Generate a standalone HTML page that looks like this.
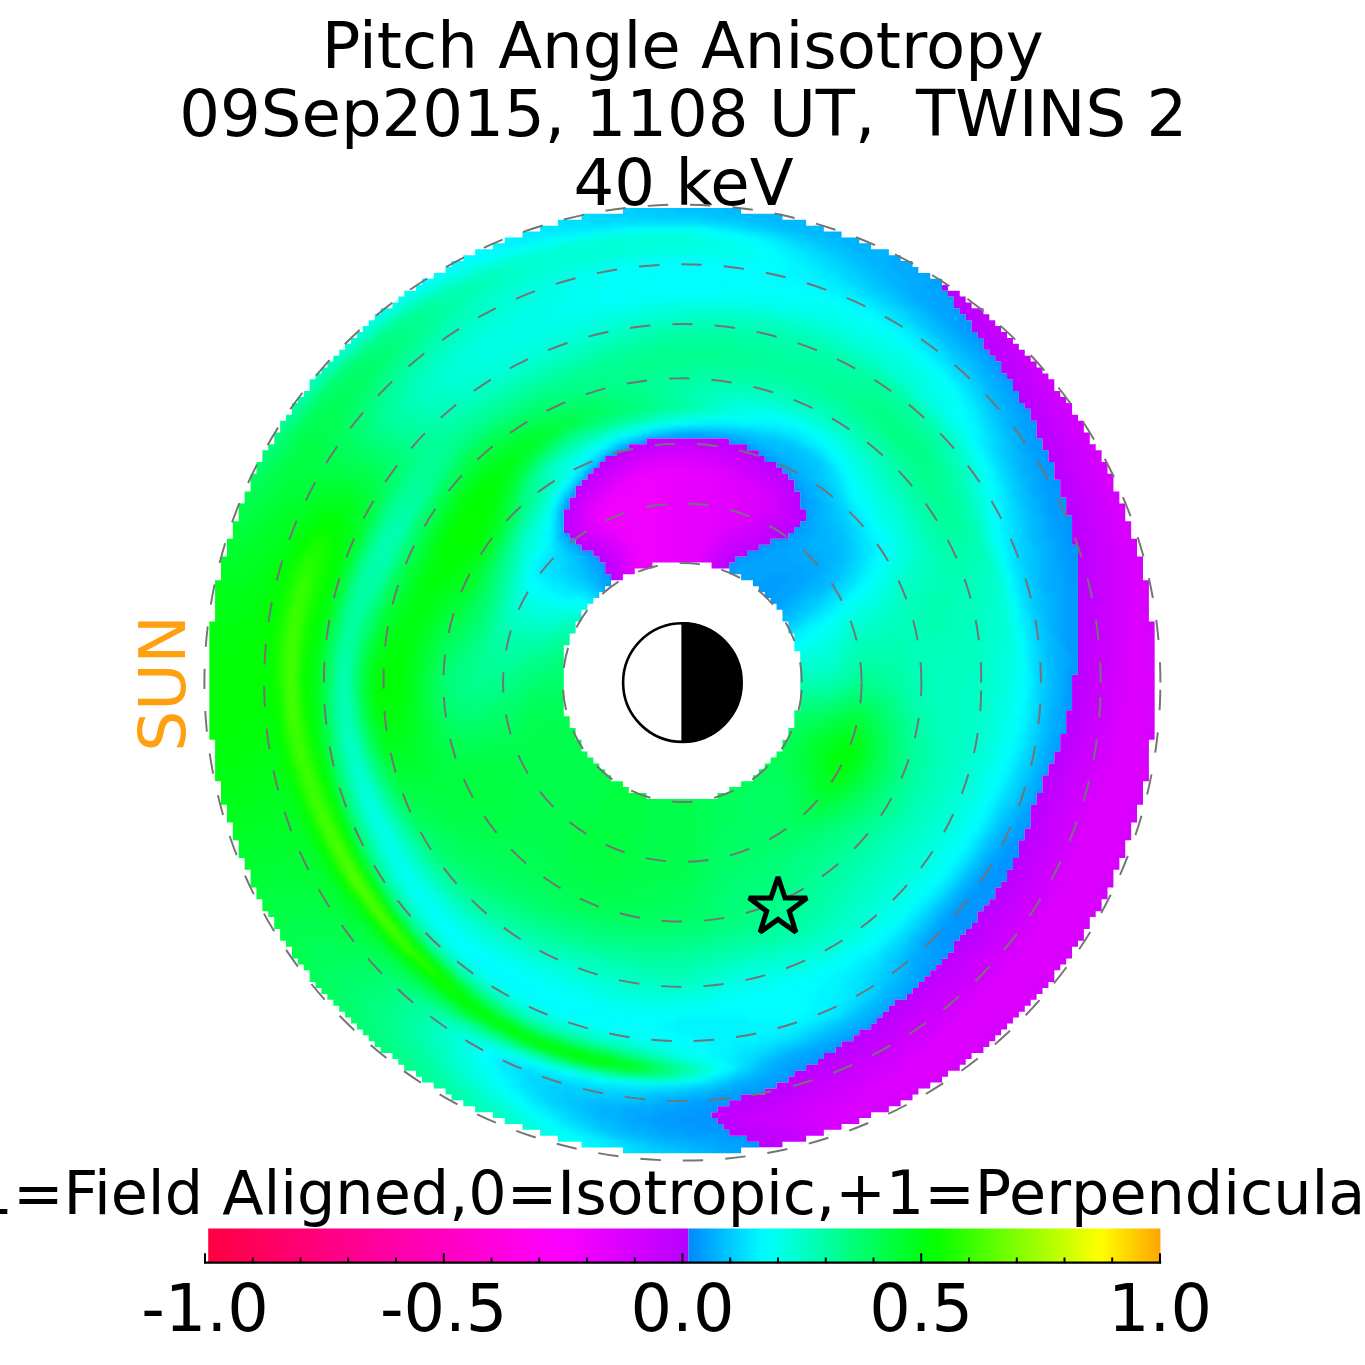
<!DOCTYPE html>
<html><head><meta charset="utf-8"><title>Pitch Angle Anisotropy</title>
<style>
html,body{margin:0;padding:0;background:#fff;}
body{width:1365px;height:1365px;overflow:hidden;}
svg{display:block;}
text{font-family:"DejaVu Sans","Liberation Sans",sans-serif;fill:#000;}
</style></head><body>
<svg width="1365" height="1365" viewBox="0 0 1365 1365">
<rect width="1365" height="1365" fill="#fff"/>
<g font-size="64.1" text-anchor="middle">
<text x="682.8" y="68.3">Pitch Angle Anisotropy</text>
<text x="683.3" y="136.3" xml:space="preserve" style="white-space:pre">09Sep2015, 1108 UT,  TWINS 2</text>
<text x="683.6" y="205">40 keV</text>
</g>
<g transform="translate(209.2 207.9) scale(5.91)">
<defs><clipPath id="cpos"><path shape-rendering="crispEdges" d="M70 0h20v1h-20zM63 1h34v1h-34zM59 2h42v1h-42zM56 3h48v1h-48zM53 4h54v1h-54zM50 5h60v1h-60zM48 6h64v1h-64zM45 7h70v1h-70zM43 8h74v1h-74zM41 9h78v1h-78zM40 10h80v1h-80zM38 11h84v1h-84zM36 12h88v1h-88zM35 13h89v1h-89zM33 14h92v1h-92zM32 15h94v1h-94zM31 16h95v1h-95zM29 17h98v1h-98zM28 18h100v1h-100zM27 19h102v1h-102zM26 20h103v1h-103zM25 21h105v1h-105zM24 22h107v1h-107zM23 23h108v1h-108zM22 24h110v1h-110zM21 25h112v1h-112zM20 26h114v1h-114zM19 27h115v1h-115zM18 28h117v1h-117zM17 29h119v1h-119zM17 30h119v1h-119zM16 31h121v1h-121zM15 32h122v1h-122zM14 33h124v1h-124zM14 34h125v1h-125zM13 35h126v1h-126zM12 36h128v1h-128zM12 37h128v1h-128zM11 38h129v1h-129zM11 39h63v1h-63zM88 39h53v1h-53zM10 40h61v1h-61zM91 40h50v1h-50zM9 41h60v1h-60zM93 41h49v1h-49zM9 42h58v1h-58zM94 42h48v1h-48zM8 43h58v1h-58zM96 43h47v1h-47zM8 44h57v1h-57zM97 44h46v1h-46zM7 45h57v1h-57zM98 45h45v1h-45zM7 46h56v1h-56zM99 46h45v1h-45zM7 47h55v1h-55zM99 47h45v1h-45zM6 48h56v1h-56zM100 48h44v1h-44zM6 49h55v1h-55zM100 49h45v1h-45zM5 50h56v1h-56zM100 50h45v1h-45zM5 51h55v1h-55zM101 51h44v1h-44zM5 52h55v1h-55zM101 52h45v1h-45zM4 53h56v1h-56zM100 53h46v1h-46zM4 54h56v1h-56zM99 54h47v1h-47zM4 55h57v1h-57zM98 55h48v1h-48zM3 56h59v1h-59zM95 56h51v1h-51zM3 57h60v1h-60zM93 57h54v1h-54zM3 58h62v1h-62zM91 58h56v1h-56zM2 59h64v1h-64zM89 59h58v1h-58zM2 60h65v1h-65zM88 60h59v1h-59zM2 61h65v1h-65zM88 61h59v1h-59zM2 62h66v1h-66zM90 62h57v1h-57zM1 63h67v1h-67zM92 63h55v1h-55zM1 64h66v1h-66zM93 64h54v1h-54zM1 65h65v1h-65zM94 65h53v1h-53zM1 66h64v1h-64zM95 66h52v1h-52zM1 67h63v1h-63zM96 67h51v1h-51zM1 68h62v1h-62zM97 68h50v1h-50zM1 69h62v1h-62zM97 69h50v1h-50zM0 70h62v1h-62zM98 70h49v1h-49zM0 71h62v1h-62zM98 71h49v1h-49zM0 72h61v1h-61zM99 72h48v1h-48zM0 73h61v1h-61zM99 73h48v1h-48zM0 74h60v1h-60zM99 74h48v1h-48zM0 75h60v1h-60zM100 75h47v1h-47zM0 76h60v1h-60zM100 76h47v1h-47zM0 77h60v1h-60zM100 77h47v1h-47zM0 78h60v1h-60zM100 78h47v1h-47zM0 79h60v1h-60zM100 79h46v1h-46zM0 80h60v1h-60zM100 80h46v1h-46zM0 81h60v1h-60zM100 81h46v1h-46zM0 82h60v1h-60zM100 82h46v1h-46zM0 83h60v1h-60zM100 83h46v1h-46zM0 84h60v1h-60zM100 84h46v1h-46zM0 85h60v1h-60zM99 85h46v1h-46zM0 86h61v1h-61zM99 86h46v1h-46zM0 87h61v1h-61zM99 87h46v1h-46zM0 88h62v1h-62zM98 88h47v1h-47zM0 89h62v1h-62zM98 89h46v1h-46zM1 90h62v1h-62zM97 90h47v1h-47zM1 91h62v1h-62zM97 91h47v1h-47zM1 92h63v1h-63zM96 92h47v1h-47zM1 93h64v1h-64zM95 93h48v1h-48zM1 94h65v1h-65zM94 94h48v1h-48zM1 95h66v1h-66zM93 95h49v1h-49zM1 96h67v1h-67zM92 96h49v1h-49zM2 97h68v1h-68zM90 97h51v1h-51zM2 98h69v1h-69zM88 98h53v1h-53zM2 99h72v1h-72zM86 99h54v1h-54zM2 100h138v1h-138zM3 101h136v1h-136zM3 102h136v1h-136zM3 103h136v1h-136zM4 104h135v1h-135zM4 105h134v1h-134zM4 106h134v1h-134zM5 107h132v1h-132zM5 108h132v1h-132zM5 109h132v1h-132zM6 110h130v1h-130zM6 111h130v1h-130zM7 112h128v1h-128zM7 113h128v1h-128zM7 114h127v1h-127zM8 115h125v1h-125zM8 116h125v1h-125zM9 117h123v1h-123zM9 118h122v1h-122zM10 119h120v1h-120zM11 120h119v1h-119zM11 121h118v1h-118zM12 122h116v1h-116zM12 123h115v1h-115zM13 124h113v1h-113zM14 125h112v1h-112zM14 126h111v1h-111zM15 127h109v1h-109zM16 128h107v1h-107zM17 129h105v1h-105zM17 130h104v1h-104zM18 131h102v1h-102zM19 132h100v1h-100zM20 133h98v1h-98zM21 134h95v1h-95zM22 135h93v1h-93zM23 136h91v1h-91zM24 137h89v1h-89zM25 138h87v1h-87zM26 139h84v1h-84zM27 140h82v1h-82zM28 141h79v1h-79zM29 142h77v1h-77zM31 143h73v1h-73zM32 144h71v1h-71zM33 145h68v1h-68zM35 146h64v1h-64zM36 147h62v1h-62zM38 148h58v1h-58zM40 149h54v1h-54zM41 150h49v1h-49zM43 151h45v1h-45zM45 152h41v1h-41zM48 153h37v1h-37zM50 154h36v1h-36zM53 155h34v1h-34zM56 156h32v1h-32zM59 157h32v1h-32zM63 158h30v1h-30zM70 159h20v1h-20z"/></clipPath><clipPath id="cneg"><path shape-rendering="crispEdges" d="M124 13h1v1h-1zM125 14h2v1h-2zM126 15h2v1h-2zM126 16h3v1h-3zM127 17h4v1h-4zM128 18h4v1h-4zM129 19h4v1h-4zM129 20h5v1h-5zM130 21h5v1h-5zM131 22h5v1h-5zM131 23h6v1h-6zM132 24h6v1h-6zM133 25h6v1h-6zM134 26h6v1h-6zM134 27h7v1h-7zM135 28h7v1h-7zM136 29h7v1h-7zM136 30h7v1h-7zM137 31h7v1h-7zM137 32h8v1h-8zM138 33h8v1h-8zM139 34h7v1h-7zM139 35h8v1h-8zM140 36h8v1h-8zM140 37h8v1h-8zM140 38h9v1h-9zM74 39h14v1h-14zM141 39h8v1h-8zM71 40h20v1h-20zM141 40h9v1h-9zM69 41h24v1h-24zM142 41h9v1h-9zM67 42h27v1h-27zM142 42h9v1h-9zM66 43h30v1h-30zM143 43h9v1h-9zM65 44h32v1h-32zM143 44h9v1h-9zM64 45h34v1h-34zM143 45h10v1h-10zM63 46h36v1h-36zM144 46h9v1h-9zM62 47h37v1h-37zM144 47h9v1h-9zM62 48h38v1h-38zM144 48h10v1h-10zM61 49h39v1h-39zM145 49h9v1h-9zM61 50h39v1h-39zM145 50h10v1h-10zM60 51h41v1h-41zM145 51h10v1h-10zM60 52h41v1h-41zM146 52h9v1h-9zM60 53h40v1h-40zM146 53h10v1h-10zM60 54h39v1h-39zM146 54h10v1h-10zM61 55h37v1h-37zM146 55h10v1h-10zM62 56h33v1h-33zM146 56h11v1h-11zM63 57h30v1h-30zM147 57h10v1h-10zM65 58h26v1h-26zM147 58h10v1h-10zM66 59h23v1h-23zM147 59h11v1h-11zM67 60h8v1h-8zM85 60h3v1h-3zM147 60h11v1h-11zM67 61h5v1h-5zM147 61h11v1h-11zM68 62h2v1h-2zM147 62h11v1h-11zM147 63h12v1h-12zM147 64h12v1h-12zM147 65h12v1h-12zM147 66h12v1h-12zM147 67h12v1h-12zM147 68h12v1h-12zM147 69h12v1h-12zM147 70h13v1h-13zM147 71h13v1h-13zM147 72h13v1h-13zM147 73h13v1h-13zM147 74h13v1h-13zM147 75h13v1h-13zM147 76h13v1h-13zM147 77h13v1h-13zM147 78h13v1h-13zM146 79h14v1h-14zM146 80h14v1h-14zM146 81h14v1h-14zM146 82h14v1h-14zM146 83h14v1h-14zM146 84h14v1h-14zM145 85h15v1h-15zM145 86h15v1h-15zM145 87h15v1h-15zM145 88h15v1h-15zM144 89h16v1h-16zM144 90h15v1h-15zM144 91h15v1h-15zM143 92h16v1h-16zM143 93h16v1h-16zM142 94h17v1h-17zM142 95h17v1h-17zM141 96h18v1h-18zM141 97h17v1h-17zM141 98h17v1h-17zM140 99h18v1h-18zM140 100h18v1h-18zM139 101h18v1h-18zM139 102h18v1h-18zM139 103h18v1h-18zM139 104h17v1h-17zM138 105h18v1h-18zM138 106h18v1h-18zM137 107h18v1h-18zM137 108h18v1h-18zM137 109h18v1h-18zM136 110h18v1h-18zM136 111h18v1h-18zM135 112h18v1h-18zM135 113h18v1h-18zM134 114h19v1h-19zM133 115h19v1h-19zM133 116h19v1h-19zM132 117h19v1h-19zM131 118h20v1h-20zM130 119h20v1h-20zM130 120h19v1h-19zM129 121h20v1h-20zM128 122h20v1h-20zM127 123h21v1h-21zM126 124h21v1h-21zM126 125h20v1h-20zM125 126h21v1h-21zM124 127h21v1h-21zM123 128h21v1h-21zM122 129h21v1h-21zM121 130h22v1h-22zM120 131h22v1h-22zM119 132h22v1h-22zM118 133h22v1h-22zM116 134h23v1h-23zM115 135h23v1h-23zM114 136h23v1h-23zM113 137h23v1h-23zM112 138h23v1h-23zM110 139h24v1h-24zM109 140h24v1h-24zM107 141h25v1h-25zM106 142h25v1h-25zM104 143h25v1h-25zM103 144h25v1h-25zM101 145h26v1h-26zM99 146h26v1h-26zM98 147h26v1h-26zM96 148h26v1h-26zM94 149h26v1h-26zM90 150h29v1h-29zM88 151h29v1h-29zM86 152h29v1h-29zM85 153h27v1h-27zM86 154h24v1h-24zM87 155h20v1h-20zM88 156h16v1h-16zM91 157h10v1h-10zM93 158h4v1h-4z"/></clipPath><filter id="bl" x="-5%" y="-5%" width="110%" height="110%" color-interpolation-filters="sRGB"><feGaussianBlur stdDeviation="0.45"/></filter></defs>
<g clip-path="url(#cpos)"><g filter="url(#bl)" shape-rendering="crispEdges"><path fill="#0095ff" d="M122 9h2v1h-2zM122 10h3v1h-3zM123 11h4v1h-4zM124 12h4v1h-4zM124 13h5v1h-5zM125 14h6v1h-6zM126 15h6v1h-6zM126 16h7v1h-7zM127 17h7v1h-7zM128 18h7v1h-7zM129 19h7v1h-7zM129 20h8v1h-8zM130 21h8v1h-8zM131 22h8v1h-8zM131 23h9v1h-9zM132 24h9v1h-9zM133 25h9v1h-9zM134 26h9v1h-9zM134 27h10v1h-10zM135 28h10v1h-10zM136 29h10v1h-10zM136 30h10v1h-10zM137 31h10v1h-10zM137 32h11v1h-11zM138 33h11v1h-11zM139 34h10v1h-10zM139 35h11v1h-11zM140 36h11v1h-11zM140 37h11v1h-11zM140 38h12v1h-12zM74 39h14v1h-14zM141 39h11v1h-11zM71 40h20v1h-20zM141 40h12v1h-12zM69 41h24v1h-24zM141 41h13v1h-13zM67 42h27v1h-27zM142 42h12v1h-12zM66 43h30v1h-30zM142 43h13v1h-13zM65 44h32v1h-32zM143 44h12v1h-12zM64 45h34v1h-34zM143 45h13v1h-13zM63 46h36v1h-36zM143 46h13v1h-13zM62 47h37v1h-37zM144 47h12v1h-12zM62 48h38v1h-38zM144 48h13v1h-13zM61 49h39v1h-39zM144 49h13v1h-13zM61 50h39v1h-39zM145 50h13v1h-13zM60 51h41v1h-41zM145 51h13v1h-13zM60 52h41v1h-41zM145 52h13v1h-13zM60 53h40v1h-40zM145 53h14v1h-14zM60 54h39v1h-39zM145 54h14v1h-14zM61 55h37v1h-37zM145 55h14v1h-14zM62 56h33v1h-33zM145 56h15v1h-15zM63 57h30v1h-30zM146 57h14v1h-14zM65 58h26v1h-26zM146 58h14v1h-14zM66 59h23v1h-23zM146 59h15v1h-15zM67 60h21v1h-21zM146 60h15v1h-15zM67 61h21v1h-21zM146 61h15v1h-15zM68 62h20v1h-20zM146 62h15v1h-15zM68 63h7v1h-7zM85 63h2v1h-2zM147 63h15v1h-15zM69 64h3v1h-3zM147 64h15v1h-15zM147 65h15v1h-15zM147 66h15v1h-15zM147 67h15v1h-15zM147 68h15v1h-15zM147 69h15v1h-15zM147 70h16v1h-16zM147 71h16v1h-16zM147 72h16v1h-16zM147 73h16v1h-16zM147 74h16v1h-16zM147 75h16v1h-16zM147 76h16v1h-16zM147 77h16v1h-16zM147 78h16v1h-16zM146 79h17v1h-17zM146 80h17v1h-17zM146 81h17v1h-17zM146 82h17v1h-17zM146 83h17v1h-17zM146 84h17v1h-17zM145 85h18v1h-18zM145 86h18v1h-18zM145 87h18v1h-18zM145 88h18v1h-18zM144 89h19v1h-19zM144 90h18v1h-18zM144 91h18v1h-18zM143 92h19v1h-19zM143 93h19v1h-19zM142 94h20v1h-20zM142 95h20v1h-20zM141 96h21v1h-21zM141 97h20v1h-20zM141 98h20v1h-20zM140 99h21v1h-21zM140 100h21v1h-21zM139 101h21v1h-21zM139 102h21v1h-21zM139 103h21v1h-21zM139 104h20v1h-20zM138 105h21v1h-21zM137 106h22v1h-22zM136 107h22v1h-22zM135 108h23v1h-23zM135 109h23v1h-23zM134 110h23v1h-23zM133 111h24v1h-24zM132 112h24v1h-24zM131 113h25v1h-25zM130 114h26v1h-26zM130 115h25v1h-25zM129 116h26v1h-26zM128 117h26v1h-26zM127 118h27v1h-27zM126 119h27v1h-27zM126 120h26v1h-26zM125 121h27v1h-27zM124 122h27v1h-27zM124 123h27v1h-27zM124 124h26v1h-26zM124 125h25v1h-25zM125 126h24v1h-24zM124 127h24v1h-24zM123 128h24v1h-24zM122 129h24v1h-24zM121 130h25v1h-25zM120 131h25v1h-25zM119 132h25v1h-25zM118 133h25v1h-25zM116 134h26v1h-26zM115 135h26v1h-26zM114 136h26v1h-26zM113 137h26v1h-26zM112 138h26v1h-26zM110 139h27v1h-27zM109 140h27v1h-27zM107 141h28v1h-28zM106 142h28v1h-28zM104 143h29v1h-29zM103 144h29v1h-29zM101 145h30v1h-30zM99 146h30v1h-30zM98 147h30v1h-30zM96 148h31v1h-31zM94 149h31v1h-31zM90 150h34v1h-34zM87 151h35v1h-35zM84 152h36v1h-36zM82 153h37v1h-37zM80 154h37v1h-37zM83 155h32v1h-32zM88 156h24v1h-24zM91 157h19v1h-19zM93 158h14v1h-14zM93 159h11v1h-11zM94 160h7v1h-7zM94 161h3v1h-3z"/><path fill="#009cff" d="M126 17h1v1h-1zM127 18h1v1h-1zM127 19h2v1h-2zM127 20h2v1h-2zM128 21h2v1h-2zM129 22h2v1h-2zM130 23h1v1h-1zM131 24h1v1h-1zM132 25h1v1h-1zM133 26h1v1h-1zM133 27h1v1h-1zM134 28h1v1h-1zM135 29h1v1h-1zM136 31h1v1h-1zM137 33h1v1h-1zM138 34h1v1h-1zM138 35h1v1h-1zM138 36h2v1h-2zM138 37h2v1h-2zM139 38h1v1h-1zM88 39h1v1h-1zM139 39h2v1h-2zM91 40h1v1h-1zM139 40h2v1h-2zM140 41h1v1h-1zM94 42h1v1h-1zM140 42h2v1h-2zM140 43h2v1h-2zM97 44h1v1h-1zM141 44h2v1h-2zM98 45h1v1h-1zM141 45h2v1h-2zM99 46h1v1h-1zM141 46h2v1h-2zM99 47h1v1h-1zM141 47h3v1h-3zM61 48h1v1h-1zM100 48h1v1h-1zM142 48h2v1h-2zM100 49h1v1h-1zM142 49h2v1h-2zM60 50h1v1h-1zM100 50h1v1h-1zM142 50h3v1h-3zM142 51h3v1h-3zM143 52h2v1h-2zM100 53h1v1h-1zM143 53h2v1h-2zM99 54h1v1h-1zM143 54h2v1h-2zM60 55h1v1h-1zM98 55h1v1h-1zM144 55h1v1h-1zM61 56h1v1h-1zM95 56h3v1h-3zM144 56h1v1h-1zM93 57h3v1h-3zM144 57h2v1h-2zM64 58h1v1h-1zM91 58h3v1h-3zM144 58h2v1h-2zM89 59h3v1h-3zM144 59h2v1h-2zM66 60h1v1h-1zM88 60h2v1h-2zM145 60h1v1h-1zM88 61h1v1h-1zM145 61h1v1h-1zM67 62h1v1h-1zM88 62h1v1h-1zM94 62h5v1h-5zM145 62h1v1h-1zM67 63h1v1h-1zM87 63h1v1h-1zM92 63h6v1h-6zM145 63h2v1h-2zM68 64h1v1h-1zM92 64h5v1h-5zM145 64h2v1h-2zM69 65h1v1h-1zM92 65h4v1h-4zM145 65h2v1h-2zM92 66h4v1h-4zM145 66h2v1h-2zM93 67h1v1h-1zM145 67h2v1h-2zM145 68h2v1h-2zM145 69h2v1h-2zM145 70h2v1h-2zM145 71h2v1h-2zM145 72h2v1h-2zM145 73h2v1h-2zM145 74h2v1h-2zM146 75h1v1h-1zM146 76h1v1h-1zM146 77h1v1h-1zM145 78h2v1h-2zM145 79h1v1h-1zM145 80h1v1h-1zM145 81h1v1h-1zM145 82h1v1h-1zM145 83h1v1h-1zM145 84h1v1h-1zM138 102h1v1h-1zM138 103h1v1h-1zM137 104h2v1h-2zM137 105h1v1h-1zM136 106h1v1h-1zM135 107h1v1h-1zM134 108h1v1h-1zM134 109h1v1h-1zM133 110h1v1h-1zM132 111h1v1h-1zM131 112h1v1h-1zM130 113h1v1h-1zM129 115h1v1h-1zM128 116h1v1h-1zM127 117h1v1h-1zM126 118h1v1h-1zM125 119h1v1h-1zM125 120h1v1h-1zM124 121h1v1h-1zM123 122h1v1h-1zM123 123h1v1h-1zM122 124h2v1h-2zM122 125h2v1h-2zM122 126h3v1h-3zM122 127h2v1h-2zM121 128h2v1h-2zM121 129h1v1h-1zM108 140h1v1h-1zM106 141h1v1h-1zM104 142h2v1h-2zM102 143h2v1h-2zM100 144h3v1h-3zM98 145h3v1h-3zM97 146h2v1h-2zM95 147h3v1h-3zM93 148h3v1h-3zM90 149h4v1h-4zM86 150h4v1h-4zM82 151h5v1h-5zM79 152h5v1h-5zM76 153h6v1h-6zM75 154h5v1h-5zM77 155h6v1h-6zM80 156h8v1h-8zM86 157h5v1h-5zM90 158h3v1h-3zM90 159h3v1h-3zM90 160h4v1h-4zM91 161h3v1h-3z"/><path fill="#00a4ff" d="M121 11h2v1h-2zM121 12h3v1h-3zM121 13h3v1h-3zM122 14h3v1h-3zM122 15h4v1h-4zM122 16h4v1h-4zM123 17h3v1h-3zM124 18h3v1h-3zM125 19h2v1h-2zM126 20h1v1h-1zM127 21h1v1h-1zM128 22h1v1h-1zM129 23h1v1h-1zM130 24h1v1h-1zM131 25h1v1h-1zM131 26h2v1h-2zM132 27h1v1h-1zM133 28h1v1h-1zM134 29h1v1h-1zM134 30h2v1h-2zM135 31h1v1h-1zM135 32h2v1h-2zM136 33h1v1h-1zM136 34h2v1h-2zM137 35h1v1h-1zM137 36h1v1h-1zM137 37h1v1h-1zM79 38h5v1h-5zM138 38h1v1h-1zM73 39h1v1h-1zM89 39h1v1h-1zM138 39h1v1h-1zM70 40h1v1h-1zM138 40h1v1h-1zM68 41h1v1h-1zM93 41h1v1h-1zM138 41h2v1h-2zM95 42h1v1h-1zM139 42h1v1h-1zM96 43h1v1h-1zM139 43h1v1h-1zM98 44h1v1h-1zM139 44h2v1h-2zM140 45h1v1h-1zM140 46h1v1h-1zM100 47h1v1h-1zM140 47h1v1h-1zM140 48h2v1h-2zM101 49h1v1h-1zM141 49h1v1h-1zM101 50h1v1h-1zM141 50h1v1h-1zM101 51h1v1h-1zM141 51h1v1h-1zM101 52h1v1h-1zM142 52h1v1h-1zM101 53h1v1h-1zM142 53h1v1h-1zM100 54h2v1h-2zM142 54h1v1h-1zM99 55h2v1h-2zM142 55h2v1h-2zM98 56h2v1h-2zM143 56h1v1h-1zM62 57h1v1h-1zM96 57h3v1h-3zM143 57h1v1h-1zM94 58h4v1h-4zM143 58h1v1h-1zM65 59h1v1h-1zM92 59h7v1h-7zM143 59h1v1h-1zM65 60h1v1h-1zM90 60h11v1h-11zM143 60h2v1h-2zM66 61h1v1h-1zM89 61h13v1h-13zM143 61h2v1h-2zM66 62h1v1h-1zM89 62h5v1h-5zM99 62h2v1h-2zM144 62h1v1h-1zM88 63h4v1h-4zM98 63h3v1h-3zM144 63h1v1h-1zM67 64h1v1h-1zM88 64h4v1h-4zM97 64h3v1h-3zM144 64h1v1h-1zM68 65h1v1h-1zM90 65h2v1h-2zM96 65h3v1h-3zM144 65h1v1h-1zM96 66h2v1h-2zM144 66h1v1h-1zM94 67h3v1h-3zM144 67h1v1h-1zM94 68h1v1h-1zM144 68h1v1h-1zM144 69h1v1h-1zM144 70h1v1h-1zM144 71h1v1h-1zM144 72h1v1h-1zM144 73h1v1h-1zM145 75h1v1h-1zM145 76h1v1h-1zM145 77h1v1h-1zM144 82h1v1h-1zM144 83h1v1h-1zM144 84h1v1h-1zM144 85h1v1h-1zM144 86h1v1h-1zM144 87h1v1h-1zM144 88h1v1h-1zM143 89h1v1h-1zM143 90h1v1h-1zM143 91h1v1h-1zM142 92h1v1h-1zM142 93h1v1h-1zM141 95h1v1h-1zM140 97h1v1h-1zM140 98h1v1h-1zM139 99h1v1h-1zM139 100h1v1h-1zM138 101h1v1h-1zM137 103h1v1h-1zM136 104h1v1h-1zM136 105h1v1h-1zM135 106h1v1h-1zM134 107h1v1h-1zM133 109h1v1h-1zM132 110h1v1h-1zM131 111h1v1h-1zM130 112h1v1h-1zM129 114h1v1h-1zM128 115h1v1h-1zM127 116h1v1h-1zM126 117h1v1h-1zM124 120h1v1h-1zM123 121h1v1h-1zM122 122h1v1h-1zM122 123h1v1h-1zM121 124h1v1h-1zM121 125h1v1h-1zM120 126h2v1h-2zM120 127h2v1h-2zM120 128h1v1h-1zM119 129h2v1h-2zM119 130h2v1h-2zM118 131h2v1h-2zM118 132h1v1h-1zM117 133h1v1h-1zM112 137h1v1h-1zM111 138h1v1h-1zM109 139h1v1h-1zM107 140h1v1h-1zM105 141h1v1h-1zM102 142h2v1h-2zM100 143h2v1h-2zM98 144h2v1h-2zM97 145h1v1h-1zM95 146h2v1h-2zM93 147h2v1h-2zM91 148h2v1h-2zM88 149h2v1h-2zM84 150h2v1h-2zM79 151h3v1h-3zM75 152h4v1h-4zM72 153h4v1h-4zM72 154h3v1h-3zM74 155h3v1h-3zM76 156h4v1h-4zM81 157h5v1h-5zM86 158h4v1h-4zM88 159h2v1h-2zM88 160h2v1h-2zM88 161h3v1h-3zM88 162h2v1h-2z"/><path fill="#00abff" d="M116 5h1v1h-1zM116 6h3v1h-3zM115 7h5v1h-5zM115 8h7v1h-7zM115 9h7v1h-7zM116 10h6v1h-6zM117 11h4v1h-4zM118 12h3v1h-3zM118 13h3v1h-3zM119 14h3v1h-3zM119 15h3v1h-3zM121 16h1v1h-1zM122 17h1v1h-1zM123 18h1v1h-1zM124 19h1v1h-1zM125 20h1v1h-1zM126 21h1v1h-1zM127 22h1v1h-1zM128 23h1v1h-1zM129 24h1v1h-1zM130 25h1v1h-1zM131 27h1v1h-1zM132 28h1v1h-1zM133 29h1v1h-1zM133 30h1v1h-1zM134 31h1v1h-1zM134 32h1v1h-1zM135 33h1v1h-1zM135 34h1v1h-1zM136 35h1v1h-1zM136 36h1v1h-1zM136 37h1v1h-1zM78 38h1v1h-1zM84 38h3v1h-3zM137 38h1v1h-1zM90 39h1v1h-1zM137 39h1v1h-1zM92 40h1v1h-1zM137 40h1v1h-1zM94 41h1v1h-1zM137 41h1v1h-1zM96 42h1v1h-1zM138 42h1v1h-1zM97 43h1v1h-1zM138 43h1v1h-1zM64 44h1v1h-1zM138 44h1v1h-1zM99 45h1v1h-1zM139 45h1v1h-1zM100 46h1v1h-1zM139 46h1v1h-1zM101 47h1v1h-1zM139 47h1v1h-1zM101 48h1v1h-1zM139 48h1v1h-1zM60 49h1v1h-1zM102 49h1v1h-1zM140 49h1v1h-1zM102 50h1v1h-1zM140 50h1v1h-1zM102 51h1v1h-1zM140 51h1v1h-1zM102 52h1v1h-1zM141 52h1v1h-1zM102 53h1v1h-1zM141 53h1v1h-1zM102 54h1v1h-1zM141 54h1v1h-1zM101 55h2v1h-2zM141 55h1v1h-1zM100 56h2v1h-2zM142 56h1v1h-1zM99 57h3v1h-3zM142 57h1v1h-1zM63 58h1v1h-1zM98 58h6v1h-6zM142 58h1v1h-1zM64 59h1v1h-1zM99 59h5v1h-5zM142 59h1v1h-1zM64 60h1v1h-1zM101 60h3v1h-3zM142 60h1v1h-1zM65 61h1v1h-1zM102 61h2v1h-2zM142 61h1v1h-1zM101 62h2v1h-2zM142 62h2v1h-2zM66 63h1v1h-1zM101 63h1v1h-1zM142 63h2v1h-2zM100 64h1v1h-1zM142 64h2v1h-2zM99 65h1v1h-1zM143 65h1v1h-1zM98 66h1v1h-1zM143 66h1v1h-1zM97 67h1v1h-1zM143 67h1v1h-1zM95 68h2v1h-2zM143 68h1v1h-1zM94 69h2v1h-2zM143 69h1v1h-1zM143 70h1v1h-1zM143 71h1v1h-1zM143 72h1v1h-1zM144 74h1v1h-1zM144 75h1v1h-1zM144 76h1v1h-1zM144 77h1v1h-1zM144 78h1v1h-1zM144 79h1v1h-1zM144 80h1v1h-1zM144 81h1v1h-1zM143 84h1v1h-1zM143 85h1v1h-1zM143 86h1v1h-1zM143 87h1v1h-1zM143 88h1v1h-1zM142 89h1v1h-1zM142 90h1v1h-1zM142 91h1v1h-1zM141 92h1v1h-1zM141 93h1v1h-1zM141 94h1v1h-1zM140 95h1v1h-1zM140 96h1v1h-1zM139 98h1v1h-1zM138 100h1v1h-1zM137 102h1v1h-1zM136 103h1v1h-1zM135 105h1v1h-1zM134 106h1v1h-1zM133 108h1v1h-1zM132 109h1v1h-1zM131 110h1v1h-1zM129 113h1v1h-1zM128 114h1v1h-1zM127 115h1v1h-1zM125 118h1v1h-1zM124 119h1v1h-1zM123 120h1v1h-1zM121 123h1v1h-1zM120 124h1v1h-1zM120 125h1v1h-1zM119 126h1v1h-1zM119 127h1v1h-1zM119 128h1v1h-1zM118 129h1v1h-1zM118 130h1v1h-1zM117 131h1v1h-1zM116 132h2v1h-2zM115 133h2v1h-2zM114 134h2v1h-2zM113 135h2v1h-2zM112 136h2v1h-2zM111 137h1v1h-1zM109 138h2v1h-2zM108 139h1v1h-1zM106 140h1v1h-1zM103 141h2v1h-2zM100 142h2v1h-2zM98 143h2v1h-2zM96 144h2v1h-2zM95 145h2v1h-2zM94 146h1v1h-1zM92 147h1v1h-1zM89 148h2v1h-2zM86 149h2v1h-2zM81 150h3v1h-3zM76 151h3v1h-3zM70 152h5v1h-5zM69 153h3v1h-3zM70 154h2v1h-2zM71 155h3v1h-3zM74 156h2v1h-2zM77 157h4v1h-4zM82 158h4v1h-4zM85 159h3v1h-3zM86 160h2v1h-2zM86 161h2v1h-2zM86 162h2v1h-2z"/><path fill="#00b3ff" d="M104 1h3v1h-3zM104 2h6v1h-6zM104 3h8v1h-8zM105 4h10v1h-10zM107 5h9v1h-9zM108 6h8v1h-8zM110 7h5v1h-5zM111 8h4v1h-4zM112 9h3v1h-3zM114 10h2v1h-2zM114 11h3v1h-3zM115 12h3v1h-3zM116 13h2v1h-2zM117 14h2v1h-2zM118 15h1v1h-1zM119 16h2v1h-2zM121 17h1v1h-1zM122 18h1v1h-1zM123 19h1v1h-1zM124 20h1v1h-1zM125 21h1v1h-1zM126 22h1v1h-1zM127 23h1v1h-1zM128 24h1v1h-1zM129 25h1v1h-1zM130 26h1v1h-1zM130 27h1v1h-1zM131 28h1v1h-1zM132 29h1v1h-1zM132 30h1v1h-1zM133 31h1v1h-1zM133 32h1v1h-1zM134 33h1v1h-1zM134 34h1v1h-1zM135 35h1v1h-1zM135 36h1v1h-1zM135 37h1v1h-1zM77 38h1v1h-1zM87 38h1v1h-1zM136 38h1v1h-1zM91 39h1v1h-1zM136 39h1v1h-1zM93 40h1v1h-1zM136 40h1v1h-1zM95 41h1v1h-1zM97 42h1v1h-1zM137 42h1v1h-1zM65 43h1v1h-1zM98 43h1v1h-1zM137 43h1v1h-1zM99 44h1v1h-1zM137 44h1v1h-1zM63 45h1v1h-1zM100 45h1v1h-1zM138 45h1v1h-1zM62 46h1v1h-1zM101 46h1v1h-1zM138 46h1v1h-1zM102 47h1v1h-1zM138 47h1v1h-1zM102 48h1v1h-1zM103 49h1v1h-1zM139 49h1v1h-1zM103 50h1v1h-1zM139 50h1v1h-1zM103 51h1v1h-1zM139 51h1v1h-1zM103 52h1v1h-1zM140 52h1v1h-1zM103 53h1v1h-1zM140 53h1v1h-1zM103 54h2v1h-2zM140 54h1v1h-1zM103 55h2v1h-2zM140 55h1v1h-1zM60 56h1v1h-1zM102 56h3v1h-3zM140 56h2v1h-2zM61 57h1v1h-1zM102 57h4v1h-4zM141 57h1v1h-1zM62 58h1v1h-1zM104 58h2v1h-2zM141 58h1v1h-1zM63 59h1v1h-1zM104 59h2v1h-2zM141 59h1v1h-1zM104 60h1v1h-1zM141 60h1v1h-1zM64 61h1v1h-1zM104 61h1v1h-1zM141 61h1v1h-1zM65 62h1v1h-1zM103 62h1v1h-1zM141 62h1v1h-1zM102 63h2v1h-2zM141 63h1v1h-1zM66 64h1v1h-1zM101 64h2v1h-2zM141 64h1v1h-1zM67 65h1v1h-1zM100 65h1v1h-1zM141 65h2v1h-2zM99 66h1v1h-1zM142 66h1v1h-1zM98 67h1v1h-1zM142 67h1v1h-1zM97 68h1v1h-1zM142 68h1v1h-1zM96 69h1v1h-1zM142 69h1v1h-1zM142 70h1v1h-1zM142 71h1v1h-1zM143 73h1v1h-1zM143 74h1v1h-1zM143 75h1v1h-1zM143 76h1v1h-1zM143 77h1v1h-1zM143 78h1v1h-1zM143 79h1v1h-1zM143 80h1v1h-1zM143 81h1v1h-1zM143 82h1v1h-1zM143 83h1v1h-1zM142 85h1v1h-1zM142 86h1v1h-1zM142 87h1v1h-1zM142 88h1v1h-1zM141 90h1v1h-1zM141 91h1v1h-1zM140 93h1v1h-1zM140 94h1v1h-1zM139 96h1v1h-1zM139 97h1v1h-1zM138 98h1v1h-1zM138 99h1v1h-1zM137 100h1v1h-1zM137 101h1v1h-1zM136 102h1v1h-1zM135 104h1v1h-1zM134 105h1v1h-1zM133 107h1v1h-1zM132 108h1v1h-1zM131 109h1v1h-1zM130 111h1v1h-1zM129 112h1v1h-1zM128 113h1v1h-1zM126 116h1v1h-1zM125 117h1v1h-1zM124 118h1v1h-1zM122 121h1v1h-1zM121 122h1v1h-1zM120 123h1v1h-1zM119 125h1v1h-1zM118 126h1v1h-1zM118 127h1v1h-1zM118 128h1v1h-1zM117 129h1v1h-1zM117 130h1v1h-1zM116 131h1v1h-1zM115 132h1v1h-1zM114 133h1v1h-1zM113 134h1v1h-1zM112 135h1v1h-1zM111 136h1v1h-1zM110 137h1v1h-1zM108 138h1v1h-1zM106 139h2v1h-2zM104 140h2v1h-2zM102 141h1v1h-1zM99 142h1v1h-1zM97 143h1v1h-1zM95 144h1v1h-1zM94 145h1v1h-1zM92 146h2v1h-2zM90 147h2v1h-2zM88 148h1v1h-1zM85 149h1v1h-1zM79 150h2v1h-2zM73 151h3v1h-3zM66 152h4v1h-4zM66 153h3v1h-3zM68 154h2v1h-2zM69 155h2v1h-2zM71 156h3v1h-3zM75 157h2v1h-2zM79 158h3v1h-3zM83 159h2v1h-2zM83 160h3v1h-3zM83 161h3v1h-3zM83 162h3v1h-3z"/><path fill="#00baff" d="M84 -3h6v1h-6zM84 -2h13v1h-13zM84 -1h17v1h-17zM87 0h17v1h-17zM91 1h13v1h-13zM95 2h9v1h-9zM98 3h6v1h-6zM101 4h4v1h-4zM104 5h3v1h-3zM106 6h2v1h-2zM108 7h2v1h-2zM109 8h2v1h-2zM111 9h1v1h-1zM112 10h2v1h-2zM113 11h1v1h-1zM114 12h1v1h-1zM115 13h1v1h-1zM116 14h1v1h-1zM117 15h1v1h-1zM118 16h1v1h-1zM120 17h1v1h-1zM121 18h1v1h-1zM122 19h1v1h-1zM123 20h1v1h-1zM124 21h1v1h-1zM125 22h1v1h-1zM126 23h1v1h-1zM127 24h1v1h-1zM128 25h1v1h-1zM129 26h1v1h-1zM129 27h1v1h-1zM130 28h1v1h-1zM131 29h1v1h-1zM131 30h1v1h-1zM132 31h1v1h-1zM132 32h1v1h-1zM133 33h1v1h-1zM133 34h1v1h-1zM134 35h1v1h-1zM134 36h1v1h-1zM76 38h1v1h-1zM88 38h2v1h-2zM135 38h1v1h-1zM72 39h1v1h-1zM92 39h1v1h-1zM135 39h1v1h-1zM69 40h1v1h-1zM94 40h2v1h-2zM96 41h3v1h-3zM136 41h1v1h-1zM66 42h1v1h-1zM98 42h2v1h-2zM136 42h1v1h-1zM99 43h2v1h-2zM136 43h1v1h-1zM100 44h2v1h-2zM101 45h1v1h-1zM137 45h1v1h-1zM102 46h1v1h-1zM137 46h1v1h-1zM103 47h1v1h-1zM103 48h1v1h-1zM138 48h1v1h-1zM138 49h1v1h-1zM104 50h1v1h-1zM138 50h1v1h-1zM59 51h1v1h-1zM104 51h1v1h-1zM59 52h1v1h-1zM104 52h1v1h-1zM139 52h1v1h-1zM59 53h1v1h-1zM104 53h2v1h-2zM139 53h1v1h-1zM59 54h1v1h-1zM105 54h1v1h-1zM139 54h1v1h-1zM59 55h1v1h-1zM105 55h2v1h-2zM139 55h1v1h-1zM105 56h2v1h-2zM139 56h1v1h-1zM106 57h1v1h-1zM140 57h1v1h-1zM106 58h1v1h-1zM140 58h1v1h-1zM62 59h1v1h-1zM106 59h1v1h-1zM140 59h1v1h-1zM63 60h1v1h-1zM105 60h2v1h-2zM140 60h1v1h-1zM63 61h1v1h-1zM105 61h1v1h-1zM140 61h1v1h-1zM64 62h1v1h-1zM104 62h2v1h-2zM140 62h1v1h-1zM65 63h1v1h-1zM104 63h1v1h-1zM140 63h1v1h-1zM103 64h1v1h-1zM140 64h1v1h-1zM66 65h1v1h-1zM101 65h2v1h-2zM67 66h1v1h-1zM100 66h1v1h-1zM141 66h1v1h-1zM99 67h1v1h-1zM141 67h1v1h-1zM98 68h1v1h-1zM141 68h1v1h-1zM97 69h1v1h-1zM141 69h1v1h-1zM95 70h1v1h-1zM141 70h1v1h-1zM142 72h1v1h-1zM142 73h1v1h-1zM142 74h1v1h-1zM142 75h1v1h-1zM142 76h1v1h-1zM142 77h1v1h-1zM142 78h1v1h-1zM142 79h1v1h-1zM142 80h1v1h-1zM142 81h1v1h-1zM142 82h1v1h-1zM142 83h1v1h-1zM142 84h1v1h-1zM141 87h1v1h-1zM141 88h1v1h-1zM141 89h1v1h-1zM140 91h1v1h-1zM140 92h1v1h-1zM139 94h1v1h-1zM139 95h1v1h-1zM138 97h1v1h-1zM137 99h1v1h-1zM136 101h1v1h-1zM135 103h1v1h-1zM134 104h1v1h-1zM133 106h1v1h-1zM132 107h1v1h-1zM130 110h1v1h-1zM129 111h1v1h-1zM127 114h1v1h-1zM126 115h1v1h-1zM123 119h1v1h-1zM122 120h1v1h-1zM121 121h1v1h-1zM119 124h1v1h-1zM118 125h1v1h-1zM117 127h1v1h-1zM117 128h1v1h-1zM116 129h1v1h-1zM116 130h1v1h-1zM115 131h1v1h-1zM114 132h1v1h-1zM113 133h1v1h-1zM112 134h1v1h-1zM111 135h1v1h-1zM110 136h1v1h-1zM109 137h1v1h-1zM107 138h1v1h-1zM105 139h1v1h-1zM103 140h1v1h-1zM101 141h1v1h-1zM98 142h1v1h-1zM96 143h1v1h-1zM94 144h1v1h-1zM93 145h1v1h-1zM89 147h1v1h-1zM87 148h1v1h-1zM83 149h2v1h-2zM76 150h3v1h-3zM64 151h9v1h-9zM64 152h2v1h-2zM65 153h1v1h-1zM66 154h2v1h-2zM68 155h1v1h-1zM70 156h1v1h-1zM73 157h2v1h-2zM77 158h2v1h-2zM81 159h2v1h-2zM81 160h2v1h-2zM81 161h2v1h-2zM81 162h2v1h-2z"/><path fill="#00c1ff" d="M77 -3h7v1h-7zM77 -2h7v1h-7zM77 -1h7v1h-7zM79 0h8v1h-8zM84 1h7v1h-7zM91 2h4v1h-4zM96 3h2v1h-2zM99 4h2v1h-2zM102 5h2v1h-2zM104 6h2v1h-2zM106 7h2v1h-2zM108 8h1v1h-1zM109 9h2v1h-2zM110 10h2v1h-2zM111 11h2v1h-2zM112 12h2v1h-2zM113 13h2v1h-2zM115 14h1v1h-1zM116 15h1v1h-1zM117 16h1v1h-1zM119 17h1v1h-1zM120 18h1v1h-1zM121 19h1v1h-1zM122 20h1v1h-1zM123 21h1v1h-1zM124 22h1v1h-1zM125 23h1v1h-1zM126 24h1v1h-1zM127 25h1v1h-1zM128 26h1v1h-1zM129 28h1v1h-1zM130 29h1v1h-1zM131 31h1v1h-1zM132 33h1v1h-1zM133 35h1v1h-1zM134 37h1v1h-1zM75 38h1v1h-1zM90 38h2v1h-2zM134 38h1v1h-1zM93 39h3v1h-3zM96 40h3v1h-3zM135 40h1v1h-1zM67 41h1v1h-1zM99 41h2v1h-2zM135 41h1v1h-1zM100 42h2v1h-2zM135 42h1v1h-1zM101 43h2v1h-2zM102 44h1v1h-1zM136 44h1v1h-1zM102 45h1v1h-1zM136 45h1v1h-1zM103 46h1v1h-1zM61 47h1v1h-1zM137 47h1v1h-1zM104 48h1v1h-1zM137 48h1v1h-1zM104 49h1v1h-1zM137 49h1v1h-1zM105 50h1v1h-1zM105 51h1v1h-1zM138 51h1v1h-1zM105 52h1v1h-1zM138 52h1v1h-1zM106 53h1v1h-1zM138 53h1v1h-1zM106 54h1v1h-1zM138 54h1v1h-1zM107 55h1v1h-1zM138 55h1v1h-1zM107 56h1v1h-1zM60 57h1v1h-1zM107 57h1v1h-1zM139 57h1v1h-1zM61 58h1v1h-1zM107 58h1v1h-1zM139 58h1v1h-1zM107 59h1v1h-1zM139 59h1v1h-1zM62 60h1v1h-1zM139 60h1v1h-1zM62 61h1v1h-1zM106 61h1v1h-1zM139 61h1v1h-1zM63 62h1v1h-1zM106 62h1v1h-1zM139 62h1v1h-1zM64 63h1v1h-1zM105 63h1v1h-1zM139 63h1v1h-1zM65 64h1v1h-1zM104 64h1v1h-1zM103 65h1v1h-1zM140 65h1v1h-1zM101 66h1v1h-1zM140 66h1v1h-1zM100 67h1v1h-1zM140 67h1v1h-1zM99 68h1v1h-1zM140 68h1v1h-1zM98 69h1v1h-1zM96 70h1v1h-1zM95 71h1v1h-1zM141 71h1v1h-1zM141 72h1v1h-1zM141 73h1v1h-1zM141 74h1v1h-1zM141 75h1v1h-1zM141 76h1v1h-1zM141 83h1v1h-1zM141 84h1v1h-1zM141 85h1v1h-1zM141 86h1v1h-1zM140 89h1v1h-1zM140 90h1v1h-1zM139 93h1v1h-1zM138 96h1v1h-1zM137 98h1v1h-1zM136 100h1v1h-1zM135 102h1v1h-1zM134 103h1v1h-1zM133 105h1v1h-1zM132 106h1v1h-1zM131 108h1v1h-1zM130 109h1v1h-1zM128 112h1v1h-1zM127 113h1v1h-1zM125 116h1v1h-1zM124 117h1v1h-1zM123 118h1v1h-1zM122 119h1v1h-1zM120 122h1v1h-1zM119 123h1v1h-1zM118 124h1v1h-1zM117 125h1v1h-1zM117 126h1v1h-1zM116 127h1v1h-1zM116 128h1v1h-1zM115 129h1v1h-1zM115 130h1v1h-1zM114 131h1v1h-1zM110 135h1v1h-1zM109 136h1v1h-1zM108 137h1v1h-1zM106 138h1v1h-1zM104 139h1v1h-1zM102 140h1v1h-1zM100 141h1v1h-1zM97 142h1v1h-1zM95 143h1v1h-1zM93 144h1v1h-1zM92 145h1v1h-1zM91 146h1v1h-1zM88 147h1v1h-1zM86 148h1v1h-1zM81 149h2v1h-2zM73 150h3v1h-3zM61 151h3v1h-3zM62 152h2v1h-2zM63 153h2v1h-2zM65 154h1v1h-1zM66 155h2v1h-2zM68 156h2v1h-2zM71 157h2v1h-2zM75 158h2v1h-2zM79 159h2v1h-2zM79 160h2v1h-2zM79 161h2v1h-2zM79 162h2v1h-2z"/><path fill="#00c9ff" d="M72 -3h5v1h-5zM72 -2h5v1h-5zM72 -1h5v1h-5zM72 0h7v1h-7zM76 1h8v1h-8zM89 2h2v1h-2zM94 3h2v1h-2zM97 4h2v1h-2zM100 5h2v1h-2zM103 6h1v1h-1zM105 7h1v1h-1zM106 8h2v1h-2zM108 9h1v1h-1zM109 10h1v1h-1zM110 11h1v1h-1zM111 12h1v1h-1zM112 13h1v1h-1zM114 14h1v1h-1zM115 15h1v1h-1zM116 16h1v1h-1zM118 17h1v1h-1zM119 18h1v1h-1zM120 19h1v1h-1zM121 20h1v1h-1zM122 21h1v1h-1zM123 22h1v1h-1zM124 23h1v1h-1zM125 24h1v1h-1zM126 25h1v1h-1zM127 26h1v1h-1zM128 27h1v1h-1zM129 29h1v1h-1zM130 30h1v1h-1zM131 32h1v1h-1zM132 34h1v1h-1zM133 36h1v1h-1zM81 37h5v1h-5zM133 37h1v1h-1zM92 38h1v1h-1zM71 39h1v1h-1zM96 39h2v1h-2zM134 39h1v1h-1zM99 40h1v1h-1zM134 40h1v1h-1zM101 41h1v1h-1zM134 41h1v1h-1zM102 42h1v1h-1zM103 43h1v1h-1zM135 43h1v1h-1zM103 44h1v1h-1zM135 44h1v1h-1zM103 45h1v1h-1zM104 46h1v1h-1zM136 46h1v1h-1zM104 47h1v1h-1zM136 47h1v1h-1zM60 48h1v1h-1zM105 48h1v1h-1zM136 48h1v1h-1zM105 49h1v1h-1zM59 50h1v1h-1zM137 50h1v1h-1zM106 51h1v1h-1zM137 51h1v1h-1zM106 52h1v1h-1zM137 52h1v1h-1zM107 53h1v1h-1zM107 54h1v1h-1zM59 56h1v1h-1zM108 56h1v1h-1zM138 56h1v1h-1zM108 57h1v1h-1zM138 57h1v1h-1zM60 58h1v1h-1zM108 58h1v1h-1zM138 58h1v1h-1zM61 59h1v1h-1zM108 59h1v1h-1zM138 59h1v1h-1zM61 60h1v1h-1zM107 60h1v1h-1zM138 60h1v1h-1zM61 61h1v1h-1zM107 61h1v1h-1zM138 61h1v1h-1zM62 62h1v1h-1zM106 63h1v1h-1zM105 64h1v1h-1zM139 64h1v1h-1zM139 65h1v1h-1zM66 66h1v1h-1zM102 66h1v1h-1zM139 66h1v1h-1zM101 67h1v1h-1zM139 67h1v1h-1zM100 68h1v1h-1zM99 69h1v1h-1zM140 69h1v1h-1zM97 70h1v1h-1zM140 70h1v1h-1zM140 71h1v1h-1zM140 72h1v1h-1zM141 77h1v1h-1zM141 78h1v1h-1zM141 79h1v1h-1zM141 80h1v1h-1zM141 81h1v1h-1zM141 82h1v1h-1zM140 86h1v1h-1zM140 87h1v1h-1zM140 88h1v1h-1zM139 91h1v1h-1zM139 92h1v1h-1zM138 94h1v1h-1zM138 95h1v1h-1zM137 97h1v1h-1zM136 99h1v1h-1zM135 101h1v1h-1zM134 102h1v1h-1zM133 104h1v1h-1zM131 107h1v1h-1zM129 110h1v1h-1zM128 111h1v1h-1zM126 114h1v1h-1zM125 115h1v1h-1zM121 120h1v1h-1zM120 121h1v1h-1zM119 122h1v1h-1zM118 123h1v1h-1zM116 126h1v1h-1zM115 127h1v1h-1zM115 128h1v1h-1zM114 129h1v1h-1zM114 130h1v1h-1zM113 131h1v1h-1zM113 132h1v1h-1zM112 133h1v1h-1zM111 134h1v1h-1zM108 136h1v1h-1zM107 137h1v1h-1zM105 138h1v1h-1zM103 139h1v1h-1zM101 140h1v1h-1zM99 141h1v1h-1zM96 142h1v1h-1zM94 143h1v1h-1zM90 146h1v1h-1zM85 148h1v1h-1zM60 149h2v1h-2zM79 149h2v1h-2zM59 150h14v1h-14zM60 151h1v1h-1zM61 152h1v1h-1zM62 153h1v1h-1zM63 154h2v1h-2zM65 155h1v1h-1zM67 156h1v1h-1zM70 157h1v1h-1zM74 158h1v1h-1zM76 159h3v1h-3zM77 160h2v1h-2zM77 161h2v1h-2zM77 162h2v1h-2z"/><path fill="#00d0ff" d="M70 -3h2v1h-2zM68 -2h4v1h-4zM68 -1h4v1h-4zM68 0h4v1h-4zM68 1h8v1h-8zM86 2h3v1h-3zM92 3h2v1h-2zM96 4h1v1h-1zM99 5h1v1h-1zM102 6h1v1h-1zM103 7h2v1h-2zM105 8h1v1h-1zM106 9h2v1h-2zM107 10h2v1h-2zM108 11h2v1h-2zM110 12h1v1h-1zM111 13h1v1h-1zM112 14h2v1h-2zM114 15h1v1h-1zM115 16h1v1h-1zM117 17h1v1h-1zM118 18h1v1h-1zM119 19h1v1h-1zM120 20h1v1h-1zM125 25h1v1h-1zM126 26h1v1h-1zM127 27h1v1h-1zM128 28h1v1h-1zM129 30h1v1h-1zM130 31h1v1h-1zM130 32h1v1h-1zM131 33h1v1h-1zM131 34h1v1h-1zM132 35h1v1h-1zM132 36h1v1h-1zM79 37h2v1h-2zM86 37h3v1h-3zM74 38h1v1h-1zM93 38h3v1h-3zM133 38h1v1h-1zM98 39h1v1h-1zM133 39h1v1h-1zM68 40h1v1h-1zM100 40h1v1h-1zM133 40h1v1h-1zM134 42h1v1h-1zM64 43h1v1h-1zM134 43h1v1h-1zM63 44h1v1h-1zM104 44h1v1h-1zM104 45h1v1h-1zM135 45h1v1h-1zM135 46h1v1h-1zM105 47h1v1h-1zM106 49h1v1h-1zM136 49h1v1h-1zM106 50h1v1h-1zM136 50h1v1h-1zM107 51h1v1h-1zM107 52h1v1h-1zM137 53h1v1h-1zM108 54h1v1h-1zM137 54h1v1h-1zM108 55h1v1h-1zM137 55h1v1h-1zM137 56h1v1h-1zM59 57h1v1h-1zM109 57h1v1h-1zM137 57h1v1h-1zM109 58h1v1h-1zM137 58h1v1h-1zM60 59h1v1h-1zM137 59h1v1h-1zM60 60h1v1h-1zM108 60h1v1h-1zM60 61h1v1h-1zM108 61h1v1h-1zM61 62h1v1h-1zM107 62h1v1h-1zM138 62h1v1h-1zM62 63h2v1h-2zM138 63h1v1h-1zM64 64h1v1h-1zM138 64h1v1h-1zM65 65h1v1h-1zM104 65h1v1h-1zM103 66h1v1h-1zM102 67h1v1h-1zM101 68h1v1h-1zM139 68h1v1h-1zM139 69h1v1h-1zM98 70h1v1h-1zM139 70h1v1h-1zM96 71h1v1h-1zM140 73h1v1h-1zM140 74h1v1h-1zM140 75h1v1h-1zM140 76h1v1h-1zM140 77h1v1h-1zM140 78h1v1h-1zM140 79h1v1h-1zM140 80h1v1h-1zM140 81h1v1h-1zM140 82h1v1h-1zM140 83h1v1h-1zM140 84h1v1h-1zM140 85h1v1h-1zM139 89h1v1h-1zM139 90h1v1h-1zM138 92h1v1h-1zM138 93h1v1h-1zM137 95h1v1h-1zM137 96h1v1h-1zM136 98h1v1h-1zM135 100h1v1h-1zM134 101h1v1h-1zM133 103h1v1h-1zM132 105h1v1h-1zM131 106h1v1h-1zM130 108h1v1h-1zM129 109h1v1h-1zM127 112h1v1h-1zM126 113h1v1h-1zM124 116h1v1h-1zM123 117h1v1h-1zM122 118h1v1h-1zM121 119h1v1h-1zM120 120h1v1h-1zM117 124h1v1h-1zM116 125h1v1h-1zM115 126h1v1h-1zM114 127h1v1h-1zM114 128h1v1h-1zM113 129h1v1h-1zM113 130h1v1h-1zM112 131h1v1h-1zM112 132h1v1h-1zM111 133h1v1h-1zM110 134h1v1h-1zM109 135h1v1h-1zM106 137h1v1h-1zM104 138h1v1h-1zM102 139h1v1h-1zM100 140h1v1h-1zM98 141h1v1h-1zM95 142h1v1h-1zM93 143h1v1h-1zM92 144h1v1h-1zM91 145h1v1h-1zM89 146h1v1h-1zM87 147h1v1h-1zM57 148h4v1h-4zM83 148h2v1h-2zM57 149h3v1h-3zM62 149h5v1h-5zM75 149h4v1h-4zM57 150h2v1h-2zM58 151h2v1h-2zM60 152h1v1h-1zM61 153h1v1h-1zM62 154h1v1h-1zM64 155h1v1h-1zM66 156h1v1h-1zM69 157h1v1h-1zM72 158h2v1h-2zM74 159h2v1h-2zM74 160h3v1h-3zM74 161h3v1h-3zM74 162h3v1h-3z"/><path fill="#00d8ff" d="M64 -2h4v1h-4zM64 -1h4v1h-4zM64 0h4v1h-4zM64 1h4v1h-4zM65 2h3v1h-3zM83 2h3v1h-3zM91 3h1v1h-1zM95 4h1v1h-1zM98 5h1v1h-1zM100 6h2v1h-2zM102 7h1v1h-1zM104 8h1v1h-1zM105 9h1v1h-1zM106 10h1v1h-1zM107 11h1v1h-1zM108 12h2v1h-2zM110 13h1v1h-1zM111 14h1v1h-1zM113 15h1v1h-1zM114 16h1v1h-1zM116 17h1v1h-1zM117 18h1v1h-1zM118 19h1v1h-1zM121 21h1v1h-1zM122 22h1v1h-1zM123 23h1v1h-1zM124 24h1v1h-1zM126 27h1v1h-1zM127 28h1v1h-1zM128 29h1v1h-1zM129 31h1v1h-1zM130 33h1v1h-1zM131 35h1v1h-1zM78 37h1v1h-1zM89 37h3v1h-3zM132 37h1v1h-1zM73 38h1v1h-1zM96 38h1v1h-1zM132 38h1v1h-1zM70 39h1v1h-1zM99 39h1v1h-1zM102 41h1v1h-1zM133 41h1v1h-1zM65 42h1v1h-1zM103 42h1v1h-1zM133 42h1v1h-1zM104 43h1v1h-1zM134 44h1v1h-1zM62 45h1v1h-1zM105 45h1v1h-1zM134 45h1v1h-1zM105 46h1v1h-1zM135 47h1v1h-1zM106 48h1v1h-1zM135 48h1v1h-1zM107 50h1v1h-1zM136 51h1v1h-1zM108 52h1v1h-1zM136 52h1v1h-1zM108 53h1v1h-1zM136 53h1v1h-1zM109 54h1v1h-1zM136 54h1v1h-1zM109 55h1v1h-1zM136 55h1v1h-1zM109 56h1v1h-1zM136 56h1v1h-1zM136 57h1v1h-1zM59 58h1v1h-1zM59 59h1v1h-1zM109 59h1v1h-1zM59 60h1v1h-1zM109 60h1v1h-1zM137 60h1v1h-1zM59 61h1v1h-1zM137 61h1v1h-1zM60 62h1v1h-1zM108 62h1v1h-1zM137 62h1v1h-1zM61 63h1v1h-1zM107 63h1v1h-1zM63 64h1v1h-1zM106 64h1v1h-1zM105 65h1v1h-1zM138 65h1v1h-1zM104 66h1v1h-1zM138 66h1v1h-1zM103 67h1v1h-1zM138 67h1v1h-1zM100 69h1v1h-1zM99 70h1v1h-1zM97 71h1v1h-1zM139 71h1v1h-1zM139 72h1v1h-1zM139 73h1v1h-1zM139 86h1v1h-1zM139 87h1v1h-1zM139 88h1v1h-1zM138 91h1v1h-1zM137 94h1v1h-1zM136 96h1v1h-1zM136 97h1v1h-1zM135 98h1v1h-1zM135 99h1v1h-1zM134 100h1v1h-1zM133 102h1v1h-1zM132 104h1v1h-1zM130 107h1v1h-1zM128 110h1v1h-1zM125 114h1v1h-1zM124 115h1v1h-1zM119 121h1v1h-1zM118 122h1v1h-1zM117 123h1v1h-1zM116 124h1v1h-1zM115 125h1v1h-1zM114 126h1v1h-1zM113 128h1v1h-1zM112 129h1v1h-1zM112 130h1v1h-1zM111 131h1v1h-1zM111 132h1v1h-1zM110 133h1v1h-1zM109 134h1v1h-1zM108 135h1v1h-1zM107 136h1v1h-1zM105 137h1v1h-1zM103 138h1v1h-1zM101 139h1v1h-1zM99 140h1v1h-1zM96 141h2v1h-2zM94 142h1v1h-1zM92 143h1v1h-1zM91 144h1v1h-1zM90 145h1v1h-1zM54 146h1v1h-1zM54 147h5v1h-5zM86 147h1v1h-1zM55 148h2v1h-2zM61 148h3v1h-3zM82 148h1v1h-1zM55 149h2v1h-2zM67 149h8v1h-8zM56 150h1v1h-1zM57 151h1v1h-1zM58 152h2v1h-2zM60 153h1v1h-1zM61 154h1v1h-1zM63 155h1v1h-1zM65 156h1v1h-1zM68 157h1v1h-1zM71 158h1v1h-1zM72 159h2v1h-2zM72 160h2v1h-2zM72 161h2v1h-2zM72 162h2v1h-2z"/><path fill="#00dfff" d="M63 -2h1v1h-1zM60 -1h4v1h-4zM60 0h4v1h-4zM60 1h4v1h-4zM60 2h5v1h-5zM68 2h15v1h-15zM89 3h2v1h-2zM94 4h1v1h-1zM97 5h1v1h-1zM99 6h1v1h-1zM101 7h1v1h-1zM102 8h2v1h-2zM103 9h2v1h-2zM104 10h2v1h-2zM106 11h1v1h-1zM107 12h1v1h-1zM109 13h1v1h-1zM110 14h1v1h-1zM112 15h1v1h-1zM113 16h1v1h-1zM115 17h1v1h-1zM116 18h1v1h-1zM117 19h1v1h-1zM119 20h1v1h-1zM120 21h1v1h-1zM121 22h1v1h-1zM122 23h1v1h-1zM123 24h1v1h-1zM124 25h1v1h-1zM125 26h1v1h-1zM126 28h1v1h-1zM127 29h1v1h-1zM128 30h1v1h-1zM129 32h1v1h-1zM130 34h1v1h-1zM131 36h1v1h-1zM77 37h1v1h-1zM92 37h2v1h-2zM131 37h1v1h-1zM97 38h1v1h-1zM132 39h1v1h-1zM101 40h1v1h-1zM132 40h1v1h-1zM66 41h1v1h-1zM132 41h1v1h-1zM133 43h1v1h-1zM105 44h1v1h-1zM61 46h1v1h-1zM106 46h1v1h-1zM134 46h1v1h-1zM106 47h1v1h-1zM59 49h1v1h-1zM107 49h1v1h-1zM135 49h1v1h-1zM135 50h1v1h-1zM108 51h1v1h-1zM135 51h1v1h-1zM135 52h1v1h-1zM58 53h1v1h-1zM109 53h1v1h-1zM58 54h1v1h-1zM58 55h1v1h-1zM110 55h1v1h-1zM58 56h1v1h-1zM110 56h1v1h-1zM58 57h1v1h-1zM110 57h1v1h-1zM58 58h1v1h-1zM110 58h1v1h-1zM136 58h1v1h-1zM58 59h1v1h-1zM110 59h1v1h-1zM136 59h1v1h-1zM57 60h2v1h-2zM110 60h1v1h-1zM136 60h1v1h-1zM58 61h1v1h-1zM109 61h1v1h-1zM58 62h2v1h-2zM109 62h1v1h-1zM60 63h1v1h-1zM108 63h1v1h-1zM137 63h1v1h-1zM61 64h2v1h-2zM107 64h1v1h-1zM137 64h1v1h-1zM64 65h1v1h-1zM106 65h1v1h-1zM137 65h1v1h-1zM65 66h1v1h-1zM105 66h1v1h-1zM66 67h1v1h-1zM102 68h1v1h-1zM138 68h1v1h-1zM101 69h1v1h-1zM138 69h1v1h-1zM100 70h1v1h-1zM98 71h1v1h-1zM96 72h1v1h-1zM139 74h1v1h-1zM139 75h1v1h-1zM139 76h1v1h-1zM139 77h1v1h-1zM139 78h1v1h-1zM139 81h1v1h-1zM139 82h1v1h-1zM139 83h1v1h-1zM139 84h1v1h-1zM139 85h1v1h-1zM138 89h1v1h-1zM138 90h1v1h-1zM137 92h1v1h-1zM137 93h1v1h-1zM136 95h1v1h-1zM135 97h1v1h-1zM134 99h1v1h-1zM133 101h1v1h-1zM132 103h1v1h-1zM131 105h1v1h-1zM129 108h1v1h-1zM127 111h1v1h-1zM126 112h1v1h-1zM123 116h1v1h-1zM122 117h1v1h-1zM121 118h1v1h-1zM120 119h1v1h-1zM119 120h1v1h-1zM118 121h1v1h-1zM117 122h1v1h-1zM116 123h1v1h-1zM115 124h1v1h-1zM114 125h1v1h-1zM113 126h1v1h-1zM113 127h1v1h-1zM112 128h1v1h-1zM111 129h1v1h-1zM110 130h2v1h-2zM110 131h1v1h-1zM109 132h2v1h-2zM109 133h1v1h-1zM108 134h1v1h-1zM107 135h1v1h-1zM106 136h1v1h-1zM104 137h1v1h-1zM102 138h1v1h-1zM100 139h1v1h-1zM98 140h1v1h-1zM95 141h1v1h-1zM92 142h2v1h-2zM90 143h2v1h-2zM90 144h1v1h-1zM52 145h1v1h-1zM52 146h2v1h-2zM55 146h2v1h-2zM88 146h1v1h-1zM53 147h1v1h-1zM59 147h2v1h-2zM85 147h1v1h-1zM53 148h2v1h-2zM64 148h2v1h-2zM81 148h1v1h-1zM54 149h1v1h-1zM55 150h1v1h-1zM56 151h1v1h-1zM59 153h1v1h-1zM60 154h1v1h-1zM62 155h1v1h-1zM64 156h1v1h-1zM67 157h1v1h-1zM69 158h2v1h-2zM70 159h2v1h-2zM70 160h2v1h-2zM70 161h2v1h-2zM70 162h2v1h-2z"/><path fill="#00e7ff" d="M59 -1h1v1h-1zM56 0h4v1h-4zM56 1h4v1h-4zM56 2h4v1h-4zM56 3h9v1h-9zM88 3h1v1h-1zM93 4h1v1h-1zM96 5h1v1h-1zM98 6h1v1h-1zM99 7h2v1h-2zM101 8h1v1h-1zM102 9h1v1h-1zM103 10h1v1h-1zM104 11h2v1h-2zM106 12h1v1h-1zM107 13h2v1h-2zM109 14h1v1h-1zM111 15h1v1h-1zM112 16h1v1h-1zM114 17h1v1h-1zM115 18h1v1h-1zM116 19h1v1h-1zM118 20h1v1h-1zM119 21h1v1h-1zM120 22h1v1h-1zM121 23h1v1h-1zM122 24h1v1h-1zM123 25h1v1h-1zM124 26h1v1h-1zM125 27h1v1h-1zM127 30h1v1h-1zM128 31h1v1h-1zM129 33h1v1h-1zM130 35h1v1h-1zM130 36h1v1h-1zM76 37h1v1h-1zM94 37h2v1h-2zM72 38h1v1h-1zM98 38h2v1h-2zM131 38h1v1h-1zM69 39h1v1h-1zM100 39h1v1h-1zM131 39h1v1h-1zM102 40h1v1h-1zM131 40h1v1h-1zM103 41h1v1h-1zM104 42h1v1h-1zM132 42h1v1h-1zM105 43h1v1h-1zM133 44h1v1h-1zM106 45h1v1h-1zM133 45h1v1h-1zM60 47h1v1h-1zM134 47h1v1h-1zM107 48h1v1h-1zM134 48h1v1h-1zM134 49h1v1h-1zM108 50h1v1h-1zM58 51h1v1h-1zM58 52h1v1h-1zM109 52h1v1h-1zM110 53h1v1h-1zM135 53h1v1h-1zM110 54h1v1h-1zM135 54h1v1h-1zM135 55h1v1h-1zM111 56h1v1h-1zM135 56h1v1h-1zM111 57h1v1h-1zM135 57h1v1h-1zM111 58h1v1h-1zM57 59h1v1h-1zM111 59h1v1h-1zM56 60h1v1h-1zM56 61h2v1h-2zM110 61h1v1h-1zM136 61h1v1h-1zM57 62h1v1h-1zM136 62h1v1h-1zM58 63h2v1h-2zM109 63h1v1h-1zM60 64h1v1h-1zM108 64h1v1h-1zM63 65h1v1h-1zM107 65h1v1h-1zM137 66h1v1h-1zM104 67h1v1h-1zM137 67h1v1h-1zM103 68h1v1h-1zM102 69h1v1h-1zM138 70h1v1h-1zM99 71h1v1h-1zM138 71h1v1h-1zM97 72h1v1h-1zM138 72h1v1h-1zM139 79h1v1h-1zM139 80h1v1h-1zM138 87h1v1h-1zM138 88h1v1h-1zM137 91h1v1h-1zM136 94h1v1h-1zM135 96h1v1h-1zM134 98h1v1h-1zM133 100h1v1h-1zM132 102h1v1h-1zM131 104h1v1h-1zM130 106h1v1h-1zM129 107h1v1h-1zM128 109h1v1h-1zM127 110h1v1h-1zM125 113h1v1h-1zM124 114h1v1h-1zM123 115h1v1h-1zM111 127h2v1h-2zM111 128h1v1h-1zM110 129h1v1h-1zM109 130h1v1h-1zM108 131h2v1h-2zM108 132h1v1h-1zM108 133h1v1h-1zM107 134h1v1h-1zM106 135h1v1h-1zM105 136h1v1h-1zM103 137h1v1h-1zM101 138h1v1h-1zM99 139h1v1h-1zM96 140h2v1h-2zM93 141h2v1h-2zM90 142h2v1h-2zM89 143h1v1h-1zM89 144h1v1h-1zM51 145h1v1h-1zM53 145h2v1h-2zM89 145h1v1h-1zM51 146h1v1h-1zM57 146h1v1h-1zM52 147h1v1h-1zM61 147h1v1h-1zM52 148h1v1h-1zM66 148h3v1h-3zM79 148h2v1h-2zM53 149h1v1h-1zM54 150h1v1h-1zM55 151h1v1h-1zM57 152h1v1h-1zM58 153h1v1h-1zM59 154h1v1h-1zM61 155h1v1h-1zM63 156h1v1h-1zM66 157h1v1h-1zM67 158h2v1h-2zM68 159h2v1h-2zM68 160h2v1h-2zM68 161h2v1h-2z"/><path fill="#00eeff" d="M53 1h3v1h-3zM51 2h5v1h-5zM51 3h5v1h-5zM65 3h3v1h-3zM86 3h2v1h-2zM52 4h8v1h-8zM91 4h2v1h-2zM51 5h3v1h-3zM94 5h2v1h-2zM96 6h2v1h-2zM98 7h1v1h-1zM99 8h2v1h-2zM100 9h2v1h-2zM101 10h2v1h-2zM102 11h2v1h-2zM104 12h2v1h-2zM105 13h2v1h-2zM107 14h2v1h-2zM109 15h2v1h-2zM111 16h1v1h-1zM112 17h2v1h-2zM114 18h1v1h-1zM115 19h1v1h-1zM117 20h1v1h-1zM118 21h1v1h-1zM119 22h1v1h-1zM120 23h1v1h-1zM121 24h1v1h-1zM122 25h1v1h-1zM123 26h1v1h-1zM124 27h1v1h-1zM125 28h1v1h-1zM126 29h1v1h-1zM127 31h1v1h-1zM128 32h1v1h-1zM128 33h1v1h-1zM129 34h1v1h-1zM129 35h1v1h-1zM83 36h7v1h-7zM75 37h1v1h-1zM96 37h3v1h-3zM130 37h1v1h-1zM100 38h1v1h-1zM130 38h1v1h-1zM101 39h1v1h-1zM130 39h1v1h-1zM67 40h1v1h-1zM103 40h1v1h-1zM104 41h1v1h-1zM131 41h1v1h-1zM64 42h1v1h-1zM63 43h1v1h-1zM132 43h1v1h-1zM62 44h1v1h-1zM106 44h1v1h-1zM107 46h1v1h-1zM133 46h1v1h-1zM107 47h1v1h-1zM59 48h1v1h-1zM108 49h1v1h-1zM134 50h1v1h-1zM109 51h1v1h-1zM134 51h1v1h-1zM110 52h1v1h-1zM134 52h1v1h-1zM134 53h1v1h-1zM111 54h1v1h-1zM134 54h1v1h-1zM111 55h1v1h-1zM112 57h1v1h-1zM57 58h1v1h-1zM112 58h1v1h-1zM135 58h1v1h-1zM56 59h1v1h-1zM135 59h1v1h-1zM111 60h1v1h-1zM135 60h1v1h-1zM55 61h1v1h-1zM111 61h1v1h-1zM56 62h1v1h-1zM110 62h1v1h-1zM57 63h1v1h-1zM136 63h1v1h-1zM58 64h2v1h-2zM136 64h1v1h-1zM60 65h3v1h-3zM64 66h1v1h-1zM106 66h1v1h-1zM65 67h1v1h-1zM105 67h1v1h-1zM104 68h1v1h-1zM137 68h1v1h-1zM103 69h1v1h-1zM137 69h1v1h-1zM101 70h1v1h-1zM100 71h1v1h-1zM98 72h1v1h-1zM96 73h1v1h-1zM138 73h1v1h-1zM138 74h1v1h-1zM138 75h1v1h-1zM138 76h1v1h-1zM138 83h1v1h-1zM138 84h1v1h-1zM138 85h1v1h-1zM138 86h1v1h-1zM137 89h1v1h-1zM137 90h1v1h-1zM136 92h1v1h-1zM136 93h1v1h-1zM135 95h1v1h-1zM134 97h1v1h-1zM133 99h1v1h-1zM132 101h1v1h-1zM131 103h1v1h-1zM130 105h1v1h-1zM129 106h1v1h-1zM128 108h1v1h-1zM127 109h1v1h-1zM126 111h1v1h-1zM125 112h1v1h-1zM124 113h1v1h-1zM122 116h1v1h-1zM121 117h1v1h-1zM120 118h1v1h-1zM119 119h1v1h-1zM118 120h1v1h-1zM117 121h1v1h-1zM116 122h1v1h-1zM115 123h1v1h-1zM114 124h1v1h-1zM113 125h1v1h-1zM112 126h1v1h-1zM110 127h1v1h-1zM109 128h2v1h-2zM108 129h2v1h-2zM107 130h2v1h-2zM107 131h1v1h-1zM106 132h2v1h-2zM106 133h2v1h-2zM105 134h2v1h-2zM105 135h1v1h-1zM104 136h1v1h-1zM102 137h1v1h-1zM100 138h1v1h-1zM97 139h2v1h-2zM93 140h3v1h-3zM89 141h4v1h-4zM88 142h2v1h-2zM87 143h2v1h-2zM49 144h3v1h-3zM88 144h1v1h-1zM49 145h2v1h-2zM55 145h1v1h-1zM50 146h1v1h-1zM58 146h1v1h-1zM87 146h1v1h-1zM51 147h1v1h-1zM62 147h2v1h-2zM84 147h1v1h-1zM51 148h1v1h-1zM69 148h4v1h-4zM76 148h3v1h-3zM52 149h1v1h-1zM53 150h1v1h-1zM54 151h1v1h-1zM56 152h1v1h-1zM57 153h1v1h-1zM60 155h1v1h-1zM62 156h1v1h-1zM65 157h1v1h-1zM66 158h1v1h-1zM66 159h2v1h-2zM66 160h2v1h-2zM66 161h2v1h-2z"/><path fill="#00f5ff" d="M50 2h1v1h-1zM48 3h3v1h-3zM68 3h2v1h-2zM84 3h2v1h-2zM45 4h7v1h-7zM60 4h2v1h-2zM90 4h1v1h-1zM45 5h6v1h-6zM54 5h3v1h-3zM93 5h1v1h-1zM46 6h6v1h-6zM95 6h1v1h-1zM96 7h2v1h-2zM97 8h2v1h-2zM98 9h2v1h-2zM98 10h3v1h-3zM96 11h6v1h-6zM100 12h4v1h-4zM103 13h2v1h-2zM105 14h2v1h-2zM107 15h2v1h-2zM109 16h2v1h-2zM111 17h1v1h-1zM113 18h1v1h-1zM114 19h1v1h-1zM116 20h1v1h-1zM117 21h1v1h-1zM118 22h1v1h-1zM119 23h1v1h-1zM125 29h1v1h-1zM126 30h1v1h-1zM127 32h1v1h-1zM128 34h1v1h-1zM128 35h1v1h-1zM81 36h2v1h-2zM90 36h7v1h-7zM129 36h1v1h-1zM99 37h1v1h-1zM129 37h1v1h-1zM71 38h1v1h-1zM101 38h1v1h-1zM129 38h1v1h-1zM68 39h1v1h-1zM102 39h1v1h-1zM130 40h1v1h-1zM65 41h1v1h-1zM105 42h1v1h-1zM131 42h1v1h-1zM106 43h1v1h-1zM132 44h1v1h-1zM61 45h1v1h-1zM107 45h1v1h-1zM132 45h1v1h-1zM108 47h1v1h-1zM133 47h1v1h-1zM108 48h1v1h-1zM133 48h1v1h-1zM133 49h1v1h-1zM58 50h1v1h-1zM109 50h1v1h-1zM110 51h1v1h-1zM111 53h1v1h-1zM57 55h1v1h-1zM112 55h1v1h-1zM134 55h1v1h-1zM57 56h1v1h-1zM112 56h1v1h-1zM134 56h1v1h-1zM57 57h1v1h-1zM134 57h1v1h-1zM56 58h1v1h-1zM112 59h1v1h-1zM55 60h1v1h-1zM112 60h1v1h-1zM135 61h1v1h-1zM55 62h1v1h-1zM111 62h1v1h-1zM56 63h1v1h-1zM110 63h1v1h-1zM57 64h1v1h-1zM109 64h1v1h-1zM59 65h1v1h-1zM108 65h1v1h-1zM136 65h1v1h-1zM107 66h1v1h-1zM106 67h1v1h-1zM105 68h1v1h-1zM102 70h1v1h-1zM137 70h1v1h-1zM101 71h1v1h-1zM137 71h1v1h-1zM99 72h2v1h-2zM97 73h1v1h-1zM138 77h1v1h-1zM138 78h1v1h-1zM138 79h1v1h-1zM138 80h1v1h-1zM138 81h1v1h-1zM138 82h1v1h-1zM137 86h1v1h-1zM137 87h1v1h-1zM137 88h1v1h-1zM136 90h1v1h-1zM136 91h1v1h-1zM135 93h1v1h-1zM135 94h1v1h-1zM134 96h1v1h-1zM133 98h1v1h-1zM132 100h1v1h-1zM131 102h1v1h-1zM130 104h1v1h-1zM128 107h1v1h-1zM126 110h1v1h-1zM125 111h1v1h-1zM123 114h1v1h-1zM122 115h1v1h-1zM121 116h1v1h-1zM120 117h1v1h-1zM119 118h1v1h-1zM118 119h1v1h-1zM117 120h1v1h-1zM116 121h1v1h-1zM115 122h1v1h-1zM114 123h1v1h-1zM113 124h1v1h-1zM112 125h1v1h-1zM110 126h2v1h-2zM109 127h1v1h-1zM108 128h1v1h-1zM106 129h2v1h-2zM105 130h2v1h-2zM104 131h3v1h-3zM103 132h3v1h-3zM103 133h3v1h-3zM102 134h3v1h-3zM102 135h3v1h-3zM101 136h3v1h-3zM79 137h12v1h-12zM99 137h3v1h-3zM77 138h23v1h-23zM79 139h18v1h-18zM82 140h11v1h-11zM84 141h5v1h-5zM85 142h3v1h-3zM48 143h1v1h-1zM85 143h2v1h-2zM48 144h1v1h-1zM52 144h1v1h-1zM87 144h1v1h-1zM88 145h1v1h-1zM49 146h1v1h-1zM59 146h1v1h-1zM86 146h1v1h-1zM50 147h1v1h-1zM64 147h1v1h-1zM83 147h1v1h-1zM50 148h1v1h-1zM73 148h3v1h-3zM51 149h1v1h-1zM55 152h1v1h-1zM56 153h1v1h-1zM58 154h1v1h-1zM59 155h1v1h-1zM61 156h1v1h-1zM63 157h2v1h-2zM64 158h2v1h-2zM64 159h2v1h-2zM64 160h2v1h-2zM64 161h2v1h-2z"/><path fill="#00fdff" d="M70 3h2v1h-2zM82 3h2v1h-2zM62 4h2v1h-2zM88 4h2v1h-2zM43 5h2v1h-2zM57 5h1v1h-1zM91 5h2v1h-2zM41 6h5v1h-5zM52 6h2v1h-2zM93 6h2v1h-2zM40 7h10v1h-10zM94 7h2v1h-2zM38 8h8v1h-8zM95 8h2v1h-2zM37 9h5v1h-5zM77 9h21v1h-21zM38 10h1v1h-1zM74 10h24v1h-24zM74 11h22v1h-22zM75 12h25v1h-25zM76 13h11v1h-11zM95 13h8v1h-8zM101 14h4v1h-4zM104 15h3v1h-3zM107 16h2v1h-2zM109 17h2v1h-2zM111 18h2v1h-2zM113 19h1v1h-1zM114 20h2v1h-2zM116 21h1v1h-1zM117 22h1v1h-1zM120 24h1v1h-1zM121 25h1v1h-1zM122 26h1v1h-1zM123 27h1v1h-1zM124 28h1v1h-1zM125 30h1v1h-1zM126 31h1v1h-1zM127 33h1v1h-1zM127 34h1v1h-1zM79 36h2v1h-2zM97 36h2v1h-2zM128 36h1v1h-1zM74 37h1v1h-1zM100 37h1v1h-1zM128 37h1v1h-1zM102 38h1v1h-1zM103 39h1v1h-1zM129 39h1v1h-1zM66 40h1v1h-1zM104 40h1v1h-1zM105 41h1v1h-1zM130 41h1v1h-1zM106 42h1v1h-1zM131 43h1v1h-1zM107 44h1v1h-1zM60 46h1v1h-1zM108 46h1v1h-1zM132 46h1v1h-1zM132 47h1v1h-1zM109 48h1v1h-1zM109 49h1v1h-1zM110 50h1v1h-1zM133 50h1v1h-1zM133 51h1v1h-1zM111 52h1v1h-1zM133 52h1v1h-1zM57 53h1v1h-1zM112 53h1v1h-1zM133 53h1v1h-1zM57 54h1v1h-1zM112 54h1v1h-1zM133 54h1v1h-1zM113 55h1v1h-1zM113 56h1v1h-1zM113 57h1v1h-1zM113 58h1v1h-1zM134 58h1v1h-1zM55 59h1v1h-1zM113 59h1v1h-1zM134 59h1v1h-1zM112 61h1v1h-1zM54 62h1v1h-1zM135 62h1v1h-1zM55 63h1v1h-1zM111 63h1v1h-1zM56 64h1v1h-1zM110 64h1v1h-1zM57 65h2v1h-2zM109 65h1v1h-1zM60 66h1v1h-1zM62 66h2v1h-2zM108 66h1v1h-1zM136 66h1v1h-1zM64 67h1v1h-1zM107 67h1v1h-1zM136 67h1v1h-1zM104 69h1v1h-1zM103 70h1v1h-1zM102 71h1v1h-1zM101 72h1v1h-1zM137 72h1v1h-1zM98 73h2v1h-2zM137 73h1v1h-1zM96 74h1v1h-1zM137 74h1v1h-1zM137 82h1v1h-1zM137 83h1v1h-1zM137 84h1v1h-1zM137 85h1v1h-1zM136 88h1v1h-1zM136 89h1v1h-1zM135 91h1v1h-1zM135 92h1v1h-1zM134 94h1v1h-1zM134 95h1v1h-1zM133 96h1v1h-1zM133 97h1v1h-1zM132 99h1v1h-1zM131 101h1v1h-1zM130 103h1v1h-1zM129 104h1v1h-1zM129 105h1v1h-1zM128 106h1v1h-1zM127 108h1v1h-1zM126 109h1v1h-1zM125 110h1v1h-1zM124 112h1v1h-1zM123 113h1v1h-1zM122 114h1v1h-1zM121 115h1v1h-1zM114 122h1v1h-1zM113 123h1v1h-1zM112 124h1v1h-1zM44 125h1v1h-1zM111 125h1v1h-1zM45 126h1v1h-1zM109 126h1v1h-1zM45 127h2v1h-2zM108 127h1v1h-1zM46 128h3v1h-3zM106 128h2v1h-2zM48 129h3v1h-3zM104 129h2v1h-2zM49 130h4v1h-4zM102 130h3v1h-3zM51 131h4v1h-4zM99 131h5v1h-5zM52 132h5v1h-5zM96 132h7v1h-7zM54 133h5v1h-5zM92 133h11v1h-11zM56 134h6v1h-6zM89 134h13v1h-13zM59 135h5v1h-5zM86 135h16v1h-16zM62 136h7v1h-7zM80 136h21v1h-21zM67 137h12v1h-12zM91 137h8v1h-8zM71 138h6v1h-6zM74 139h5v1h-5zM77 140h5v1h-5zM80 141h4v1h-4zM83 142h2v1h-2zM47 143h1v1h-1zM49 143h2v1h-2zM84 143h1v1h-1zM47 144h1v1h-1zM53 144h1v1h-1zM86 144h1v1h-1zM48 145h1v1h-1zM56 145h1v1h-1zM48 146h1v1h-1zM60 146h1v1h-1zM49 147h1v1h-1zM65 147h1v1h-1zM52 150h1v1h-1zM53 151h1v1h-1zM54 152h1v1h-1zM55 153h1v1h-1zM57 154h1v1h-1zM62 157h1v1h-1zM62 158h2v1h-2zM62 159h2v1h-2zM62 160h2v1h-2zM63 161h1v1h-1z"/><path fill="#00fffa" d="M72 3h10v1h-10zM64 4h1v1h-1zM86 4h2v1h-2zM58 5h2v1h-2zM89 5h2v1h-2zM54 6h1v1h-1zM91 6h2v1h-2zM50 7h1v1h-1zM92 7h2v1h-2zM46 8h2v1h-2zM93 8h2v1h-2zM36 9h1v1h-1zM42 9h2v1h-2zM73 9h4v1h-4zM35 10h3v1h-3zM39 10h3v1h-3zM68 10h6v1h-6zM33 11h6v1h-6zM67 11h7v1h-7zM32 12h5v1h-5zM67 12h8v1h-8zM31 13h4v1h-4zM66 13h10v1h-10zM87 13h8v1h-8zM32 14h1v1h-1zM66 14h35v1h-35zM66 15h8v1h-8zM98 15h6v1h-6zM103 16h4v1h-4zM107 17h2v1h-2zM109 18h2v1h-2zM111 19h2v1h-2zM113 20h1v1h-1zM115 21h1v1h-1zM116 22h1v1h-1zM118 23h1v1h-1zM119 24h1v1h-1zM120 25h1v1h-1zM121 26h1v1h-1zM122 27h1v1h-1zM123 28h1v1h-1zM124 29h1v1h-1zM125 31h1v1h-1zM126 32h1v1h-1zM126 33h1v1h-1zM126 34h1v1h-1zM92 35h5v1h-5zM127 35h1v1h-1zM78 36h1v1h-1zM99 36h1v1h-1zM127 36h1v1h-1zM73 37h1v1h-1zM101 37h1v1h-1zM70 38h1v1h-1zM128 38h1v1h-1zM104 39h1v1h-1zM105 40h1v1h-1zM129 40h1v1h-1zM64 41h1v1h-1zM63 42h1v1h-1zM130 42h1v1h-1zM62 43h1v1h-1zM107 43h1v1h-1zM131 44h1v1h-1zM108 45h1v1h-1zM131 45h1v1h-1zM109 46h1v1h-1zM59 47h1v1h-1zM109 47h1v1h-1zM132 48h1v1h-1zM58 49h1v1h-1zM110 49h1v1h-1zM132 49h1v1h-1zM132 50h1v1h-1zM111 51h1v1h-1zM57 52h1v1h-1zM112 52h1v1h-1zM113 54h1v1h-1zM133 55h1v1h-1zM114 56h1v1h-1zM133 56h1v1h-1zM56 57h1v1h-1zM114 57h1v1h-1zM55 58h1v1h-1zM114 58h1v1h-1zM113 60h1v1h-1zM134 60h1v1h-1zM54 61h1v1h-1zM113 61h1v1h-1zM112 62h1v1h-1zM54 63h1v1h-1zM112 63h1v1h-1zM135 63h1v1h-1zM54 64h2v1h-2zM111 64h1v1h-1zM135 64h1v1h-1zM56 65h1v1h-1zM110 65h1v1h-1zM58 66h2v1h-2zM61 66h1v1h-1zM109 66h1v1h-1zM65 68h1v1h-1zM106 68h1v1h-1zM136 68h1v1h-1zM105 69h1v1h-1zM136 69h1v1h-1zM104 70h1v1h-1zM103 71h1v1h-1zM102 72h1v1h-1zM100 73h1v1h-1zM97 74h2v1h-2zM137 75h1v1h-1zM137 76h1v1h-1zM137 77h1v1h-1zM137 78h1v1h-1zM137 79h1v1h-1zM137 80h1v1h-1zM137 81h1v1h-1zM136 84h1v1h-1zM136 85h1v1h-1zM136 86h1v1h-1zM136 87h1v1h-1zM135 89h1v1h-1zM135 90h1v1h-1zM134 92h1v1h-1zM134 93h1v1h-1zM133 95h1v1h-1zM132 97h1v1h-1zM132 98h1v1h-1zM131 99h1v1h-1zM131 100h1v1h-1zM130 101h1v1h-1zM130 102h1v1h-1zM129 103h1v1h-1zM128 105h1v1h-1zM127 106h1v1h-1zM127 107h1v1h-1zM126 108h1v1h-1zM125 109h1v1h-1zM124 111h1v1h-1zM123 112h1v1h-1zM122 113h1v1h-1zM121 114h1v1h-1zM120 116h1v1h-1zM119 117h1v1h-1zM118 118h1v1h-1zM117 119h1v1h-1zM38 120h2v1h-2zM116 120h1v1h-1zM39 121h2v1h-2zM115 121h1v1h-1zM40 122h2v1h-2zM113 122h1v1h-1zM41 123h2v1h-2zM112 123h1v1h-1zM41 124h4v1h-4zM111 124h1v1h-1zM42 125h2v1h-2zM45 125h1v1h-1zM109 125h2v1h-2zM43 126h2v1h-2zM46 126h2v1h-2zM108 126h1v1h-1zM47 127h2v1h-2zM106 127h2v1h-2zM49 128h2v1h-2zM104 128h2v1h-2zM47 129h1v1h-1zM51 129h2v1h-2zM102 129h2v1h-2zM48 130h1v1h-1zM53 130h3v1h-3zM99 130h3v1h-3zM49 131h2v1h-2zM55 131h3v1h-3zM95 131h4v1h-4zM51 132h1v1h-1zM57 132h4v1h-4zM91 132h5v1h-5zM53 133h1v1h-1zM59 133h4v1h-4zM88 133h4v1h-4zM55 134h1v1h-1zM62 134h3v1h-3zM86 134h3v1h-3zM57 135h2v1h-2zM64 135h5v1h-5zM82 135h4v1h-4zM59 136h3v1h-3zM69 136h11v1h-11zM62 137h5v1h-5zM66 138h5v1h-5zM70 139h4v1h-4zM73 140h4v1h-4zM78 141h2v1h-2zM46 142h2v1h-2zM81 142h2v1h-2zM46 143h1v1h-1zM83 143h1v1h-1zM46 144h1v1h-1zM85 144h1v1h-1zM47 145h1v1h-1zM57 145h1v1h-1zM87 145h1v1h-1zM47 146h1v1h-1zM61 146h1v1h-1zM85 146h1v1h-1zM48 147h1v1h-1zM66 147h1v1h-1zM82 147h1v1h-1zM49 148h1v1h-1zM50 149h1v1h-1zM51 150h1v1h-1zM52 151h1v1h-1zM53 152h1v1h-1zM56 154h1v1h-1zM58 155h1v1h-1zM60 156h1v1h-1zM60 157h2v1h-2zM60 158h2v1h-2zM60 159h2v1h-2zM60 160h2v1h-2z"/><path fill="#00fff3" d="M65 4h2v1h-2zM84 4h2v1h-2zM60 5h1v1h-1zM87 5h2v1h-2zM55 6h1v1h-1zM89 6h2v1h-2zM51 7h1v1h-1zM89 7h3v1h-3zM48 8h1v1h-1zM76 8h17v1h-17zM44 9h2v1h-2zM69 9h4v1h-4zM42 10h1v1h-1zM66 10h2v1h-2zM39 11h1v1h-1zM63 11h4v1h-4zM37 12h1v1h-1zM62 12h5v1h-5zM35 13h1v1h-1zM61 13h5v1h-5zM29 14h3v1h-3zM33 14h1v1h-1zM61 14h5v1h-5zM28 15h4v1h-4zM60 15h6v1h-6zM74 15h24v1h-24zM27 16h4v1h-4zM59 16h13v1h-13zM96 16h7v1h-7zM28 17h1v1h-1zM59 17h6v1h-6zM102 17h5v1h-5zM106 18h3v1h-3zM109 19h2v1h-2zM111 20h2v1h-2zM113 21h2v1h-2zM115 22h1v1h-1zM116 23h2v1h-2zM118 24h1v1h-1zM119 25h1v1h-1zM120 26h1v1h-1zM121 27h1v1h-1zM122 28h1v1h-1zM123 29h1v1h-1zM123 30h2v1h-2zM124 31h1v1h-1zM124 32h2v1h-2zM125 33h1v1h-1zM125 34h1v1h-1zM86 35h6v1h-6zM97 35h1v1h-1zM126 35h1v1h-1zM77 36h1v1h-1zM100 36h1v1h-1zM126 36h1v1h-1zM127 37h1v1h-1zM103 38h1v1h-1zM67 39h1v1h-1zM128 39h1v1h-1zM65 40h1v1h-1zM106 41h1v1h-1zM129 41h1v1h-1zM107 42h1v1h-1zM108 43h1v1h-1zM130 43h1v1h-1zM61 44h1v1h-1zM108 44h1v1h-1zM109 45h1v1h-1zM131 46h1v1h-1zM110 47h1v1h-1zM131 47h1v1h-1zM110 48h1v1h-1zM111 49h1v1h-1zM111 50h1v1h-1zM57 51h1v1h-1zM112 51h1v1h-1zM132 51h1v1h-1zM132 52h1v1h-1zM113 53h1v1h-1zM132 53h1v1h-1zM114 54h1v1h-1zM56 55h1v1h-1zM114 55h1v1h-1zM56 56h1v1h-1zM115 56h1v1h-1zM115 57h1v1h-1zM133 57h1v1h-1zM115 58h1v1h-1zM54 59h1v1h-1zM114 59h1v1h-1zM54 60h1v1h-1zM114 60h1v1h-1zM134 61h1v1h-1zM113 62h1v1h-1zM112 64h1v1h-1zM54 65h2v1h-2zM111 65h1v1h-1zM135 65h1v1h-1zM56 66h2v1h-2zM110 66h1v1h-1zM59 67h1v1h-1zM63 67h1v1h-1zM108 67h1v1h-1zM107 68h1v1h-1zM106 69h1v1h-1zM105 70h1v1h-1zM136 70h1v1h-1zM104 71h1v1h-1zM136 71h1v1h-1zM103 72h1v1h-1zM136 72h1v1h-1zM101 73h2v1h-2zM99 74h2v1h-2zM136 80h1v1h-1zM136 81h1v1h-1zM136 82h1v1h-1zM136 83h1v1h-1zM135 86h1v1h-1zM135 87h1v1h-1zM135 88h1v1h-1zM134 90h1v1h-1zM134 91h1v1h-1zM133 93h1v1h-1zM133 94h1v1h-1zM132 95h1v1h-1zM132 96h1v1h-1zM131 97h1v1h-1zM131 98h1v1h-1zM130 100h1v1h-1zM129 101h1v1h-1zM129 102h1v1h-1zM128 103h1v1h-1zM128 104h1v1h-1zM127 105h1v1h-1zM126 106h1v1h-1zM126 107h1v1h-1zM125 108h1v1h-1zM124 109h1v1h-1zM124 110h1v1h-1zM123 111h1v1h-1zM33 112h1v1h-1zM122 112h1v1h-1zM121 113h1v1h-1zM34 114h1v1h-1zM120 114h1v1h-1zM34 115h2v1h-2zM119 115h2v1h-2zM35 116h2v1h-2zM119 116h1v1h-1zM36 117h2v1h-2zM118 117h1v1h-1zM36 118h3v1h-3zM117 118h1v1h-1zM37 119h3v1h-3zM116 119h1v1h-1zM40 120h1v1h-1zM115 120h1v1h-1zM38 121h1v1h-1zM41 121h1v1h-1zM113 121h2v1h-2zM39 122h1v1h-1zM42 122h1v1h-1zM112 122h1v1h-1zM40 123h1v1h-1zM43 123h1v1h-1zM111 123h1v1h-1zM45 124h1v1h-1zM110 124h1v1h-1zM46 125h1v1h-1zM108 125h1v1h-1zM48 126h1v1h-1zM106 126h2v1h-2zM44 127h1v1h-1zM49 127h2v1h-2zM105 127h1v1h-1zM45 128h1v1h-1zM51 128h3v1h-3zM102 128h2v1h-2zM46 129h1v1h-1zM53 129h3v1h-3zM100 129h2v1h-2zM47 130h1v1h-1zM56 130h3v1h-3zM96 130h3v1h-3zM58 131h3v1h-3zM91 131h4v1h-4zM50 132h1v1h-1zM61 132h2v1h-2zM89 132h2v1h-2zM52 133h1v1h-1zM63 133h2v1h-2zM86 133h2v1h-2zM54 134h1v1h-1zM65 134h3v1h-3zM83 134h3v1h-3zM56 135h1v1h-1zM69 135h13v1h-13zM58 136h1v1h-1zM60 137h2v1h-2zM63 138h3v1h-3zM67 139h3v1h-3zM71 140h2v1h-2zM76 141h2v1h-2zM45 142h1v1h-1zM48 142h1v1h-1zM79 142h2v1h-2zM45 143h1v1h-1zM51 143h1v1h-1zM81 143h2v1h-2zM45 144h1v1h-1zM54 144h1v1h-1zM84 144h1v1h-1zM46 145h1v1h-1zM86 145h1v1h-1zM47 147h1v1h-1zM67 147h1v1h-1zM81 147h1v1h-1zM48 148h1v1h-1zM49 149h1v1h-1zM50 150h1v1h-1zM51 151h1v1h-1zM54 153h1v1h-1zM55 154h1v1h-1zM57 155h1v1h-1zM58 156h2v1h-2zM59 157h1v1h-1zM59 158h1v1h-1zM58 159h2v1h-2zM59 160h1v1h-1z"/><path fill="#00ffeb" d="M67 4h2v1h-2zM82 4h2v1h-2zM61 5h1v1h-1zM84 5h3v1h-3zM56 6h2v1h-2zM86 6h3v1h-3zM52 7h2v1h-2zM86 7h3v1h-3zM49 8h1v1h-1zM73 8h3v1h-3zM46 9h1v1h-1zM67 9h2v1h-2zM43 10h1v1h-1zM63 10h3v1h-3zM40 11h1v1h-1zM61 11h2v1h-2zM38 12h1v1h-1zM59 12h3v1h-3zM36 13h1v1h-1zM58 13h3v1h-3zM34 14h1v1h-1zM57 14h4v1h-4zM32 15h1v1h-1zM56 15h4v1h-4zM31 16h1v1h-1zM55 16h4v1h-4zM72 16h5v1h-5zM91 16h5v1h-5zM26 17h2v1h-2zM29 17h1v1h-1zM54 17h5v1h-5zM65 17h5v1h-5zM98 17h4v1h-4zM25 18h3v1h-3zM53 18h12v1h-12zM103 18h3v1h-3zM25 19h2v1h-2zM52 19h9v1h-9zM106 19h3v1h-3zM52 20h6v1h-6zM109 20h2v1h-2zM51 21h4v1h-4zM111 21h2v1h-2zM113 22h2v1h-2zM115 23h1v1h-1zM117 24h1v1h-1zM118 25h1v1h-1zM119 26h1v1h-1zM120 27h1v1h-1zM121 28h1v1h-1zM121 29h2v1h-2zM122 30h1v1h-1zM122 31h2v1h-2zM123 32h1v1h-1zM124 33h1v1h-1zM91 34h5v1h-5zM124 34h1v1h-1zM84 35h2v1h-2zM98 35h1v1h-1zM125 35h1v1h-1zM76 36h1v1h-1zM72 37h1v1h-1zM102 37h1v1h-1zM126 37h1v1h-1zM69 38h1v1h-1zM104 38h1v1h-1zM127 38h1v1h-1zM105 39h1v1h-1zM106 40h1v1h-1zM128 40h1v1h-1zM63 41h1v1h-1zM107 41h1v1h-1zM62 42h1v1h-1zM108 42h1v1h-1zM129 42h1v1h-1zM61 43h1v1h-1zM109 44h1v1h-1zM130 44h1v1h-1zM60 45h1v1h-1zM130 45h1v1h-1zM110 46h1v1h-1zM58 48h1v1h-1zM111 48h1v1h-1zM131 48h1v1h-1zM112 49h1v1h-1zM131 49h1v1h-1zM112 50h1v1h-1zM131 50h1v1h-1zM113 51h1v1h-1zM113 52h1v1h-1zM114 53h1v1h-1zM56 54h1v1h-1zM115 54h1v1h-1zM132 54h1v1h-1zM115 55h1v1h-1zM132 55h1v1h-1zM55 57h1v1h-1zM133 58h1v1h-1zM115 59h1v1h-1zM115 60h1v1h-1zM114 61h1v1h-1zM53 62h1v1h-1zM114 62h1v1h-1zM134 62h1v1h-1zM53 63h1v1h-1zM113 63h1v1h-1zM53 64h1v1h-1zM53 65h1v1h-1zM112 65h1v1h-1zM55 66h1v1h-1zM111 66h1v1h-1zM135 66h1v1h-1zM57 67h2v1h-2zM60 67h3v1h-3zM109 67h1v1h-1zM135 67h1v1h-1zM64 68h1v1h-1zM108 68h1v1h-1zM65 69h1v1h-1zM107 69h1v1h-1zM106 70h1v1h-1zM105 71h1v1h-1zM104 72h1v1h-1zM103 73h1v1h-1zM136 73h1v1h-1zM101 74h1v1h-1zM136 74h1v1h-1zM97 75h3v1h-3zM136 75h1v1h-1zM136 76h1v1h-1zM136 77h1v1h-1zM136 78h1v1h-1zM136 79h1v1h-1zM135 82h1v1h-1zM135 83h1v1h-1zM135 84h1v1h-1zM135 85h1v1h-1zM134 87h1v1h-1zM134 88h1v1h-1zM134 89h1v1h-1zM133 90h1v1h-1zM133 91h1v1h-1zM133 92h1v1h-1zM132 93h1v1h-1zM132 94h1v1h-1zM131 96h1v1h-1zM130 98h1v1h-1zM130 99h1v1h-1zM129 100h1v1h-1zM128 101h1v1h-1zM128 102h1v1h-1zM127 103h1v1h-1zM127 104h1v1h-1zM29 105h1v1h-1zM126 105h1v1h-1zM125 106h1v1h-1zM30 107h1v1h-1zM125 107h1v1h-1zM30 108h2v1h-2zM124 108h1v1h-1zM31 109h1v1h-1zM123 109h1v1h-1zM31 110h2v1h-2zM122 110h2v1h-2zM32 111h2v1h-2zM122 111h1v1h-1zM32 112h1v1h-1zM121 112h1v1h-1zM33 113h2v1h-2zM120 113h1v1h-1zM33 114h1v1h-1zM35 114h1v1h-1zM119 114h1v1h-1zM36 115h1v1h-1zM118 115h1v1h-1zM34 116h1v1h-1zM37 116h1v1h-1zM117 116h2v1h-2zM35 117h1v1h-1zM116 117h2v1h-2zM115 118h2v1h-2zM36 119h1v1h-1zM114 119h2v1h-2zM37 120h1v1h-1zM113 120h2v1h-2zM42 121h1v1h-1zM112 121h1v1h-1zM43 122h1v1h-1zM111 122h1v1h-1zM44 123h1v1h-1zM110 123h1v1h-1zM40 124h1v1h-1zM46 124h1v1h-1zM108 124h2v1h-2zM41 125h1v1h-1zM47 125h2v1h-2zM107 125h1v1h-1zM42 126h1v1h-1zM49 126h2v1h-2zM105 126h1v1h-1zM43 127h1v1h-1zM51 127h2v1h-2zM103 127h2v1h-2zM54 128h2v1h-2zM101 128h1v1h-1zM56 129h2v1h-2zM97 129h3v1h-3zM59 130h1v1h-1zM92 130h4v1h-4zM48 131h1v1h-1zM61 131h2v1h-2zM89 131h2v1h-2zM63 132h2v1h-2zM87 132h2v1h-2zM51 133h1v1h-1zM65 133h2v1h-2zM84 133h2v1h-2zM53 134h1v1h-1zM68 134h3v1h-3zM79 134h4v1h-4zM55 135h1v1h-1zM57 136h1v1h-1zM59 137h1v1h-1zM62 138h1v1h-1zM66 139h1v1h-1zM70 140h1v1h-1zM44 141h2v1h-2zM74 141h2v1h-2zM44 142h1v1h-1zM78 142h1v1h-1zM44 143h1v1h-1zM80 143h1v1h-1zM55 144h1v1h-1zM83 144h1v1h-1zM45 145h1v1h-1zM58 145h1v1h-1zM46 146h1v1h-1zM62 146h1v1h-1zM84 146h1v1h-1zM46 147h1v1h-1zM68 147h2v1h-2zM80 147h1v1h-1zM47 148h1v1h-1zM48 149h1v1h-1zM49 150h1v1h-1zM52 152h1v1h-1zM53 153h1v1h-1zM56 155h1v1h-1zM57 156h1v1h-1zM57 157h2v1h-2zM57 158h2v1h-2zM56 159h2v1h-2z"/><path fill="#00ffe4" d="M69 4h13v1h-13zM62 5h3v1h-3zM81 5h3v1h-3zM58 6h1v1h-1zM82 6h4v1h-4zM54 7h1v1h-1zM80 7h6v1h-6zM50 8h1v1h-1zM70 8h3v1h-3zM47 9h1v1h-1zM65 9h2v1h-2zM44 10h1v1h-1zM61 10h2v1h-2zM41 11h1v1h-1zM59 11h2v1h-2zM39 12h1v1h-1zM57 12h2v1h-2zM37 13h1v1h-1zM56 13h2v1h-2zM35 14h1v1h-1zM54 14h3v1h-3zM33 15h1v1h-1zM54 15h2v1h-2zM53 16h2v1h-2zM77 16h14v1h-14zM30 17h1v1h-1zM52 17h2v1h-2zM70 17h4v1h-4zM95 17h3v1h-3zM28 18h1v1h-1zM51 18h2v1h-2zM65 18h4v1h-4zM100 18h3v1h-3zM24 19h1v1h-1zM27 19h1v1h-1zM50 19h2v1h-2zM61 19h4v1h-4zM104 19h2v1h-2zM23 20h3v1h-3zM48 20h4v1h-4zM58 20h4v1h-4zM107 20h2v1h-2zM23 21h2v1h-2zM47 21h4v1h-4zM55 21h4v1h-4zM109 21h2v1h-2zM46 22h10v1h-10zM111 22h2v1h-2zM46 23h8v1h-8zM113 23h2v1h-2zM45 24h6v1h-6zM115 24h2v1h-2zM45 25h3v1h-3zM116 25h2v1h-2zM117 26h2v1h-2zM118 27h2v1h-2zM119 28h2v1h-2zM120 29h1v1h-1zM121 30h1v1h-1zM121 31h1v1h-1zM122 32h1v1h-1zM92 33h1v1h-1zM123 33h1v1h-1zM89 34h2v1h-2zM96 34h2v1h-2zM82 35h2v1h-2zM99 35h1v1h-1zM124 35h1v1h-1zM75 36h1v1h-1zM101 36h1v1h-1zM125 36h1v1h-1zM103 37h1v1h-1zM66 39h1v1h-1zM127 39h1v1h-1zM64 40h1v1h-1zM107 40h1v1h-1zM128 41h1v1h-1zM109 43h1v1h-1zM129 43h1v1h-1zM60 44h1v1h-1zM110 44h1v1h-1zM110 45h1v1h-1zM59 46h1v1h-1zM111 46h1v1h-1zM130 46h1v1h-1zM111 47h1v1h-1zM130 47h1v1h-1zM112 48h1v1h-1zM57 50h1v1h-1zM113 50h1v1h-1zM114 51h1v1h-1zM131 51h1v1h-1zM114 52h1v1h-1zM131 52h1v1h-1zM56 53h1v1h-1zM115 53h1v1h-1zM55 55h1v1h-1zM116 55h1v1h-1zM55 56h1v1h-1zM116 56h1v1h-1zM132 56h1v1h-1zM54 57h1v1h-1zM116 57h1v1h-1zM54 58h1v1h-1zM116 58h1v1h-1zM116 59h1v1h-1zM133 59h1v1h-1zM116 60h1v1h-1zM53 61h1v1h-1zM115 61h1v1h-1zM114 63h1v1h-1zM134 63h1v1h-1zM113 64h1v1h-1zM53 66h2v1h-2zM112 66h1v1h-1zM55 67h2v1h-2zM110 67h1v1h-1zM57 68h2v1h-2zM109 68h1v1h-1zM135 68h1v1h-1zM108 69h1v1h-1zM135 69h1v1h-1zM135 70h1v1h-1zM106 71h1v1h-1zM105 72h1v1h-1zM104 73h1v1h-1zM102 74h2v1h-2zM100 75h2v1h-2zM97 76h1v1h-1zM135 76h1v1h-1zM135 77h1v1h-1zM135 78h1v1h-1zM135 79h1v1h-1zM135 80h1v1h-1zM135 81h1v1h-1zM134 83h1v1h-1zM134 84h1v1h-1zM134 85h1v1h-1zM134 86h1v1h-1zM133 87h1v1h-1zM133 88h1v1h-1zM133 89h1v1h-1zM132 91h1v1h-1zM132 92h1v1h-1zM131 93h1v1h-1zM131 94h1v1h-1zM131 95h1v1h-1zM130 96h1v1h-1zM130 97h1v1h-1zM129 98h1v1h-1zM129 99h1v1h-1zM128 100h1v1h-1zM27 101h1v1h-1zM127 101h1v1h-1zM127 102h1v1h-1zM28 103h1v1h-1zM126 103h1v1h-1zM28 104h2v1h-2zM126 104h1v1h-1zM125 105h1v1h-1zM29 106h2v1h-2zM124 106h1v1h-1zM29 107h1v1h-1zM31 107h1v1h-1zM124 107h1v1h-1zM123 108h1v1h-1zM30 109h1v1h-1zM32 109h1v1h-1zM122 109h1v1h-1zM33 110h1v1h-1zM121 110h1v1h-1zM31 111h1v1h-1zM120 111h2v1h-2zM34 112h1v1h-1zM120 112h1v1h-1zM32 113h1v1h-1zM35 113h1v1h-1zM119 113h1v1h-1zM36 114h1v1h-1zM118 114h1v1h-1zM33 115h1v1h-1zM117 115h1v1h-1zM116 116h1v1h-1zM38 117h1v1h-1zM115 117h1v1h-1zM35 118h1v1h-1zM39 118h1v1h-1zM114 118h1v1h-1zM40 119h1v1h-1zM113 119h1v1h-1zM41 120h1v1h-1zM112 120h1v1h-1zM111 121h1v1h-1zM38 122h1v1h-1zM44 122h1v1h-1zM110 122h1v1h-1zM39 123h1v1h-1zM45 123h1v1h-1zM109 123h1v1h-1zM47 124h1v1h-1zM107 124h1v1h-1zM49 125h1v1h-1zM106 125h1v1h-1zM51 126h1v1h-1zM104 126h1v1h-1zM53 127h2v1h-2zM101 127h2v1h-2zM44 128h1v1h-1zM56 128h1v1h-1zM98 128h3v1h-3zM45 129h1v1h-1zM58 129h2v1h-2zM93 129h4v1h-4zM46 130h1v1h-1zM60 130h2v1h-2zM89 130h3v1h-3zM63 131h2v1h-2zM87 131h2v1h-2zM49 132h1v1h-1zM65 132h2v1h-2zM85 132h2v1h-2zM67 133h3v1h-3zM81 133h3v1h-3zM52 134h1v1h-1zM71 134h8v1h-8zM54 135h1v1h-1zM56 136h1v1h-1zM58 137h1v1h-1zM61 138h1v1h-1zM65 139h1v1h-1zM69 140h1v1h-1zM43 141h1v1h-1zM46 141h1v1h-1zM73 141h1v1h-1zM43 142h1v1h-1zM49 142h1v1h-1zM77 142h1v1h-1zM43 143h1v1h-1zM52 143h1v1h-1zM79 143h1v1h-1zM44 144h1v1h-1zM44 145h1v1h-1zM85 145h1v1h-1zM45 146h1v1h-1zM63 146h1v1h-1zM70 147h2v1h-2zM50 151h1v1h-1zM51 152h1v1h-1zM52 153h1v1h-1zM54 154h1v1h-1zM55 155h1v1h-1zM55 156h2v1h-2zM55 157h2v1h-2zM55 158h2v1h-2z"/><path fill="#00ffdd" d="M65 5h2v1h-2zM70 5h11v1h-11zM59 6h2v1h-2zM75 6h7v1h-7zM55 7h2v1h-2zM70 7h10v1h-10zM51 8h1v1h-1zM65 8h5v1h-5zM48 9h1v1h-1zM61 9h4v1h-4zM59 10h2v1h-2zM42 11h1v1h-1zM57 11h2v1h-2zM55 12h2v1h-2zM53 13h3v1h-3zM52 14h2v1h-2zM51 15h3v1h-3zM32 16h1v1h-1zM51 16h2v1h-2zM50 17h2v1h-2zM74 17h5v1h-5zM92 17h3v1h-3zM29 18h1v1h-1zM49 18h2v1h-2zM69 18h3v1h-3zM98 18h2v1h-2zM48 19h2v1h-2zM65 19h3v1h-3zM102 19h2v1h-2zM26 20h1v1h-1zM47 20h1v1h-1zM62 20h3v1h-3zM105 20h2v1h-2zM22 21h1v1h-1zM46 21h1v1h-1zM59 21h3v1h-3zM107 21h2v1h-2zM21 22h3v1h-3zM45 22h1v1h-1zM56 22h3v1h-3zM109 22h2v1h-2zM22 23h1v1h-1zM44 23h2v1h-2zM54 23h3v1h-3zM111 23h2v1h-2zM43 24h2v1h-2zM51 24h4v1h-4zM113 24h2v1h-2zM42 25h3v1h-3zM48 25h4v1h-4zM114 25h2v1h-2zM42 26h8v1h-8zM116 26h1v1h-1zM42 27h5v1h-5zM117 27h1v1h-1zM118 28h1v1h-1zM119 29h1v1h-1zM120 30h1v1h-1zM120 31h1v1h-1zM121 32h1v1h-1zM89 33h3v1h-3zM93 33h2v1h-2zM122 33h1v1h-1zM87 34h2v1h-2zM98 34h1v1h-1zM123 34h1v1h-1zM81 35h1v1h-1zM100 35h1v1h-1zM102 36h1v1h-1zM71 37h1v1h-1zM104 37h1v1h-1zM125 37h1v1h-1zM68 38h1v1h-1zM105 38h1v1h-1zM126 38h1v1h-1zM106 39h1v1h-1zM127 40h1v1h-1zM62 41h1v1h-1zM108 41h1v1h-1zM61 42h1v1h-1zM109 42h1v1h-1zM128 42h1v1h-1zM60 43h1v1h-1zM110 43h1v1h-1zM129 44h1v1h-1zM59 45h1v1h-1zM111 45h1v1h-1zM129 45h1v1h-1zM58 47h1v1h-1zM112 47h1v1h-1zM113 48h1v1h-1zM130 48h1v1h-1zM113 49h1v1h-1zM130 49h1v1h-1zM114 50h1v1h-1zM115 51h1v1h-1zM56 52h1v1h-1zM115 52h1v1h-1zM116 53h1v1h-1zM131 53h1v1h-1zM55 54h1v1h-1zM116 54h1v1h-1zM117 55h1v1h-1zM54 56h1v1h-1zM117 56h1v1h-1zM117 57h1v1h-1zM132 57h1v1h-1zM117 58h1v1h-1zM117 59h1v1h-1zM53 60h1v1h-1zM133 60h1v1h-1zM116 61h1v1h-1zM115 62h1v1h-1zM52 63h1v1h-1zM115 63h1v1h-1zM52 64h1v1h-1zM114 64h1v1h-1zM134 64h1v1h-1zM52 65h1v1h-1zM113 65h1v1h-1zM134 65h1v1h-1zM52 66h1v1h-1zM113 66h1v1h-1zM53 67h2v1h-2zM111 67h2v1h-2zM55 68h2v1h-2zM59 68h5v1h-5zM110 68h1v1h-1zM64 69h1v1h-1zM109 69h1v1h-1zM107 70h1v1h-1zM135 71h1v1h-1zM106 72h1v1h-1zM135 72h1v1h-1zM105 73h1v1h-1zM135 73h1v1h-1zM104 74h1v1h-1zM135 74h1v1h-1zM102 75h2v1h-2zM134 75h2v1h-2zM98 76h3v1h-3zM134 76h1v1h-1zM134 77h1v1h-1zM134 78h1v1h-1zM134 79h1v1h-1zM134 80h1v1h-1zM134 81h1v1h-1zM134 82h1v1h-1zM133 83h1v1h-1zM133 84h1v1h-1zM133 85h1v1h-1zM133 86h1v1h-1zM132 88h1v1h-1zM132 89h1v1h-1zM132 90h1v1h-1zM131 91h1v1h-1zM131 92h1v1h-1zM130 93h1v1h-1zM130 94h1v1h-1zM129 95h2v1h-2zM129 96h1v1h-1zM128 97h2v1h-2zM26 98h1v1h-1zM128 98h1v1h-1zM26 99h1v1h-1zM127 99h2v1h-2zM27 100h1v1h-1zM127 100h1v1h-1zM126 101h1v1h-1zM27 102h2v1h-2zM126 102h1v1h-1zM27 103h1v1h-1zM29 103h1v1h-1zM125 103h1v1h-1zM124 104h2v1h-2zM28 105h1v1h-1zM30 105h1v1h-1zM124 105h1v1h-1zM123 106h1v1h-1zM122 107h2v1h-2zM29 108h1v1h-1zM32 108h1v1h-1zM121 108h2v1h-2zM121 109h1v1h-1zM30 110h1v1h-1zM120 110h1v1h-1zM34 111h1v1h-1zM119 111h1v1h-1zM31 112h1v1h-1zM118 112h2v1h-2zM117 113h2v1h-2zM116 114h2v1h-2zM37 115h1v1h-1zM116 115h1v1h-1zM38 116h1v1h-1zM115 116h1v1h-1zM34 117h1v1h-1zM39 117h1v1h-1zM114 117h1v1h-1zM40 118h1v1h-1zM113 118h1v1h-1zM41 119h1v1h-1zM112 119h1v1h-1zM36 120h1v1h-1zM42 120h1v1h-1zM111 120h1v1h-1zM37 121h1v1h-1zM43 121h1v1h-1zM110 121h1v1h-1zM45 122h1v1h-1zM109 122h1v1h-1zM46 123h1v1h-1zM107 123h2v1h-2zM48 124h1v1h-1zM106 124h1v1h-1zM50 125h1v1h-1zM104 125h2v1h-2zM52 126h2v1h-2zM102 126h2v1h-2zM55 127h1v1h-1zM99 127h2v1h-2zM57 128h2v1h-2zM94 128h4v1h-4zM60 129h2v1h-2zM90 129h3v1h-3zM62 130h2v1h-2zM88 130h1v1h-1zM47 131h1v1h-1zM65 131h2v1h-2zM85 131h2v1h-2zM67 132h3v1h-3zM83 132h2v1h-2zM50 133h1v1h-1zM70 133h11v1h-11zM55 136h1v1h-1zM60 138h1v1h-1zM64 139h1v1h-1zM42 140h3v1h-3zM67 140h2v1h-2zM42 141h1v1h-1zM47 141h1v1h-1zM72 141h1v1h-1zM42 142h1v1h-1zM76 142h1v1h-1zM43 144h1v1h-1zM82 144h1v1h-1zM43 145h1v1h-1zM59 145h1v1h-1zM44 146h1v1h-1zM45 147h1v1h-1zM79 147h1v1h-1zM46 148h1v1h-1zM47 149h1v1h-1zM48 150h1v1h-1zM49 151h1v1h-1zM50 152h1v1h-1zM53 154h1v1h-1zM54 155h1v1h-1zM53 156h2v1h-2zM53 157h2v1h-2zM53 158h2v1h-2z"/><path fill="#00ffd6" d="M67 5h3v1h-3zM61 6h14v1h-14zM57 7h13v1h-13zM52 8h3v1h-3zM58 8h7v1h-7zM49 9h1v1h-1zM57 9h4v1h-4zM45 10h2v1h-2zM55 10h4v1h-4zM43 11h1v1h-1zM54 11h3v1h-3zM40 12h1v1h-1zM53 12h2v1h-2zM38 13h1v1h-1zM52 13h1v1h-1zM36 14h1v1h-1zM50 14h2v1h-2zM34 15h1v1h-1zM50 15h1v1h-1zM49 16h2v1h-2zM31 17h1v1h-1zM48 17h2v1h-2zM79 17h13v1h-13zM47 18h2v1h-2zM72 18h3v1h-3zM95 18h3v1h-3zM28 19h1v1h-1zM46 19h2v1h-2zM68 19h2v1h-2zM100 19h2v1h-2zM45 20h2v1h-2zM65 20h2v1h-2zM103 20h2v1h-2zM25 21h1v1h-1zM44 21h2v1h-2zM62 21h2v1h-2zM106 21h1v1h-1zM24 22h1v1h-1zM43 22h2v1h-2zM59 22h3v1h-3zM108 22h1v1h-1zM20 23h2v1h-2zM42 23h2v1h-2zM57 23h3v1h-3zM110 23h1v1h-1zM20 24h2v1h-2zM41 24h2v1h-2zM55 24h2v1h-2zM112 24h1v1h-1zM41 25h1v1h-1zM52 25h3v1h-3zM113 25h1v1h-1zM40 26h2v1h-2zM50 26h3v1h-3zM114 26h2v1h-2zM40 27h2v1h-2zM47 27h4v1h-4zM115 27h2v1h-2zM40 28h8v1h-8zM117 28h1v1h-1zM40 29h4v1h-4zM118 29h1v1h-1zM119 30h1v1h-1zM90 32h1v1h-1zM88 33h1v1h-1zM95 33h2v1h-2zM85 34h2v1h-2zM99 34h1v1h-1zM79 35h2v1h-2zM101 35h1v1h-1zM74 36h1v1h-1zM103 36h1v1h-1zM124 36h1v1h-1zM70 37h1v1h-1zM106 38h1v1h-1zM107 39h1v1h-1zM126 39h1v1h-1zM63 40h1v1h-1zM108 40h1v1h-1zM109 41h1v1h-1zM60 42h1v1h-1zM110 42h1v1h-1zM59 43h1v1h-1zM128 43h1v1h-1zM59 44h1v1h-1zM111 44h1v1h-1zM112 45h1v1h-1zM112 46h1v1h-1zM129 46h1v1h-1zM113 47h1v1h-1zM129 47h1v1h-1zM57 49h1v1h-1zM114 49h1v1h-1zM115 50h1v1h-1zM130 50h1v1h-1zM56 51h1v1h-1zM130 51h1v1h-1zM116 52h1v1h-1zM55 53h1v1h-1zM117 53h1v1h-1zM117 54h1v1h-1zM131 54h1v1h-1zM54 55h1v1h-1zM131 55h1v1h-1zM118 56h1v1h-1zM118 57h1v1h-1zM53 58h1v1h-1zM118 58h1v1h-1zM132 58h1v1h-1zM53 59h1v1h-1zM118 59h1v1h-1zM117 60h1v1h-1zM117 61h1v1h-1zM133 61h1v1h-1zM52 62h1v1h-1zM116 62h1v1h-1zM133 62h1v1h-1zM116 63h1v1h-1zM115 64h1v1h-1zM114 65h1v1h-1zM114 66h1v1h-1zM134 66h1v1h-1zM52 67h1v1h-1zM113 67h1v1h-1zM134 67h1v1h-1zM53 68h2v1h-2zM111 68h2v1h-2zM134 68h1v1h-1zM56 69h3v1h-3zM110 69h1v1h-1zM134 69h1v1h-1zM108 70h2v1h-2zM134 70h1v1h-1zM107 71h1v1h-1zM134 71h1v1h-1zM107 72h1v1h-1zM134 72h1v1h-1zM106 73h1v1h-1zM133 73h2v1h-2zM105 74h1v1h-1zM133 74h2v1h-2zM104 75h2v1h-2zM133 75h1v1h-1zM101 76h4v1h-4zM133 76h1v1h-1zM97 77h2v1h-2zM133 77h1v1h-1zM133 78h1v1h-1zM133 79h1v1h-1zM133 80h1v1h-1zM133 81h1v1h-1zM133 82h1v1h-1zM132 83h1v1h-1zM132 84h1v1h-1zM132 85h1v1h-1zM132 86h1v1h-1zM131 87h2v1h-2zM131 88h1v1h-1zM131 89h1v1h-1zM130 90h2v1h-2zM130 91h1v1h-1zM130 92h1v1h-1zM129 93h1v1h-1zM129 94h1v1h-1zM25 95h1v1h-1zM128 95h1v1h-1zM25 96h1v1h-1zM128 96h1v1h-1zM26 97h1v1h-1zM127 97h1v1h-1zM127 98h1v1h-1zM27 99h1v1h-1zM126 99h1v1h-1zM26 100h1v1h-1zM126 100h1v1h-1zM26 101h1v1h-1zM28 101h1v1h-1zM125 101h1v1h-1zM124 102h2v1h-2zM124 103h1v1h-1zM27 104h1v1h-1zM30 104h1v1h-1zM123 104h1v1h-1zM122 105h2v1h-2zM28 106h1v1h-1zM31 106h1v1h-1zM121 106h2v1h-2zM121 107h1v1h-1zM120 108h1v1h-1zM33 109h1v1h-1zM119 109h2v1h-2zM118 110h2v1h-2zM117 111h2v1h-2zM35 112h1v1h-1zM116 112h2v1h-2zM36 113h1v1h-1zM116 113h1v1h-1zM32 114h1v1h-1zM37 114h1v1h-1zM115 114h1v1h-1zM114 115h2v1h-2zM33 116h1v1h-1zM113 116h2v1h-2zM112 117h2v1h-2zM112 118h1v1h-1zM35 119h1v1h-1zM111 119h1v1h-1zM43 120h1v1h-1zM110 120h1v1h-1zM44 121h1v1h-1zM109 121h1v1h-1zM46 122h1v1h-1zM107 122h2v1h-2zM38 123h1v1h-1zM47 123h2v1h-2zM106 123h1v1h-1zM39 124h1v1h-1zM49 124h1v1h-1zM104 124h2v1h-2zM40 125h1v1h-1zM51 125h2v1h-2zM102 125h2v1h-2zM41 126h1v1h-1zM54 126h1v1h-1zM100 126h2v1h-2zM42 127h1v1h-1zM56 127h2v1h-2zM96 127h3v1h-3zM43 128h1v1h-1zM59 128h2v1h-2zM91 128h3v1h-3zM44 129h1v1h-1zM62 129h1v1h-1zM88 129h2v1h-2zM64 130h2v1h-2zM86 130h2v1h-2zM67 131h2v1h-2zM84 131h1v1h-1zM48 132h1v1h-1zM70 132h4v1h-4zM80 132h3v1h-3zM51 134h1v1h-1zM53 135h1v1h-1zM57 137h1v1h-1zM41 139h1v1h-1zM63 139h1v1h-1zM41 140h1v1h-1zM66 140h1v1h-1zM41 141h1v1h-1zM71 141h1v1h-1zM41 142h1v1h-1zM50 142h1v1h-1zM75 142h1v1h-1zM42 143h1v1h-1zM53 143h1v1h-1zM78 143h1v1h-1zM42 144h1v1h-1zM56 144h1v1h-1zM81 144h1v1h-1zM84 145h1v1h-1zM43 146h1v1h-1zM64 146h1v1h-1zM83 146h1v1h-1zM44 147h1v1h-1zM72 147h1v1h-1zM77 147h2v1h-2zM45 148h1v1h-1zM46 149h1v1h-1zM47 150h1v1h-1zM48 151h1v1h-1zM49 152h1v1h-1zM51 153h1v1h-1zM52 154h1v1h-1zM52 155h2v1h-2zM52 156h1v1h-1zM51 157h2v1h-2z"/><path fill="#00ffce" d="M55 8h3v1h-3zM50 9h7v1h-7zM47 10h1v1h-1zM53 10h2v1h-2zM44 11h1v1h-1zM52 11h2v1h-2zM41 12h1v1h-1zM51 12h2v1h-2zM50 13h2v1h-2zM49 14h1v1h-1zM48 15h2v1h-2zM33 16h1v1h-1zM47 16h2v1h-2zM46 17h2v1h-2zM46 18h1v1h-1zM75 18h5v1h-5zM92 18h3v1h-3zM45 19h1v1h-1zM70 19h3v1h-3zM98 19h2v1h-2zM27 20h1v1h-1zM44 20h1v1h-1zM67 20h2v1h-2zM102 20h1v1h-1zM43 21h1v1h-1zM64 21h2v1h-2zM104 21h2v1h-2zM42 22h1v1h-1zM62 22h2v1h-2zM107 22h1v1h-1zM23 23h1v1h-1zM41 23h1v1h-1zM60 23h1v1h-1zM109 23h1v1h-1zM19 24h1v1h-1zM40 24h1v1h-1zM57 24h2v1h-2zM110 24h2v1h-2zM18 25h3v1h-3zM40 25h1v1h-1zM55 25h2v1h-2zM112 25h1v1h-1zM19 26h1v1h-1zM39 26h1v1h-1zM53 26h2v1h-2zM113 26h1v1h-1zM38 27h2v1h-2zM51 27h2v1h-2zM38 28h2v1h-2zM48 28h3v1h-3zM116 28h1v1h-1zM38 29h2v1h-2zM44 29h4v1h-4zM117 29h1v1h-1zM38 30h7v1h-7zM118 30h1v1h-1zM119 31h1v1h-1zM87 32h3v1h-3zM91 32h4v1h-4zM120 32h1v1h-1zM86 33h2v1h-2zM97 33h1v1h-1zM121 33h1v1h-1zM84 34h1v1h-1zM100 34h1v1h-1zM122 34h1v1h-1zM78 35h1v1h-1zM102 35h1v1h-1zM123 35h1v1h-1zM73 36h1v1h-1zM104 36h1v1h-1zM105 37h1v1h-1zM67 38h1v1h-1zM125 38h1v1h-1zM65 39h1v1h-1zM108 39h1v1h-1zM109 40h1v1h-1zM61 41h1v1h-1zM110 41h1v1h-1zM127 41h1v1h-1zM127 42h1v1h-1zM111 43h1v1h-1zM58 44h1v1h-1zM112 44h1v1h-1zM128 44h1v1h-1zM58 45h1v1h-1zM128 45h1v1h-1zM58 46h1v1h-1zM113 46h1v1h-1zM114 47h1v1h-1zM57 48h1v1h-1zM114 48h1v1h-1zM129 48h1v1h-1zM115 49h1v1h-1zM129 49h1v1h-1zM116 50h1v1h-1zM116 51h1v1h-1zM117 52h1v1h-1zM130 52h1v1h-1zM54 54h1v1h-1zM118 54h1v1h-1zM118 55h1v1h-1zM53 56h1v1h-1zM131 56h1v1h-1zM53 57h1v1h-1zM119 57h1v1h-1zM119 58h1v1h-1zM119 59h1v1h-1zM132 59h1v1h-1zM118 60h1v1h-1zM132 60h1v1h-1zM52 61h1v1h-1zM118 61h1v1h-1zM117 62h1v1h-1zM117 63h1v1h-1zM133 63h1v1h-1zM116 64h1v1h-1zM133 64h1v1h-1zM51 65h1v1h-1zM115 65h1v1h-1zM133 65h1v1h-1zM51 66h1v1h-1zM115 66h1v1h-1zM133 66h1v1h-1zM51 67h1v1h-1zM114 67h1v1h-1zM132 67h2v1h-2zM52 68h1v1h-1zM113 68h1v1h-1zM132 68h2v1h-2zM53 69h3v1h-3zM59 69h2v1h-2zM62 69h2v1h-2zM111 69h2v1h-2zM132 69h2v1h-2zM64 70h1v1h-1zM110 70h1v1h-1zM132 70h2v1h-2zM108 71h2v1h-2zM132 71h2v1h-2zM108 72h1v1h-1zM132 72h2v1h-2zM107 73h1v1h-1zM132 73h1v1h-1zM106 74h1v1h-1zM132 74h1v1h-1zM106 75h1v1h-1zM132 75h1v1h-1zM105 76h1v1h-1zM132 76h1v1h-1zM99 77h6v1h-6zM132 77h1v1h-1zM132 78h1v1h-1zM132 79h1v1h-1zM132 80h1v1h-1zM131 81h2v1h-2zM131 82h2v1h-2zM131 83h1v1h-1zM131 84h1v1h-1zM130 85h2v1h-2zM130 86h2v1h-2zM130 87h1v1h-1zM129 88h2v1h-2zM129 89h2v1h-2zM129 90h1v1h-1zM128 91h2v1h-2zM128 92h2v1h-2zM128 93h1v1h-1zM25 94h1v1h-1zM127 94h2v1h-2zM127 95h1v1h-1zM126 96h2v1h-2zM25 97h1v1h-1zM126 97h1v1h-1zM25 98h1v1h-1zM27 98h1v1h-1zM125 98h2v1h-2zM125 99h1v1h-1zM28 100h1v1h-1zM124 100h2v1h-2zM124 101h1v1h-1zM29 102h1v1h-1zM123 102h1v1h-1zM122 103h2v1h-2zM121 104h2v1h-2zM31 105h1v1h-1zM121 105h1v1h-1zM120 106h1v1h-1zM28 107h1v1h-1zM32 107h1v1h-1zM119 107h2v1h-2zM118 108h2v1h-2zM29 109h1v1h-1zM117 109h2v1h-2zM34 110h1v1h-1zM116 110h2v1h-2zM30 111h1v1h-1zM35 111h1v1h-1zM115 111h2v1h-2zM115 112h1v1h-1zM31 113h1v1h-1zM114 113h2v1h-2zM113 114h2v1h-2zM38 115h1v1h-1zM112 115h2v1h-2zM39 116h1v1h-1zM112 116h1v1h-1zM40 117h1v1h-1zM111 117h1v1h-1zM34 118h1v1h-1zM41 118h1v1h-1zM110 118h2v1h-2zM42 119h1v1h-1zM109 119h2v1h-2zM44 120h1v1h-1zM108 120h2v1h-2zM45 121h1v1h-1zM107 121h2v1h-2zM37 122h1v1h-1zM47 122h1v1h-1zM106 122h1v1h-1zM104 123h2v1h-2zM50 124h2v1h-2zM103 124h1v1h-1zM53 125h1v1h-1zM101 125h1v1h-1zM55 126h1v1h-1zM97 126h3v1h-3zM58 127h1v1h-1zM92 127h4v1h-4zM61 128h1v1h-1zM89 128h2v1h-2zM63 129h3v1h-3zM86 129h2v1h-2zM45 130h1v1h-1zM66 130h3v1h-3zM84 130h2v1h-2zM69 131h4v1h-4zM82 131h2v1h-2zM74 132h6v1h-6zM49 133h1v1h-1zM52 135h1v1h-1zM54 136h1v1h-1zM59 138h1v1h-1zM40 139h1v1h-1zM42 139h1v1h-1zM62 139h1v1h-1zM40 140h1v1h-1zM45 140h1v1h-1zM40 141h1v1h-1zM48 141h1v1h-1zM70 141h1v1h-1zM74 142h1v1h-1zM41 143h1v1h-1zM77 143h1v1h-1zM41 144h1v1h-1zM80 144h1v1h-1zM42 145h1v1h-1zM60 145h1v1h-1zM83 145h1v1h-1zM65 146h1v1h-1zM43 147h1v1h-1zM73 147h4v1h-4zM44 148h1v1h-1zM45 149h1v1h-1zM46 150h1v1h-1zM47 151h1v1h-1zM50 153h1v1h-1zM50 154h2v1h-2zM50 155h2v1h-2zM50 156h2v1h-2zM50 157h1v1h-1z"/><path fill="#00ffc7" d="M48 10h5v1h-5zM45 11h1v1h-1zM49 11h3v1h-3zM42 12h1v1h-1zM49 12h2v1h-2zM39 13h1v1h-1zM48 13h2v1h-2zM37 14h1v1h-1zM47 14h2v1h-2zM35 15h1v1h-1zM46 15h2v1h-2zM46 16h1v1h-1zM45 17h1v1h-1zM30 18h1v1h-1zM44 18h2v1h-2zM80 18h12v1h-12zM44 19h1v1h-1zM73 19h3v1h-3zM95 19h3v1h-3zM43 20h1v1h-1zM69 20h2v1h-2zM100 20h2v1h-2zM26 21h1v1h-1zM42 21h1v1h-1zM66 21h2v1h-2zM103 21h1v1h-1zM41 22h1v1h-1zM64 22h1v1h-1zM105 22h2v1h-2zM40 23h1v1h-1zM61 23h2v1h-2zM108 23h1v1h-1zM22 24h1v1h-1zM39 24h1v1h-1zM59 24h2v1h-2zM109 24h1v1h-1zM21 25h1v1h-1zM39 25h1v1h-1zM57 25h2v1h-2zM111 25h1v1h-1zM17 26h2v1h-2zM38 26h1v1h-1zM55 26h2v1h-2zM17 27h2v1h-2zM37 27h1v1h-1zM53 27h1v1h-1zM114 27h1v1h-1zM37 28h1v1h-1zM51 28h1v1h-1zM115 28h1v1h-1zM36 29h2v1h-2zM48 29h2v1h-2zM116 29h1v1h-1zM36 30h2v1h-2zM45 30h3v1h-3zM37 31h8v1h-8zM89 31h2v1h-2zM86 32h1v1h-1zM95 32h2v1h-2zM85 33h1v1h-1zM98 33h2v1h-2zM82 34h2v1h-2zM101 34h1v1h-1zM77 35h1v1h-1zM103 35h1v1h-1zM105 36h1v1h-1zM69 37h1v1h-1zM106 37h1v1h-1zM124 37h1v1h-1zM107 38h1v1h-1zM126 40h1v1h-1zM111 42h1v1h-1zM58 43h1v1h-1zM112 43h1v1h-1zM127 43h1v1h-1zM113 44h1v1h-1zM113 45h1v1h-1zM114 46h1v1h-1zM128 46h1v1h-1zM57 47h1v1h-1zM128 47h1v1h-1zM115 48h1v1h-1zM116 49h1v1h-1zM56 50h1v1h-1zM129 50h1v1h-1zM117 51h1v1h-1zM129 51h1v1h-1zM55 52h1v1h-1zM118 53h1v1h-1zM130 53h1v1h-1zM119 54h1v1h-1zM130 54h1v1h-1zM53 55h1v1h-1zM119 55h1v1h-1zM119 56h1v1h-1zM120 57h1v1h-1zM131 57h1v1h-1zM120 58h1v1h-1zM120 59h1v1h-1zM52 60h1v1h-1zM119 60h1v1h-1zM119 61h1v1h-1zM132 61h1v1h-1zM118 62h2v1h-2zM132 62h1v1h-1zM118 63h1v1h-1zM131 63h2v1h-2zM51 64h1v1h-1zM117 64h1v1h-1zM131 64h2v1h-2zM116 65h2v1h-2zM131 65h2v1h-2zM116 66h1v1h-1zM131 66h2v1h-2zM115 67h1v1h-1zM131 67h1v1h-1zM51 68h1v1h-1zM114 68h2v1h-2zM131 68h1v1h-1zM51 69h2v1h-2zM61 69h1v1h-1zM113 69h2v1h-2zM131 69h1v1h-1zM53 70h6v1h-6zM63 70h1v1h-1zM111 70h3v1h-3zM131 70h1v1h-1zM110 71h2v1h-2zM131 71h1v1h-1zM109 72h1v1h-1zM131 72h1v1h-1zM108 73h1v1h-1zM131 73h1v1h-1zM107 74h1v1h-1zM130 74h2v1h-2zM130 75h2v1h-2zM106 76h1v1h-1zM130 76h2v1h-2zM105 77h1v1h-1zM130 77h2v1h-2zM97 78h7v1h-7zM129 78h3v1h-3zM129 79h3v1h-3zM128 80h4v1h-4zM128 81h3v1h-3zM128 82h3v1h-3zM127 83h4v1h-4zM127 84h4v1h-4zM127 85h3v1h-3zM127 86h3v1h-3zM127 87h3v1h-3zM127 88h2v1h-2zM127 89h2v1h-2zM126 90h3v1h-3zM24 91h1v1h-1zM126 91h2v1h-2zM24 92h1v1h-1zM126 92h2v1h-2zM24 93h1v1h-1zM126 93h2v1h-2zM24 94h1v1h-1zM125 94h2v1h-2zM24 95h1v1h-1zM125 95h2v1h-2zM26 96h1v1h-1zM125 96h1v1h-1zM124 97h2v1h-2zM124 98h1v1h-1zM25 99h1v1h-1zM123 99h2v1h-2zM123 100h1v1h-1zM122 101h2v1h-2zM26 102h1v1h-1zM121 102h2v1h-2zM30 103h1v1h-1zM121 103h1v1h-1zM120 104h1v1h-1zM27 105h1v1h-1zM119 105h2v1h-2zM118 106h2v1h-2zM117 107h2v1h-2zM33 108h1v1h-1zM116 108h2v1h-2zM34 109h1v1h-1zM116 109h1v1h-1zM115 110h1v1h-1zM114 111h1v1h-1zM36 112h1v1h-1zM113 112h2v1h-2zM37 113h1v1h-1zM112 113h2v1h-2zM112 114h1v1h-1zM32 115h1v1h-1zM111 115h1v1h-1zM110 116h2v1h-2zM33 117h1v1h-1zM109 117h2v1h-2zM42 118h1v1h-1zM109 118h1v1h-1zM43 119h1v1h-1zM108 119h1v1h-1zM107 120h1v1h-1zM36 121h1v1h-1zM46 121h1v1h-1zM106 121h1v1h-1zM48 122h1v1h-1zM104 122h2v1h-2zM49 123h1v1h-1zM103 123h1v1h-1zM52 124h1v1h-1zM101 124h2v1h-2zM54 125h1v1h-1zM98 125h3v1h-3zM56 126h2v1h-2zM94 126h3v1h-3zM59 127h2v1h-2zM90 127h2v1h-2zM62 128h3v1h-3zM87 128h2v1h-2zM66 129h2v1h-2zM85 129h1v1h-1zM69 130h3v1h-3zM83 130h1v1h-1zM46 131h1v1h-1zM73 131h9v1h-9zM50 134h1v1h-1zM56 137h1v1h-1zM39 138h2v1h-2zM58 138h1v1h-1zM39 139h1v1h-1zM43 139h1v1h-1zM61 139h1v1h-1zM39 140h1v1h-1zM46 140h1v1h-1zM65 140h1v1h-1zM39 141h1v1h-1zM69 141h1v1h-1zM40 142h1v1h-1zM51 142h1v1h-1zM73 142h1v1h-1zM40 143h1v1h-1zM40 144h1v1h-1zM41 145h1v1h-1zM42 146h1v1h-1zM82 146h1v1h-1zM48 152h1v1h-1zM48 153h2v1h-2zM48 154h2v1h-2zM48 155h2v1h-2zM48 156h2v1h-2z"/><path fill="#00ffc0" d="M46 11h3v1h-3zM43 12h1v1h-1zM47 12h2v1h-2zM40 13h1v1h-1zM47 13h1v1h-1zM46 14h1v1h-1zM45 15h1v1h-1zM34 16h1v1h-1zM44 16h2v1h-2zM32 17h1v1h-1zM44 17h1v1h-1zM43 18h1v1h-1zM29 19h1v1h-1zM42 19h2v1h-2zM76 19h4v1h-4zM89 19h6v1h-6zM42 20h1v1h-1zM71 20h2v1h-2zM97 20h3v1h-3zM41 21h1v1h-1zM68 21h2v1h-2zM101 21h2v1h-2zM25 22h1v1h-1zM40 22h1v1h-1zM65 22h2v1h-2zM104 22h1v1h-1zM39 23h1v1h-1zM63 23h2v1h-2zM106 23h2v1h-2zM61 24h1v1h-1zM108 24h1v1h-1zM38 25h1v1h-1zM59 25h1v1h-1zM110 25h1v1h-1zM20 26h1v1h-1zM37 26h1v1h-1zM57 26h1v1h-1zM112 26h1v1h-1zM16 27h1v1h-1zM19 27h1v1h-1zM36 27h1v1h-1zM54 27h2v1h-2zM113 27h1v1h-1zM16 28h2v1h-2zM36 28h1v1h-1zM52 28h1v1h-1zM35 29h1v1h-1zM50 29h1v1h-1zM35 30h1v1h-1zM48 30h1v1h-1zM117 30h1v1h-1zM35 31h2v1h-2zM45 31h2v1h-2zM85 31h4v1h-4zM91 31h4v1h-4zM118 31h1v1h-1zM35 32h10v1h-10zM84 32h2v1h-2zM97 32h2v1h-2zM119 32h1v1h-1zM37 33h4v1h-4zM84 33h1v1h-1zM100 33h1v1h-1zM120 33h1v1h-1zM81 34h1v1h-1zM102 34h1v1h-1zM121 34h1v1h-1zM76 35h1v1h-1zM104 35h1v1h-1zM122 35h1v1h-1zM72 36h1v1h-1zM106 36h1v1h-1zM123 36h1v1h-1zM107 37h1v1h-1zM66 38h1v1h-1zM108 38h1v1h-1zM124 38h1v1h-1zM64 39h1v1h-1zM109 39h1v1h-1zM125 39h1v1h-1zM62 40h1v1h-1zM110 40h1v1h-1zM111 41h1v1h-1zM126 41h1v1h-1zM59 42h1v1h-1zM112 42h1v1h-1zM126 42h1v1h-1zM113 43h1v1h-1zM57 44h1v1h-1zM127 44h1v1h-1zM57 45h1v1h-1zM114 45h1v1h-1zM127 45h1v1h-1zM57 46h1v1h-1zM115 46h1v1h-1zM115 47h1v1h-1zM116 48h1v1h-1zM128 48h1v1h-1zM128 49h1v1h-1zM117 50h1v1h-1zM55 51h1v1h-1zM118 51h1v1h-1zM118 52h1v1h-1zM129 52h1v1h-1zM54 53h1v1h-1zM119 53h1v1h-1zM120 55h1v1h-1zM130 55h1v1h-1zM120 56h1v1h-1zM52 58h1v1h-1zM121 58h1v1h-1zM131 58h1v1h-1zM52 59h1v1h-1zM121 59h1v1h-1zM131 59h1v1h-1zM120 60h2v1h-2zM131 60h1v1h-1zM120 61h2v1h-2zM130 61h2v1h-2zM120 62h1v1h-1zM130 62h2v1h-2zM51 63h1v1h-1zM119 63h2v1h-2zM130 63h1v1h-1zM118 64h2v1h-2zM130 64h1v1h-1zM118 65h1v1h-1zM129 65h2v1h-2zM117 66h2v1h-2zM129 66h2v1h-2zM50 67h1v1h-1zM116 67h2v1h-2zM129 67h2v1h-2zM50 68h1v1h-1zM116 68h2v1h-2zM129 68h2v1h-2zM50 69h1v1h-1zM115 69h2v1h-2zM129 69h2v1h-2zM51 70h2v1h-2zM59 70h2v1h-2zM62 70h1v1h-1zM114 70h2v1h-2zM128 70h3v1h-3zM55 71h2v1h-2zM64 71h1v1h-1zM112 71h3v1h-3zM128 71h3v1h-3zM110 72h3v1h-3zM128 72h3v1h-3zM109 73h1v1h-1zM127 73h4v1h-4zM108 74h1v1h-1zM127 74h3v1h-3zM107 75h1v1h-1zM126 75h4v1h-4zM107 76h1v1h-1zM125 76h5v1h-5zM106 77h1v1h-1zM124 77h6v1h-6zM104 78h2v1h-2zM123 78h6v1h-6zM97 79h1v1h-1zM123 79h6v1h-6zM123 80h5v1h-5zM123 81h5v1h-5zM123 82h5v1h-5zM123 83h4v1h-4zM124 84h3v1h-3zM124 85h3v1h-3zM124 86h3v1h-3zM124 87h3v1h-3zM23 88h1v1h-1zM124 88h3v1h-3zM23 89h1v1h-1zM124 89h3v1h-3zM23 90h2v1h-2zM124 90h2v1h-2zM23 91h1v1h-1zM124 91h2v1h-2zM23 92h1v1h-1zM124 92h2v1h-2zM25 93h1v1h-1zM124 93h2v1h-2zM124 94h1v1h-1zM26 95h1v1h-1zM124 95h1v1h-1zM24 96h1v1h-1zM123 96h2v1h-2zM27 97h1v1h-1zM123 97h1v1h-1zM122 98h2v1h-2zM28 99h1v1h-1zM122 99h1v1h-1zM25 100h1v1h-1zM121 100h2v1h-2zM29 101h1v1h-1zM121 101h1v1h-1zM120 102h1v1h-1zM26 103h1v1h-1zM119 103h2v1h-2zM31 104h1v1h-1zM118 104h2v1h-2zM118 105h1v1h-1zM32 106h1v1h-1zM117 106h1v1h-1zM33 107h1v1h-1zM116 107h1v1h-1zM28 108h1v1h-1zM115 108h1v1h-1zM114 109h2v1h-2zM29 110h1v1h-1zM35 110h1v1h-1zM113 110h2v1h-2zM112 111h2v1h-2zM30 112h1v1h-1zM112 112h1v1h-1zM111 113h1v1h-1zM31 114h1v1h-1zM38 114h1v1h-1zM110 114h2v1h-2zM39 115h1v1h-1zM109 115h2v1h-2zM40 116h1v1h-1zM109 116h1v1h-1zM41 117h1v1h-1zM108 117h1v1h-1zM107 118h2v1h-2zM106 119h2v1h-2zM35 120h1v1h-1zM45 120h1v1h-1zM106 120h1v1h-1zM47 121h1v1h-1zM104 121h2v1h-2zM103 122h1v1h-1zM50 123h2v1h-2zM101 123h2v1h-2zM38 124h1v1h-1zM53 124h1v1h-1zM99 124h2v1h-2zM39 125h1v1h-1zM55 125h2v1h-2zM96 125h2v1h-2zM40 126h1v1h-1zM58 126h2v1h-2zM92 126h2v1h-2zM41 127h1v1h-1zM61 127h2v1h-2zM88 127h2v1h-2zM42 128h1v1h-1zM65 128h2v1h-2zM85 128h2v1h-2zM68 129h3v1h-3zM83 129h2v1h-2zM72 130h4v1h-4zM80 130h3v1h-3zM47 132h1v1h-1zM38 138h1v1h-1zM41 138h1v1h-1zM38 139h1v1h-1zM44 139h1v1h-1zM38 140h1v1h-1zM64 140h1v1h-1zM38 141h1v1h-1zM68 141h1v1h-1zM39 142h1v1h-1zM72 142h1v1h-1zM39 143h1v1h-1zM54 143h1v1h-1zM76 143h1v1h-1zM57 144h1v1h-1zM79 144h1v1h-1zM40 145h1v1h-1zM61 145h1v1h-1zM82 145h1v1h-1zM41 146h1v1h-1zM42 147h1v1h-1zM43 148h1v1h-1zM44 149h1v1h-1zM45 150h1v1h-1zM46 151h1v1h-1zM47 152h1v1h-1zM47 153h1v1h-1zM46 154h2v1h-2zM46 155h2v1h-2z"/><path fill="#00ffb9" d="M44 12h3v1h-3zM41 13h2v1h-2zM45 13h2v1h-2zM38 14h2v1h-2zM45 14h1v1h-1zM36 15h1v1h-1zM44 15h1v1h-1zM43 16h1v1h-1zM43 17h1v1h-1zM31 18h1v1h-1zM42 18h1v1h-1zM41 19h1v1h-1zM80 19h9v1h-9zM28 20h1v1h-1zM40 20h2v1h-2zM73 20h3v1h-3zM93 20h4v1h-4zM40 21h1v1h-1zM70 21h2v1h-2zM98 21h3v1h-3zM39 22h1v1h-1zM67 22h2v1h-2zM102 22h2v1h-2zM24 23h1v1h-1zM38 23h1v1h-1zM65 23h1v1h-1zM105 23h1v1h-1zM23 24h1v1h-1zM38 24h1v1h-1zM62 24h2v1h-2zM107 24h1v1h-1zM37 25h1v1h-1zM60 25h2v1h-2zM109 25h1v1h-1zM36 26h1v1h-1zM58 26h1v1h-1zM111 26h1v1h-1zM56 27h1v1h-1zM112 27h1v1h-1zM15 28h1v1h-1zM18 28h1v1h-1zM35 28h1v1h-1zM53 28h2v1h-2zM114 28h1v1h-1zM15 29h3v1h-3zM51 29h2v1h-2zM115 29h1v1h-1zM34 30h1v1h-1zM49 30h1v1h-1zM86 30h7v1h-7zM34 31h1v1h-1zM47 31h1v1h-1zM83 31h2v1h-2zM95 31h3v1h-3zM34 32h1v1h-1zM45 32h1v1h-1zM83 32h1v1h-1zM99 32h2v1h-2zM34 33h3v1h-3zM41 33h3v1h-3zM83 33h1v1h-1zM101 33h2v1h-2zM36 34h6v1h-6zM80 34h1v1h-1zM103 34h2v1h-2zM75 35h1v1h-1zM105 35h1v1h-1zM71 36h1v1h-1zM107 36h1v1h-1zM68 37h1v1h-1zM108 37h1v1h-1zM123 37h1v1h-1zM109 38h1v1h-1zM110 39h1v1h-1zM124 39h1v1h-1zM111 40h1v1h-1zM125 40h1v1h-1zM60 41h1v1h-1zM112 41h1v1h-1zM125 41h1v1h-1zM113 42h1v1h-1zM114 43h1v1h-1zM126 43h1v1h-1zM114 44h1v1h-1zM115 45h1v1h-1zM116 46h1v1h-1zM127 46h1v1h-1zM116 47h1v1h-1zM127 47h1v1h-1zM56 48h1v1h-1zM117 48h1v1h-1zM56 49h1v1h-1zM117 49h1v1h-1zM118 50h1v1h-1zM128 50h1v1h-1zM54 52h1v1h-1zM119 52h1v1h-1zM129 53h1v1h-1zM53 54h1v1h-1zM120 54h1v1h-1zM129 54h1v1h-1zM121 55h1v1h-1zM121 56h1v1h-1zM130 56h1v1h-1zM52 57h1v1h-1zM121 57h1v1h-1zM130 57h1v1h-1zM122 58h1v1h-1zM130 58h1v1h-1zM122 59h1v1h-1zM129 59h2v1h-2zM122 60h2v1h-2zM129 60h2v1h-2zM51 61h1v1h-1zM122 61h2v1h-2zM128 61h2v1h-2zM51 62h1v1h-1zM121 62h3v1h-3zM128 62h2v1h-2zM121 63h3v1h-3zM127 63h3v1h-3zM120 64h3v1h-3zM126 64h4v1h-4zM119 65h3v1h-3zM126 65h3v1h-3zM50 66h1v1h-1zM119 66h2v1h-2zM126 66h3v1h-3zM118 67h3v1h-3zM125 67h4v1h-4zM118 68h3v1h-3zM125 68h4v1h-4zM117 69h3v1h-3zM125 69h4v1h-4zM50 70h1v1h-1zM61 70h1v1h-1zM116 70h5v1h-5zM125 70h3v1h-3zM50 71h5v1h-5zM57 71h2v1h-2zM63 71h1v1h-1zM115 71h6v1h-6zM124 71h4v1h-4zM113 72h15v1h-15zM110 73h5v1h-5zM117 73h10v1h-10zM109 74h2v1h-2zM118 74h9v1h-9zM108 75h1v1h-1zM118 75h8v1h-8zM108 76h1v1h-1zM119 76h6v1h-6zM107 77h1v1h-1zM119 77h5v1h-5zM106 78h1v1h-1zM119 78h4v1h-4zM98 79h8v1h-8zM119 79h4v1h-4zM120 80h3v1h-3zM120 81h3v1h-3zM120 82h3v1h-3zM121 83h2v1h-2zM121 84h3v1h-3zM23 85h1v1h-1zM122 85h2v1h-2zM23 86h1v1h-1zM122 86h2v1h-2zM23 87h1v1h-1zM123 87h1v1h-1zM123 88h1v1h-1zM24 89h1v1h-1zM123 89h1v1h-1zM123 90h1v1h-1zM123 91h1v1h-1zM25 92h1v1h-1zM123 92h1v1h-1zM23 93h1v1h-1zM123 93h1v1h-1zM123 94h1v1h-1zM122 95h2v1h-2zM122 96h1v1h-1zM24 97h1v1h-1zM122 97h1v1h-1zM121 98h1v1h-1zM121 99h1v1h-1zM120 100h1v1h-1zM25 101h1v1h-1zM120 101h1v1h-1zM30 102h1v1h-1zM119 102h1v1h-1zM118 103h1v1h-1zM117 104h1v1h-1zM116 105h2v1h-2zM27 106h1v1h-1zM116 106h1v1h-1zM115 107h1v1h-1zM34 108h1v1h-1zM114 108h1v1h-1zM113 109h1v1h-1zM112 110h1v1h-1zM36 111h1v1h-1zM111 111h1v1h-1zM37 112h1v1h-1zM110 112h2v1h-2zM109 113h2v1h-2zM109 114h1v1h-1zM108 115h1v1h-1zM32 116h1v1h-1zM107 116h2v1h-2zM42 117h1v1h-1zM107 117h1v1h-1zM43 118h1v1h-1zM106 118h1v1h-1zM34 119h1v1h-1zM44 119h1v1h-1zM105 119h1v1h-1zM46 120h1v1h-1zM104 120h2v1h-2zM103 121h1v1h-1zM49 122h1v1h-1zM102 122h1v1h-1zM37 123h1v1h-1zM52 123h1v1h-1zM100 123h1v1h-1zM54 124h2v1h-2zM97 124h2v1h-2zM57 125h2v1h-2zM93 125h3v1h-3zM60 126h2v1h-2zM89 126h3v1h-3zM63 127h3v1h-3zM86 127h2v1h-2zM67 128h3v1h-3zM84 128h1v1h-1zM43 129h1v1h-1zM71 129h3v1h-3zM81 129h2v1h-2zM44 130h1v1h-1zM76 130h4v1h-4zM48 133h1v1h-1zM53 136h1v1h-1zM38 137h2v1h-2zM55 137h1v1h-1zM37 138h1v1h-1zM42 138h1v1h-1zM57 138h1v1h-1zM37 139h1v1h-1zM60 139h1v1h-1zM37 140h1v1h-1zM63 140h1v1h-1zM37 141h1v1h-1zM49 141h1v1h-1zM67 141h1v1h-1zM38 142h1v1h-1zM38 143h1v1h-1zM75 143h1v1h-1zM39 144h1v1h-1zM40 146h1v1h-1zM66 146h1v1h-1zM81 146h1v1h-1zM41 147h1v1h-1zM42 148h1v1h-1zM43 149h1v1h-1zM44 150h1v1h-1zM45 151h1v1h-1zM45 152h2v1h-2zM44 153h3v1h-3zM44 154h2v1h-2zM45 155h1v1h-1z"/><path fill="#00ffb1" d="M43 13h2v1h-2zM40 14h5v1h-5zM37 15h1v1h-1zM43 15h1v1h-1zM35 16h1v1h-1zM42 16h1v1h-1zM33 17h1v1h-1zM42 17h1v1h-1zM41 18h1v1h-1zM30 19h1v1h-1zM40 19h1v1h-1zM39 20h1v1h-1zM76 20h4v1h-4zM86 20h7v1h-7zM27 21h1v1h-1zM39 21h1v1h-1zM72 21h2v1h-2zM94 21h4v1h-4zM38 22h1v1h-1zM69 22h2v1h-2zM99 22h3v1h-3zM37 23h1v1h-1zM66 23h2v1h-2zM102 23h3v1h-3zM37 24h1v1h-1zM64 24h1v1h-1zM105 24h2v1h-2zM22 25h1v1h-1zM36 25h1v1h-1zM62 25h1v1h-1zM108 25h1v1h-1zM21 26h1v1h-1zM59 26h2v1h-2zM110 26h1v1h-1zM20 27h1v1h-1zM35 27h1v1h-1zM57 27h1v1h-1zM34 28h1v1h-1zM55 28h1v1h-1zM113 28h1v1h-1zM14 29h1v1h-1zM34 29h1v1h-1zM53 29h1v1h-1zM14 30h3v1h-3zM33 30h1v1h-1zM50 30h2v1h-2zM83 30h3v1h-3zM93 30h4v1h-4zM116 30h1v1h-1zM15 31h1v1h-1zM33 31h1v1h-1zM48 31h2v1h-2zM81 31h2v1h-2zM98 31h2v1h-2zM117 31h1v1h-1zM33 32h1v1h-1zM46 32h2v1h-2zM82 32h1v1h-1zM101 32h1v1h-1zM118 32h1v1h-1zM33 33h1v1h-1zM44 33h2v1h-2zM82 33h1v1h-1zM103 33h1v1h-1zM119 33h1v1h-1zM33 34h3v1h-3zM42 34h2v1h-2zM78 34h2v1h-2zM105 34h1v1h-1zM120 34h1v1h-1zM36 35h5v1h-5zM74 35h1v1h-1zM106 35h1v1h-1zM121 35h1v1h-1zM108 36h1v1h-1zM122 36h1v1h-1zM109 37h1v1h-1zM65 38h1v1h-1zM110 38h1v1h-1zM123 38h1v1h-1zM63 39h1v1h-1zM111 39h1v1h-1zM61 40h1v1h-1zM112 40h1v1h-1zM124 40h1v1h-1zM113 41h1v1h-1zM114 42h1v1h-1zM125 42h1v1h-1zM115 44h1v1h-1zM126 44h1v1h-1zM56 45h1v1h-1zM116 45h1v1h-1zM126 45h1v1h-1zM56 46h1v1h-1zM56 47h1v1h-1zM117 47h1v1h-1zM127 48h1v1h-1zM118 49h1v1h-1zM127 49h1v1h-1zM55 50h1v1h-1zM119 50h1v1h-1zM119 51h1v1h-1zM128 51h1v1h-1zM120 52h1v1h-1zM128 52h1v1h-1zM32 53h1v1h-1zM53 53h1v1h-1zM120 53h1v1h-1zM128 53h1v1h-1zM31 54h1v1h-1zM121 54h1v1h-1zM31 55h1v1h-1zM122 55h1v1h-1zM129 55h1v1h-1zM30 56h1v1h-1zM52 56h1v1h-1zM122 56h1v1h-1zM129 56h1v1h-1zM29 57h2v1h-2zM122 57h2v1h-2zM128 57h2v1h-2zM29 58h1v1h-1zM123 58h2v1h-2zM128 58h2v1h-2zM29 59h1v1h-1zM123 59h6v1h-6zM51 60h1v1h-1zM124 60h5v1h-5zM124 61h4v1h-4zM124 62h4v1h-4zM124 63h3v1h-3zM50 64h1v1h-1zM123 64h3v1h-3zM50 65h1v1h-1zM122 65h4v1h-4zM121 66h5v1h-5zM121 67h4v1h-4zM121 68h4v1h-4zM49 69h1v1h-1zM120 69h5v1h-5zM49 70h1v1h-1zM121 70h4v1h-4zM49 71h1v1h-1zM59 71h4v1h-4zM121 71h3v1h-3zM50 72h8v1h-8zM115 73h2v1h-2zM111 74h7v1h-7zM109 75h9v1h-9zM109 76h1v1h-1zM116 76h3v1h-3zM108 77h1v1h-1zM117 77h2v1h-2zM107 78h1v1h-1zM118 78h1v1h-1zM106 79h1v1h-1zM118 79h1v1h-1zM22 80h1v1h-1zM97 80h8v1h-8zM118 80h2v1h-2zM22 81h1v1h-1zM119 81h1v1h-1zM22 82h2v1h-2zM119 82h1v1h-1zM22 83h2v1h-2zM120 83h1v1h-1zM22 84h2v1h-2zM120 84h1v1h-1zM22 85h1v1h-1zM120 85h2v1h-2zM22 86h1v1h-1zM121 86h1v1h-1zM22 87h1v1h-1zM121 87h2v1h-2zM22 88h1v1h-1zM24 88h1v1h-1zM121 88h2v1h-2zM122 89h1v1h-1zM122 90h1v1h-1zM25 91h1v1h-1zM122 91h1v1h-1zM122 92h1v1h-1zM122 93h1v1h-1zM23 94h1v1h-1zM26 94h1v1h-1zM121 94h2v1h-2zM121 95h1v1h-1zM27 96h1v1h-1zM121 96h1v1h-1zM121 97h1v1h-1zM24 98h1v1h-1zM28 98h1v1h-1zM120 98h1v1h-1zM120 99h1v1h-1zM29 100h1v1h-1zM119 100h1v1h-1zM118 101h2v1h-2zM118 102h1v1h-1zM31 103h1v1h-1zM117 103h1v1h-1zM26 104h1v1h-1zM116 104h1v1h-1zM32 105h1v1h-1zM115 105h1v1h-1zM114 106h2v1h-2zM113 107h2v1h-2zM112 108h2v1h-2zM28 109h1v1h-1zM35 109h1v1h-1zM112 109h1v1h-1zM111 110h1v1h-1zM29 111h1v1h-1zM110 111h1v1h-1zM109 112h1v1h-1zM30 113h1v1h-1zM38 113h1v1h-1zM108 113h1v1h-1zM39 114h1v1h-1zM107 114h2v1h-2zM40 115h1v1h-1zM107 115h1v1h-1zM41 116h1v1h-1zM106 116h1v1h-1zM105 117h2v1h-2zM33 118h1v1h-1zM105 118h1v1h-1zM45 119h1v1h-1zM104 119h1v1h-1zM47 120h1v1h-1zM103 120h1v1h-1zM48 121h2v1h-2zM102 121h1v1h-1zM36 122h1v1h-1zM50 122h2v1h-2zM100 122h2v1h-2zM53 123h1v1h-1zM98 123h2v1h-2zM56 124h1v1h-1zM95 124h2v1h-2zM59 125h2v1h-2zM91 125h2v1h-2zM62 126h2v1h-2zM87 126h2v1h-2zM66 127h2v1h-2zM84 127h2v1h-2zM70 128h3v1h-3zM81 128h3v1h-3zM74 129h7v1h-7zM45 131h1v1h-1zM51 135h1v1h-1zM37 137h1v1h-1zM40 137h1v1h-1zM36 138h1v1h-1zM36 139h1v1h-1zM36 140h1v1h-1zM47 140h1v1h-1zM37 142h1v1h-1zM52 142h1v1h-1zM71 142h1v1h-1zM37 143h1v1h-1zM38 144h1v1h-1zM58 144h1v1h-1zM78 144h1v1h-1zM39 145h1v1h-1zM81 145h1v1h-1zM39 146h1v1h-1zM40 147h1v1h-1zM41 148h1v1h-1zM42 149h1v1h-1zM43 150h1v1h-1zM43 151h2v1h-2zM43 152h2v1h-2zM42 153h2v1h-2zM43 154h1v1h-1z"/><path fill="#00ffaa" d="M38 15h5v1h-5zM36 16h1v1h-1zM41 16h1v1h-1zM40 17h2v1h-2zM32 18h1v1h-1zM40 18h1v1h-1zM39 19h1v1h-1zM80 20h6v1h-6zM38 21h1v1h-1zM74 21h3v1h-3zM89 21h5v1h-5zM26 22h1v1h-1zM37 22h1v1h-1zM71 22h2v1h-2zM94 22h5v1h-5zM68 23h2v1h-2zM98 23h4v1h-4zM36 24h1v1h-1zM65 24h2v1h-2zM101 24h4v1h-4zM35 25h1v1h-1zM63 25h2v1h-2zM105 25h3v1h-3zM35 26h1v1h-1zM61 26h1v1h-1zM108 26h2v1h-2zM34 27h1v1h-1zM58 27h2v1h-2zM110 27h2v1h-2zM19 28h1v1h-1zM56 28h1v1h-1zM112 28h1v1h-1zM18 29h1v1h-1zM33 29h1v1h-1zM54 29h1v1h-1zM82 29h14v1h-14zM114 29h1v1h-1zM17 30h1v1h-1zM52 30h1v1h-1zM80 30h3v1h-3zM97 30h2v1h-2zM115 30h1v1h-1zM13 31h2v1h-2zM16 31h1v1h-1zM32 31h1v1h-1zM50 31h1v1h-1zM80 31h1v1h-1zM100 31h2v1h-2zM116 31h1v1h-1zM13 32h2v1h-2zM32 32h1v1h-1zM48 32h1v1h-1zM81 32h1v1h-1zM102 32h2v1h-2zM32 33h1v1h-1zM46 33h1v1h-1zM81 33h1v1h-1zM104 33h1v1h-1zM32 34h1v1h-1zM44 34h1v1h-1zM77 34h1v1h-1zM106 34h1v1h-1zM33 35h3v1h-3zM41 35h2v1h-2zM73 35h1v1h-1zM107 35h1v1h-1zM120 35h1v1h-1zM35 36h6v1h-6zM70 36h1v1h-1zM109 36h1v1h-1zM121 36h1v1h-1zM67 37h1v1h-1zM110 37h1v1h-1zM122 37h1v1h-1zM111 38h1v1h-1zM112 39h1v1h-1zM123 39h1v1h-1zM113 40h1v1h-1zM59 41h1v1h-1zM114 41h1v1h-1zM124 41h1v1h-1zM58 42h1v1h-1zM115 42h1v1h-1zM57 43h1v1h-1zM115 43h1v1h-1zM125 43h1v1h-1zM56 44h1v1h-1zM116 44h1v1h-1zM125 44h1v1h-1zM117 45h1v1h-1zM117 46h1v1h-1zM126 46h1v1h-1zM118 47h1v1h-1zM126 47h1v1h-1zM118 48h1v1h-1zM126 48h1v1h-1zM55 49h1v1h-1zM119 49h1v1h-1zM120 50h1v1h-1zM127 50h1v1h-1zM33 51h1v1h-1zM54 51h1v1h-1zM120 51h1v1h-1zM127 51h1v1h-1zM32 52h2v1h-2zM121 52h1v1h-1zM127 52h1v1h-1zM31 53h1v1h-1zM121 53h1v1h-1zM30 54h1v1h-1zM32 54h1v1h-1zM122 54h1v1h-1zM128 54h1v1h-1zM30 55h1v1h-1zM32 55h1v1h-1zM52 55h1v1h-1zM123 55h1v1h-1zM128 55h1v1h-1zM29 56h1v1h-1zM31 56h1v1h-1zM123 56h6v1h-6zM31 57h1v1h-1zM124 57h4v1h-4zM28 58h1v1h-1zM30 58h1v1h-1zM51 58h1v1h-1zM125 58h3v1h-3zM28 59h1v1h-1zM30 59h1v1h-1zM51 59h1v1h-1zM27 60h3v1h-3zM27 61h2v1h-2zM27 62h2v1h-2zM50 63h1v1h-1zM49 67h1v1h-1zM49 68h1v1h-1zM49 72h1v1h-1zM58 72h1v1h-1zM62 72h2v1h-2zM49 73h8v1h-8zM50 74h2v1h-2zM23 76h1v1h-1zM110 76h6v1h-6zM22 77h2v1h-2zM109 77h1v1h-1zM114 77h3v1h-3zM22 78h2v1h-2zM108 78h1v1h-1zM116 78h2v1h-2zM22 79h2v1h-2zM107 79h1v1h-1zM117 79h1v1h-1zM23 80h1v1h-1zM105 80h1v1h-1zM117 80h1v1h-1zM23 81h1v1h-1zM118 81h1v1h-1zM118 82h1v1h-1zM119 83h1v1h-1zM119 84h1v1h-1zM119 85h1v1h-1zM120 86h1v1h-1zM24 87h1v1h-1zM120 87h1v1h-1zM120 88h1v1h-1zM22 89h1v1h-1zM120 89h2v1h-2zM22 90h1v1h-1zM121 90h1v1h-1zM121 91h1v1h-1zM121 92h1v1h-1zM121 93h1v1h-1zM23 95h1v1h-1zM120 95h1v1h-1zM120 96h1v1h-1zM120 97h1v1h-1zM119 98h1v1h-1zM24 99h1v1h-1zM119 99h1v1h-1zM118 100h1v1h-1zM30 101h1v1h-1zM25 102h1v1h-1zM117 102h1v1h-1zM116 103h1v1h-1zM115 104h1v1h-1zM114 105h1v1h-1zM33 106h1v1h-1zM113 106h1v1h-1zM27 107h1v1h-1zM34 107h1v1h-1zM112 107h1v1h-1zM111 108h1v1h-1zM110 109h2v1h-2zM36 110h1v1h-1zM109 110h2v1h-2zM37 111h1v1h-1zM108 111h2v1h-2zM107 112h2v1h-2zM107 113h1v1h-1zM106 114h1v1h-1zM31 115h1v1h-1zM105 115h2v1h-2zM104 116h2v1h-2zM43 117h1v1h-1zM104 117h1v1h-1zM44 118h1v1h-1zM103 118h2v1h-2zM46 119h1v1h-1zM102 119h2v1h-2zM48 120h1v1h-1zM101 120h2v1h-2zM35 121h1v1h-1zM50 121h1v1h-1zM100 121h2v1h-2zM52 122h1v1h-1zM98 122h2v1h-2zM54 123h2v1h-2zM96 123h2v1h-2zM57 124h2v1h-2zM92 124h3v1h-3zM61 125h1v1h-1zM88 125h3v1h-3zM64 126h2v1h-2zM85 126h2v1h-2zM68 127h3v1h-3zM82 127h2v1h-2zM73 128h8v1h-8zM49 134h1v1h-1zM36 136h3v1h-3zM36 137h1v1h-1zM54 137h1v1h-1zM35 138h1v1h-1zM43 138h1v1h-1zM35 139h1v1h-1zM45 139h1v1h-1zM59 139h1v1h-1zM35 140h1v1h-1zM62 140h1v1h-1zM36 141h1v1h-1zM66 141h1v1h-1zM36 142h1v1h-1zM70 142h1v1h-1zM36 143h1v1h-1zM55 143h1v1h-1zM74 143h1v1h-1zM37 144h1v1h-1zM38 145h1v1h-1zM80 146h1v1h-1zM39 147h1v1h-1zM40 148h1v1h-1zM41 149h1v1h-1zM41 150h2v1h-2zM41 151h2v1h-2zM40 152h3v1h-3zM41 153h1v1h-1z"/><path fill="#00ffa3" d="M37 16h4v1h-4zM34 17h1v1h-1zM39 17h1v1h-1zM39 18h1v1h-1zM38 19h1v1h-1zM29 20h1v1h-1zM38 20h1v1h-1zM37 21h1v1h-1zM77 21h12v1h-12zM36 22h1v1h-1zM73 22h3v1h-3zM90 22h4v1h-4zM25 23h1v1h-1zM36 23h1v1h-1zM70 23h2v1h-2zM93 23h5v1h-5zM24 24h1v1h-1zM35 24h1v1h-1zM67 24h2v1h-2zM95 24h6v1h-6zM34 25h1v1h-1zM65 25h1v1h-1zM98 25h7v1h-7zM34 26h1v1h-1zM62 26h2v1h-2zM101 26h7v1h-7zM33 27h1v1h-1zM60 27h2v1h-2zM106 27h4v1h-4zM33 28h1v1h-1zM57 28h2v1h-2zM82 28h14v1h-14zM109 28h3v1h-3zM32 29h1v1h-1zM55 29h2v1h-2zM79 29h3v1h-3zM96 29h4v1h-4zM112 29h2v1h-2zM32 30h1v1h-1zM53 30h1v1h-1zM78 30h2v1h-2zM99 30h3v1h-3zM114 30h1v1h-1zM31 31h1v1h-1zM51 31h1v1h-1zM78 31h2v1h-2zM102 31h2v1h-2zM115 31h1v1h-1zM12 32h1v1h-1zM15 32h1v1h-1zM31 32h1v1h-1zM49 32h1v1h-1zM79 32h2v1h-2zM104 32h1v1h-1zM116 32h2v1h-2zM12 33h3v1h-3zM31 33h1v1h-1zM47 33h1v1h-1zM79 33h2v1h-2zM105 33h2v1h-2zM118 33h1v1h-1zM31 34h1v1h-1zM45 34h1v1h-1zM76 34h1v1h-1zM107 34h1v1h-1zM119 34h1v1h-1zM31 35h2v1h-2zM43 35h2v1h-2zM108 35h1v1h-1zM33 36h2v1h-2zM41 36h2v1h-2zM69 36h1v1h-1zM120 36h1v1h-1zM35 37h6v1h-6zM111 37h1v1h-1zM121 37h1v1h-1zM64 38h1v1h-1zM112 38h1v1h-1zM122 38h1v1h-1zM62 39h1v1h-1zM113 39h1v1h-1zM60 40h1v1h-1zM114 40h1v1h-1zM123 40h1v1h-1zM124 42h1v1h-1zM116 43h1v1h-1zM124 43h1v1h-1zM117 44h1v1h-1zM125 45h1v1h-1zM55 46h1v1h-1zM118 46h1v1h-1zM125 46h1v1h-1zM55 47h1v1h-1zM119 47h1v1h-1zM125 47h1v1h-1zM55 48h1v1h-1zM119 48h1v1h-1zM34 49h1v1h-1zM120 49h1v1h-1zM126 49h1v1h-1zM33 50h2v1h-2zM121 50h1v1h-1zM126 50h1v1h-1zM32 51h1v1h-1zM121 51h1v1h-1zM31 52h1v1h-1zM53 52h1v1h-1zM122 52h1v1h-1zM30 53h1v1h-1zM33 53h1v1h-1zM122 53h2v1h-2zM127 53h1v1h-1zM123 54h5v1h-5zM29 55h1v1h-1zM124 55h4v1h-4zM28 57h1v1h-1zM51 57h1v1h-1zM27 59h1v1h-1zM26 61h1v1h-1zM29 61h1v1h-1zM26 62h1v1h-1zM50 62h1v1h-1zM26 63h2v1h-2zM25 64h3v1h-3zM25 65h2v1h-2zM25 66h1v1h-1zM49 66h1v1h-1zM25 67h1v1h-1zM24 68h1v1h-1zM24 69h1v1h-1zM24 70h1v1h-1zM48 70h1v1h-1zM23 71h1v1h-1zM48 71h1v1h-1zM23 72h1v1h-1zM48 72h1v1h-1zM59 72h3v1h-3zM23 73h1v1h-1zM48 73h1v1h-1zM57 73h1v1h-1zM63 73h1v1h-1zM23 74h1v1h-1zM48 74h2v1h-2zM52 74h3v1h-3zM22 75h2v1h-2zM49 75h3v1h-3zM22 76h1v1h-1zM110 77h4v1h-4zM109 78h1v1h-1zM113 78h3v1h-3zM115 79h2v1h-2zM106 80h1v1h-1zM116 80h1v1h-1zM97 81h8v1h-8zM117 81h1v1h-1zM117 82h1v1h-1zM118 83h1v1h-1zM118 84h1v1h-1zM24 86h1v1h-1zM119 86h1v1h-1zM119 87h1v1h-1zM119 88h1v1h-1zM25 90h1v1h-1zM120 90h1v1h-1zM22 91h1v1h-1zM120 91h1v1h-1zM120 92h1v1h-1zM26 93h1v1h-1zM120 93h1v1h-1zM120 94h1v1h-1zM119 95h1v1h-1zM23 96h1v1h-1zM119 96h1v1h-1zM119 97h1v1h-1zM118 98h1v1h-1zM29 99h1v1h-1zM118 99h1v1h-1zM117 100h1v1h-1zM117 101h1v1h-1zM116 102h1v1h-1zM115 103h1v1h-1zM32 104h1v1h-1zM114 104h1v1h-1zM26 105h1v1h-1zM113 105h1v1h-1zM112 106h1v1h-1zM111 107h1v1h-1zM35 108h1v1h-1zM110 108h1v1h-1zM109 109h1v1h-1zM28 110h1v1h-1zM108 110h1v1h-1zM107 111h1v1h-1zM29 112h1v1h-1zM38 112h1v1h-1zM106 112h1v1h-1zM39 113h1v1h-1zM105 113h2v1h-2zM40 114h1v1h-1zM104 114h2v1h-2zM41 115h1v1h-1zM104 115h1v1h-1zM42 116h1v1h-1zM103 116h1v1h-1zM32 117h1v1h-1zM102 117h2v1h-2zM45 118h1v1h-1zM101 118h2v1h-2zM47 119h1v1h-1zM100 119h2v1h-2zM34 120h1v1h-1zM49 120h1v1h-1zM99 120h2v1h-2zM51 121h1v1h-1zM98 121h2v1h-2zM53 122h2v1h-2zM96 122h2v1h-2zM56 123h2v1h-2zM93 123h3v1h-3zM59 124h2v1h-2zM89 124h3v1h-3zM62 125h2v1h-2zM86 125h2v1h-2zM39 126h1v1h-1zM66 126h3v1h-3zM82 126h3v1h-3zM40 127h1v1h-1zM71 127h11v1h-11zM41 128h1v1h-1zM46 132h1v1h-1zM35 135h2v1h-2zM35 136h1v1h-1zM39 136h1v1h-1zM52 136h1v1h-1zM34 137h2v1h-2zM41 137h1v1h-1zM34 138h1v1h-1zM56 138h1v1h-1zM34 139h1v1h-1zM34 140h1v1h-1zM35 141h1v1h-1zM50 141h1v1h-1zM65 141h1v1h-1zM35 142h1v1h-1zM36 144h1v1h-1zM77 144h1v1h-1zM37 145h1v1h-1zM62 145h1v1h-1zM80 145h1v1h-1zM38 146h1v1h-1zM67 146h1v1h-1zM79 146h1v1h-1zM38 147h1v1h-1zM39 148h1v1h-1zM39 149h2v1h-2zM39 150h2v1h-2zM38 151h3v1h-3z"/><path fill="#00ff9c" d="M35 17h4v1h-4zM33 18h1v1h-1zM37 18h2v1h-2zM31 19h1v1h-1zM37 19h1v1h-1zM37 20h1v1h-1zM28 21h1v1h-1zM36 21h1v1h-1zM76 22h14v1h-14zM35 23h1v1h-1zM72 23h3v1h-3zM88 23h5v1h-5zM34 24h1v1h-1zM69 24h3v1h-3zM90 24h5v1h-5zM23 25h1v1h-1zM66 25h3v1h-3zM92 25h6v1h-6zM22 26h1v1h-1zM33 26h1v1h-1zM64 26h2v1h-2zM91 26h10v1h-10zM62 27h2v1h-2zM82 27h24v1h-24zM32 28h1v1h-1zM59 28h2v1h-2zM78 28h4v1h-4zM96 28h13v1h-13zM57 29h1v1h-1zM76 29h3v1h-3zM100 29h12v1h-12zM31 30h1v1h-1zM54 30h2v1h-2zM76 30h2v1h-2zM102 30h3v1h-3zM111 30h3v1h-3zM52 31h1v1h-1zM76 31h2v1h-2zM104 31h2v1h-2zM113 31h2v1h-2zM30 32h1v1h-1zM50 32h1v1h-1zM78 32h1v1h-1zM105 32h2v1h-2zM115 32h1v1h-1zM11 33h1v1h-1zM30 33h1v1h-1zM48 33h1v1h-1zM78 33h1v1h-1zM107 33h1v1h-1zM116 33h2v1h-2zM11 34h3v1h-3zM30 34h1v1h-1zM46 34h1v1h-1zM75 34h1v1h-1zM108 34h1v1h-1zM118 34h1v1h-1zM12 35h1v1h-1zM30 35h1v1h-1zM45 35h1v1h-1zM72 35h1v1h-1zM109 35h1v1h-1zM119 35h1v1h-1zM31 36h2v1h-2zM43 36h1v1h-1zM110 36h1v1h-1zM32 37h3v1h-3zM41 37h2v1h-2zM66 37h1v1h-1zM120 37h1v1h-1zM35 38h6v1h-6zM63 38h1v1h-1zM121 38h1v1h-1zM37 39h3v1h-3zM122 39h1v1h-1zM122 40h1v1h-1zM115 41h1v1h-1zM123 41h1v1h-1zM116 42h1v1h-1zM123 42h1v1h-1zM117 43h1v1h-1zM118 44h1v1h-1zM124 44h1v1h-1zM55 45h1v1h-1zM118 45h1v1h-1zM124 45h1v1h-1zM35 46h1v1h-1zM119 46h1v1h-1zM124 46h1v1h-1zM34 47h2v1h-2zM120 47h1v1h-1zM33 48h3v1h-3zM120 48h1v1h-1zM125 48h1v1h-1zM32 49h2v1h-2zM35 49h1v1h-1zM121 49h1v1h-1zM125 49h1v1h-1zM32 50h1v1h-1zM54 50h1v1h-1zM122 50h1v1h-1zM125 50h1v1h-1zM31 51h1v1h-1zM34 51h1v1h-1zM122 51h2v1h-2zM125 51h2v1h-2zM30 52h1v1h-1zM34 52h1v1h-1zM123 52h4v1h-4zM124 53h3v1h-3zM29 54h1v1h-1zM33 54h1v1h-1zM52 54h1v1h-1zM28 56h1v1h-1zM32 56h1v1h-1zM27 58h1v1h-1zM31 58h1v1h-1zM26 60h1v1h-1zM30 60h1v1h-1zM50 60h1v1h-1zM50 61h1v1h-1zM29 62h1v1h-1zM25 63h1v1h-1zM28 63h1v1h-1zM27 65h1v1h-1zM49 65h1v1h-1zM24 66h1v1h-1zM26 66h1v1h-1zM24 67h1v1h-1zM25 68h1v1h-1zM23 69h1v1h-1zM25 69h1v1h-1zM48 69h1v1h-1zM23 70h1v1h-1zM24 71h1v1h-1zM24 72h1v1h-1zM47 73h1v1h-1zM58 73h5v1h-5zM22 74h1v1h-1zM47 74h1v1h-1zM55 74h3v1h-3zM47 75h2v1h-2zM52 75h2v1h-2zM48 76h4v1h-4zM110 78h3v1h-3zM108 79h1v1h-1zM113 79h2v1h-2zM107 80h1v1h-1zM115 80h1v1h-1zM105 81h1v1h-1zM116 81h1v1h-1zM21 82h1v1h-1zM21 83h1v1h-1zM117 83h1v1h-1zM24 85h1v1h-1zM118 85h1v1h-1zM118 86h1v1h-1zM118 87h1v1h-1zM119 89h1v1h-1zM119 90h1v1h-1zM119 91h1v1h-1zM22 92h1v1h-1zM119 92h1v1h-1zM119 93h1v1h-1zM119 94h1v1h-1zM27 95h1v1h-1zM118 96h1v1h-1zM23 97h1v1h-1zM28 97h1v1h-1zM118 97h1v1h-1zM117 99h1v1h-1zM24 100h1v1h-1zM116 100h1v1h-1zM116 101h1v1h-1zM31 102h1v1h-1zM115 102h1v1h-1zM25 103h1v1h-1zM114 103h1v1h-1zM113 104h1v1h-1zM33 105h1v1h-1zM112 105h1v1h-1zM111 106h1v1h-1zM110 107h1v1h-1zM27 108h1v1h-1zM108 108h2v1h-2zM36 109h1v1h-1zM107 109h2v1h-2zM106 110h2v1h-2zM105 111h2v1h-2zM104 112h2v1h-2zM103 113h2v1h-2zM30 114h1v1h-1zM103 114h1v1h-1zM102 115h2v1h-2zM43 116h1v1h-1zM101 116h2v1h-2zM44 117h1v1h-1zM100 117h2v1h-2zM46 118h1v1h-1zM100 118h1v1h-1zM48 119h1v1h-1zM99 119h1v1h-1zM50 120h1v1h-1zM97 120h2v1h-2zM52 121h2v1h-2zM96 121h2v1h-2zM55 122h1v1h-1zM93 122h3v1h-3zM58 123h1v1h-1zM90 123h3v1h-3zM37 124h1v1h-1zM61 124h2v1h-2zM87 124h2v1h-2zM38 125h1v1h-1zM64 125h3v1h-3zM83 125h3v1h-3zM69 126h5v1h-5zM78 126h4v1h-4zM42 129h1v1h-1zM47 133h1v1h-1zM34 135h1v1h-1zM37 135h1v1h-1zM50 135h1v1h-1zM34 136h1v1h-1zM33 137h1v1h-1zM33 138h1v1h-1zM33 139h1v1h-1zM58 139h1v1h-1zM33 140h1v1h-1zM48 140h1v1h-1zM61 140h1v1h-1zM34 141h1v1h-1zM34 142h1v1h-1zM69 142h1v1h-1zM35 143h1v1h-1zM73 143h1v1h-1zM35 144h1v1h-1zM36 145h1v1h-1zM37 146h1v1h-1zM37 147h1v1h-1zM37 148h2v1h-2zM36 149h3v1h-3zM36 150h3v1h-3z"/><path fill="#00ff95" d="M34 18h3v1h-3zM32 19h1v1h-1zM36 19h1v1h-1zM30 20h1v1h-1zM36 20h1v1h-1zM35 21h1v1h-1zM27 22h1v1h-1zM35 22h1v1h-1zM34 23h1v1h-1zM75 23h13v1h-13zM72 24h4v1h-4zM85 24h5v1h-5zM33 25h1v1h-1zM69 25h4v1h-4zM85 25h7v1h-7zM32 26h1v1h-1zM66 26h4v1h-4zM80 26h11v1h-11zM21 27h1v1h-1zM32 27h1v1h-1zM64 27h3v1h-3zM75 27h7v1h-7zM20 28h1v1h-1zM31 28h1v1h-1zM61 28h3v1h-3zM73 28h5v1h-5zM19 29h1v1h-1zM31 29h1v1h-1zM58 29h3v1h-3zM73 29h3v1h-3zM18 30h1v1h-1zM30 30h1v1h-1zM56 30h1v1h-1zM74 30h2v1h-2zM105 30h6v1h-6zM17 31h1v1h-1zM30 31h1v1h-1zM53 31h2v1h-2zM75 31h1v1h-1zM106 31h7v1h-7zM16 32h1v1h-1zM51 32h1v1h-1zM76 32h2v1h-2zM107 32h2v1h-2zM113 32h2v1h-2zM15 33h1v1h-1zM29 33h1v1h-1zM49 33h1v1h-1zM76 33h2v1h-2zM108 33h1v1h-1zM115 33h1v1h-1zM14 34h1v1h-1zM29 34h1v1h-1zM47 34h2v1h-2zM74 34h1v1h-1zM109 34h1v1h-1zM116 34h2v1h-2zM10 35h2v1h-2zM13 35h1v1h-1zM29 35h1v1h-1zM46 35h1v1h-1zM71 35h1v1h-1zM110 35h1v1h-1zM117 35h2v1h-2zM11 36h1v1h-1zM29 36h2v1h-2zM44 36h1v1h-1zM68 36h1v1h-1zM111 36h1v1h-1zM119 36h1v1h-1zM30 37h2v1h-2zM43 37h1v1h-1zM65 37h1v1h-1zM112 37h1v1h-1zM119 37h1v1h-1zM32 38h3v1h-3zM41 38h2v1h-2zM113 38h1v1h-1zM120 38h1v1h-1zM34 39h3v1h-3zM40 39h1v1h-1zM61 39h1v1h-1zM114 39h1v1h-1zM121 39h1v1h-1zM36 40h4v1h-4zM115 40h1v1h-1zM36 41h4v1h-4zM58 41h1v1h-1zM116 41h1v1h-1zM122 41h1v1h-1zM36 42h3v1h-3zM57 42h1v1h-1zM117 42h1v1h-1zM122 42h1v1h-1zM36 43h2v1h-2zM56 43h1v1h-1zM118 43h1v1h-1zM123 43h1v1h-1zM35 44h3v1h-3zM119 44h1v1h-1zM123 44h1v1h-1zM35 45h3v1h-3zM119 45h1v1h-1zM123 45h1v1h-1zM34 46h1v1h-1zM36 46h1v1h-1zM120 46h1v1h-1zM123 46h1v1h-1zM33 47h1v1h-1zM36 47h1v1h-1zM54 47h1v1h-1zM121 47h1v1h-1zM123 47h2v1h-2zM36 48h1v1h-1zM54 48h1v1h-1zM121 48h4v1h-4zM54 49h1v1h-1zM122 49h3v1h-3zM31 50h1v1h-1zM35 50h1v1h-1zM123 50h2v1h-2zM53 51h1v1h-1zM124 51h1v1h-1zM29 53h1v1h-1zM28 55h1v1h-1zM51 56h1v1h-1zM27 57h1v1h-1zM50 59h1v1h-1zM25 62h1v1h-1zM49 63h1v1h-1zM28 64h1v1h-1zM49 64h1v1h-1zM24 65h1v1h-1zM26 67h1v1h-1zM48 67h1v1h-1zM23 68h1v1h-1zM48 68h1v1h-1zM25 70h1v1h-1zM47 71h1v1h-1zM47 72h1v1h-1zM22 73h1v1h-1zM24 73h1v1h-1zM24 74h1v1h-1zM58 74h1v1h-1zM61 74h2v1h-2zM46 75h1v1h-1zM54 75h3v1h-3zM46 76h2v1h-2zM52 76h2v1h-2zM46 77h6v1h-6zM46 78h4v1h-4zM21 79h1v1h-1zM109 79h4v1h-4zM21 80h1v1h-1zM108 80h1v1h-1zM113 80h2v1h-2zM21 81h1v1h-1zM106 81h1v1h-1zM115 81h1v1h-1zM97 82h8v1h-8zM116 82h1v1h-1zM24 83h1v1h-1zM116 83h1v1h-1zM21 84h1v1h-1zM24 84h1v1h-1zM117 84h1v1h-1zM21 85h1v1h-1zM117 85h1v1h-1zM21 86h1v1h-1zM118 88h1v1h-1zM25 89h1v1h-1zM118 89h1v1h-1zM118 90h1v1h-1zM118 91h1v1h-1zM26 92h1v1h-1zM118 92h1v1h-1zM22 93h1v1h-1zM118 93h1v1h-1zM118 94h1v1h-1zM118 95h1v1h-1zM117 97h1v1h-1zM29 98h1v1h-1zM117 98h1v1h-1zM116 99h1v1h-1zM30 100h1v1h-1zM24 101h1v1h-1zM115 101h1v1h-1zM114 102h1v1h-1zM32 103h1v1h-1zM113 103h1v1h-1zM112 104h1v1h-1zM111 105h1v1h-1zM26 106h1v1h-1zM34 106h1v1h-1zM109 106h2v1h-2zM108 107h2v1h-2zM107 108h1v1h-1zM105 109h2v1h-2zM37 110h1v1h-1zM104 110h2v1h-2zM38 111h1v1h-1zM103 111h2v1h-2zM39 112h1v1h-1zM103 112h1v1h-1zM40 113h1v1h-1zM102 113h1v1h-1zM41 114h1v1h-1zM101 114h2v1h-2zM42 115h1v1h-1zM100 115h2v1h-2zM31 116h1v1h-1zM44 116h1v1h-1zM99 116h2v1h-2zM45 117h1v1h-1zM99 117h1v1h-1zM47 118h1v1h-1zM98 118h2v1h-2zM33 119h1v1h-1zM49 119h1v1h-1zM97 119h2v1h-2zM51 120h2v1h-2zM95 120h2v1h-2zM54 121h1v1h-1zM93 121h3v1h-3zM56 122h2v1h-2zM91 122h2v1h-2zM36 123h1v1h-1zM59 123h2v1h-2zM88 123h2v1h-2zM63 124h2v1h-2zM84 124h3v1h-3zM67 125h4v1h-4zM80 125h3v1h-3zM74 126h4v1h-4zM43 130h1v1h-1zM33 134h3v1h-3zM33 135h1v1h-1zM38 135h1v1h-1zM32 136h2v1h-2zM40 136h1v1h-1zM32 137h1v1h-1zM42 137h1v1h-1zM53 137h1v1h-1zM32 138h1v1h-1zM44 138h1v1h-1zM55 138h1v1h-1zM32 139h1v1h-1zM46 139h1v1h-1zM32 140h1v1h-1zM32 141h2v1h-2zM64 141h1v1h-1zM33 142h1v1h-1zM53 142h1v1h-1zM34 143h1v1h-1zM34 144h1v1h-1zM76 144h1v1h-1zM35 145h1v1h-1zM79 145h1v1h-1zM35 146h2v1h-2zM68 146h1v1h-1zM78 146h1v1h-1zM35 147h2v1h-2zM34 148h3v1h-3zM35 149h1v1h-1z"/><path fill="#00ff8d" d="M33 19h3v1h-3zM31 20h2v1h-2zM34 20h2v1h-2zM29 21h1v1h-1zM34 21h1v1h-1zM34 22h1v1h-1zM26 23h1v1h-1zM33 23h1v1h-1zM25 24h1v1h-1zM33 24h1v1h-1zM76 24h9v1h-9zM32 25h1v1h-1zM73 25h12v1h-12zM70 26h10v1h-10zM31 27h1v1h-1zM67 27h8v1h-8zM64 28h9v1h-9zM30 29h1v1h-1zM61 29h5v1h-5zM67 29h6v1h-6zM57 30h3v1h-3zM70 30h4v1h-4zM29 31h1v1h-1zM55 31h1v1h-1zM73 31h2v1h-2zM29 32h1v1h-1zM52 32h2v1h-2zM74 32h2v1h-2zM109 32h4v1h-4zM50 33h2v1h-2zM75 33h1v1h-1zM109 33h6v1h-6zM49 34h1v1h-1zM73 34h1v1h-1zM110 34h2v1h-2zM114 34h2v1h-2zM28 35h1v1h-1zM47 35h1v1h-1zM70 35h1v1h-1zM111 35h2v1h-2zM116 35h1v1h-1zM9 36h2v1h-2zM12 36h1v1h-1zM45 36h1v1h-1zM67 36h1v1h-1zM112 36h2v1h-2zM117 36h2v1h-2zM10 37h2v1h-2zM29 37h1v1h-1zM44 37h1v1h-1zM113 37h2v1h-2zM118 37h1v1h-1zM30 38h2v1h-2zM43 38h1v1h-1zM62 38h1v1h-1zM114 38h1v1h-1zM119 38h1v1h-1zM32 39h2v1h-2zM41 39h2v1h-2zM115 39h1v1h-1zM120 39h1v1h-1zM34 40h2v1h-2zM40 40h2v1h-2zM59 40h1v1h-1zM116 40h1v1h-1zM120 40h2v1h-2zM35 41h1v1h-1zM40 41h1v1h-1zM117 41h1v1h-1zM121 41h1v1h-1zM35 42h1v1h-1zM39 42h1v1h-1zM118 42h1v1h-1zM121 42h1v1h-1zM35 43h1v1h-1zM38 43h2v1h-2zM119 43h4v1h-4zM34 44h1v1h-1zM38 44h1v1h-1zM55 44h1v1h-1zM120 44h3v1h-3zM34 45h1v1h-1zM120 45h3v1h-3zM33 46h1v1h-1zM37 46h1v1h-1zM54 46h1v1h-1zM121 46h2v1h-2zM37 47h1v1h-1zM122 47h1v1h-1zM32 48h1v1h-1zM31 49h1v1h-1zM36 49h1v1h-1zM30 51h1v1h-1zM35 51h1v1h-1zM34 53h1v1h-1zM52 53h1v1h-1zM33 55h1v1h-1zM51 55h1v1h-1zM32 57h1v1h-1zM50 58h1v1h-1zM26 59h1v1h-1zM31 59h1v1h-1zM25 61h1v1h-1zM30 61h1v1h-1zM49 62h1v1h-1zM29 63h1v1h-1zM24 64h1v1h-1zM28 65h1v1h-1zM27 66h1v1h-1zM48 66h1v1h-1zM26 68h1v1h-1zM47 70h1v1h-1zM25 71h1v1h-1zM22 72h1v1h-1zM46 73h1v1h-1zM46 74h1v1h-1zM59 74h2v1h-2zM24 75h1v1h-1zM45 75h1v1h-1zM57 75h2v1h-2zM62 75h1v1h-1zM24 76h1v1h-1zM45 76h1v1h-1zM54 76h2v1h-2zM21 77h1v1h-1zM24 77h1v1h-1zM44 77h2v1h-2zM52 77h1v1h-1zM21 78h1v1h-1zM44 78h2v1h-2zM50 78h2v1h-2zM44 79h7v1h-7zM44 80h4v1h-4zM109 80h4v1h-4zM24 81h1v1h-1zM107 81h1v1h-1zM113 81h2v1h-2zM24 82h1v1h-1zM105 82h1v1h-1zM115 82h1v1h-1zM100 83h1v1h-1zM116 84h1v1h-1zM117 86h1v1h-1zM21 87h1v1h-1zM117 87h1v1h-1zM21 88h1v1h-1zM25 88h1v1h-1zM117 88h1v1h-1zM22 94h1v1h-1zM27 94h1v1h-1zM117 94h1v1h-1zM117 95h1v1h-1zM28 96h1v1h-1zM117 96h1v1h-1zM116 97h1v1h-1zM23 98h1v1h-1zM116 98h1v1h-1zM115 99h1v1h-1zM115 100h1v1h-1zM31 101h1v1h-1zM114 101h1v1h-1zM113 102h1v1h-1zM112 103h1v1h-1zM25 104h1v1h-1zM33 104h1v1h-1zM111 104h1v1h-1zM109 105h2v1h-2zM108 106h1v1h-1zM35 107h1v1h-1zM106 107h2v1h-2zM36 108h1v1h-1zM105 108h2v1h-2zM27 109h1v1h-1zM104 109h1v1h-1zM103 110h1v1h-1zM28 111h1v1h-1zM102 111h1v1h-1zM101 112h2v1h-2zM29 113h1v1h-1zM100 113h2v1h-2zM42 114h1v1h-1zM99 114h2v1h-2zM43 115h1v1h-1zM98 115h2v1h-2zM45 116h1v1h-1zM98 116h1v1h-1zM46 117h2v1h-2zM97 117h2v1h-2zM32 118h1v1h-1zM48 118h2v1h-2zM96 118h2v1h-2zM50 119h2v1h-2zM95 119h2v1h-2zM53 120h1v1h-1zM93 120h2v1h-2zM55 121h2v1h-2zM91 121h2v1h-2zM35 122h1v1h-1zM58 122h2v1h-2zM89 122h2v1h-2zM61 123h2v1h-2zM85 123h3v1h-3zM65 124h3v1h-3zM81 124h3v1h-3zM71 125h9v1h-9zM44 131h1v1h-1zM33 133h2v1h-2zM32 134h1v1h-1zM36 134h1v1h-1zM48 134h1v1h-1zM31 135h2v1h-2zM30 136h2v1h-2zM51 136h1v1h-1zM30 137h2v1h-2zM30 138h2v1h-2zM30 139h2v1h-2zM57 139h1v1h-1zM31 140h1v1h-1zM60 140h1v1h-1zM31 141h1v1h-1zM32 142h1v1h-1zM68 142h1v1h-1zM32 143h2v1h-2zM56 143h1v1h-1zM72 143h1v1h-1zM33 144h1v1h-1zM59 144h1v1h-1zM33 145h2v1h-2zM33 146h2v1h-2zM32 147h3v1h-3zM33 148h1v1h-1z"/><path fill="#00ff86" d="M33 20h1v1h-1zM30 21h4v1h-4zM28 22h1v1h-1zM33 22h1v1h-1zM27 23h1v1h-1zM32 23h1v1h-1zM32 24h1v1h-1zM24 25h1v1h-1zM23 26h1v1h-1zM31 26h1v1h-1zM30 27h1v1h-1zM30 28h1v1h-1zM29 29h1v1h-1zM66 29h1v1h-1zM29 30h1v1h-1zM60 30h10v1h-10zM28 31h1v1h-1zM56 31h3v1h-3zM70 31h3v1h-3zM28 32h1v1h-1zM54 32h1v1h-1zM72 32h2v1h-2zM16 33h1v1h-1zM28 33h1v1h-1zM52 33h1v1h-1zM73 33h2v1h-2zM15 34h1v1h-1zM28 34h1v1h-1zM50 34h1v1h-1zM72 34h1v1h-1zM112 34h2v1h-2zM14 35h1v1h-1zM48 35h1v1h-1zM69 35h1v1h-1zM113 35h3v1h-3zM13 36h1v1h-1zM28 36h1v1h-1zM46 36h1v1h-1zM114 36h3v1h-3zM9 37h1v1h-1zM12 37h1v1h-1zM28 37h1v1h-1zM45 37h1v1h-1zM64 37h1v1h-1zM115 37h3v1h-3zM9 38h3v1h-3zM28 38h2v1h-2zM44 38h1v1h-1zM115 38h4v1h-4zM30 39h2v1h-2zM60 39h1v1h-1zM116 39h4v1h-4zM32 40h2v1h-2zM117 40h3v1h-3zM33 41h2v1h-2zM41 41h1v1h-1zM118 41h3v1h-3zM34 42h1v1h-1zM40 42h1v1h-1zM119 42h2v1h-2zM34 43h1v1h-1zM39 44h1v1h-1zM33 45h1v1h-1zM38 45h1v1h-1zM32 47h1v1h-1zM53 49h1v1h-1zM30 50h1v1h-1zM53 50h1v1h-1zM29 52h1v1h-1zM28 54h1v1h-1zM27 56h1v1h-1zM50 57h1v1h-1zM26 58h1v1h-1zM32 58h1v1h-1zM31 60h1v1h-1zM49 60h1v1h-1zM49 61h1v1h-1zM48 65h1v1h-1zM23 67h1v1h-1zM27 67h1v1h-1zM47 68h1v1h-1zM26 69h1v1h-1zM47 69h1v1h-1zM22 71h1v1h-1zM46 71h1v1h-1zM25 72h1v1h-1zM46 72h1v1h-1zM45 73h1v1h-1zM45 74h1v1h-1zM44 75h1v1h-1zM59 75h3v1h-3zM21 76h1v1h-1zM44 76h1v1h-1zM56 76h2v1h-2zM62 76h1v1h-1zM43 77h1v1h-1zM53 77h3v1h-3zM24 78h1v1h-1zM43 78h1v1h-1zM52 78h1v1h-1zM24 79h1v1h-1zM42 79h2v1h-2zM51 79h1v1h-1zM24 80h1v1h-1zM42 80h2v1h-2zM48 80h3v1h-3zM43 81h6v1h-6zM108 81h1v1h-1zM111 81h2v1h-2zM43 82h4v1h-4zM106 82h1v1h-1zM113 82h2v1h-2zM97 83h3v1h-3zM101 83h4v1h-4zM115 83h1v1h-1zM115 84h1v1h-1zM116 85h1v1h-1zM116 86h1v1h-1zM21 89h1v1h-1zM117 89h1v1h-1zM21 90h1v1h-1zM117 90h1v1h-1zM26 91h1v1h-1zM117 91h1v1h-1zM117 92h1v1h-1zM117 93h1v1h-1zM22 95h1v1h-1zM116 96h1v1h-1zM115 98h1v1h-1zM30 99h1v1h-1zM114 100h1v1h-1zM113 101h1v1h-1zM24 102h1v1h-1zM32 102h1v1h-1zM112 102h1v1h-1zM111 103h1v1h-1zM109 104h2v1h-2zM34 105h1v1h-1zM108 105h1v1h-1zM106 106h2v1h-2zM26 107h1v1h-1zM104 107h2v1h-2zM103 108h2v1h-2zM37 109h1v1h-1zM102 109h2v1h-2zM38 110h1v1h-1zM100 110h3v1h-3zM39 111h1v1h-1zM99 111h3v1h-3zM40 112h1v1h-1zM99 112h2v1h-2zM41 113h1v1h-1zM98 113h2v1h-2zM43 114h1v1h-1zM97 114h2v1h-2zM30 115h1v1h-1zM44 115h1v1h-1zM96 115h2v1h-2zM46 116h1v1h-1zM95 116h3v1h-3zM48 117h1v1h-1zM94 117h3v1h-3zM50 118h1v1h-1zM94 118h2v1h-2zM52 119h1v1h-1zM92 119h3v1h-3zM54 120h2v1h-2zM91 120h2v1h-2zM34 121h1v1h-1zM57 121h2v1h-2zM89 121h2v1h-2zM60 122h2v1h-2zM86 122h3v1h-3zM63 123h3v1h-3zM82 123h3v1h-3zM68 124h13v1h-13zM31 133h2v1h-2zM35 133h1v1h-1zM30 134h2v1h-2zM37 134h1v1h-1zM29 135h2v1h-2zM39 135h1v1h-1zM29 136h1v1h-1zM29 137h1v1h-1zM29 138h1v1h-1zM29 139h1v1h-1zM30 140h1v1h-1zM30 141h1v1h-1zM51 141h1v1h-1zM31 142h1v1h-1zM31 143h1v1h-1zM31 144h2v1h-2zM75 144h1v1h-1zM30 145h3v1h-3zM63 145h1v1h-1zM78 145h1v1h-1zM31 146h2v1h-2zM69 146h1v1h-1zM77 146h1v1h-1z"/><path fill="#00ff7f" d="M29 22h4v1h-4zM28 23h1v1h-1zM31 23h1v1h-1zM26 24h1v1h-1zM31 24h1v1h-1zM31 25h1v1h-1zM30 26h1v1h-1zM22 27h1v1h-1zM21 28h1v1h-1zM29 28h1v1h-1zM20 29h1v1h-1zM19 30h1v1h-1zM28 30h1v1h-1zM18 31h1v1h-1zM59 31h11v1h-11zM17 32h1v1h-1zM27 32h1v1h-1zM55 32h2v1h-2zM70 32h2v1h-2zM27 33h1v1h-1zM53 33h1v1h-1zM72 33h1v1h-1zM27 34h1v1h-1zM51 34h1v1h-1zM70 34h2v1h-2zM27 35h1v1h-1zM49 35h1v1h-1zM68 35h1v1h-1zM27 36h1v1h-1zM47 36h1v1h-1zM66 36h1v1h-1zM27 37h1v1h-1zM46 37h1v1h-1zM63 37h1v1h-1zM8 38h1v1h-1zM27 38h1v1h-1zM61 38h1v1h-1zM8 39h3v1h-3zM28 39h2v1h-2zM43 39h1v1h-1zM30 40h2v1h-2zM42 40h1v1h-1zM32 41h1v1h-1zM57 41h1v1h-1zM33 42h1v1h-1zM33 43h1v1h-1zM40 43h1v1h-1zM33 44h1v1h-1zM54 45h1v1h-1zM32 46h1v1h-1zM38 46h1v1h-1zM53 47h1v1h-1zM31 48h1v1h-1zM37 48h1v1h-1zM53 48h1v1h-1zM36 50h1v1h-1zM35 52h1v1h-1zM52 52h1v1h-1zM34 54h1v1h-1zM51 54h1v1h-1zM33 56h1v1h-1zM49 59h1v1h-1zM25 60h1v1h-1zM30 62h1v1h-1zM24 63h1v1h-1zM48 63h1v1h-1zM29 64h1v1h-1zM48 64h1v1h-1zM23 66h1v1h-1zM28 66h1v1h-1zM47 67h1v1h-1zM22 70h1v1h-1zM46 70h1v1h-1zM45 72h1v1h-1zM25 73h1v1h-1zM21 74h1v1h-1zM44 74h1v1h-1zM21 75h1v1h-1zM43 75h1v1h-1zM43 76h1v1h-1zM58 76h4v1h-4zM42 77h1v1h-1zM56 77h2v1h-2zM62 77h1v1h-1zM42 78h1v1h-1zM53 78h3v1h-3zM41 79h1v1h-1zM52 79h1v1h-1zM41 80h1v1h-1zM51 80h1v1h-1zM41 81h2v1h-2zM49 81h2v1h-2zM109 81h2v1h-2zM42 82h1v1h-1zM47 82h2v1h-2zM107 82h1v1h-1zM112 82h1v1h-1zM42 83h6v1h-6zM105 83h1v1h-1zM114 83h1v1h-1zM44 84h2v1h-2zM99 84h3v1h-3zM115 85h1v1h-1zM25 87h1v1h-1zM116 87h1v1h-1zM116 88h1v1h-1zM116 89h1v1h-1zM21 91h1v1h-1zM116 92h1v1h-1zM27 93h1v1h-1zM116 93h1v1h-1zM116 94h1v1h-1zM28 95h1v1h-1zM116 95h1v1h-1zM29 97h1v1h-1zM115 97h1v1h-1zM114 98h1v1h-1zM23 99h1v1h-1zM114 99h1v1h-1zM31 100h1v1h-1zM113 100h1v1h-1zM112 101h1v1h-1zM111 102h1v1h-1zM33 103h1v1h-1zM109 103h2v1h-2zM108 104h1v1h-1zM25 105h1v1h-1zM106 105h2v1h-2zM35 106h1v1h-1zM104 106h2v1h-2zM102 107h2v1h-2zM101 108h2v1h-2zM99 109h3v1h-3zM98 110h2v1h-2zM97 111h2v1h-2zM41 112h1v1h-1zM96 112h3v1h-3zM42 113h1v1h-1zM95 113h3v1h-3zM44 114h1v1h-1zM94 114h3v1h-3zM45 115h2v1h-2zM93 115h3v1h-3zM47 116h1v1h-1zM92 116h3v1h-3zM31 117h1v1h-1zM49 117h2v1h-2zM91 117h3v1h-3zM51 118h2v1h-2zM91 118h3v1h-3zM53 119h2v1h-2zM90 119h2v1h-2zM56 120h2v1h-2zM88 120h3v1h-3zM59 121h2v1h-2zM86 121h3v1h-3zM62 122h3v1h-3zM83 122h3v1h-3zM66 123h7v1h-7zM76 123h6v1h-6zM30 132h4v1h-4zM45 132h1v1h-1zM28 133h3v1h-3zM36 133h1v1h-1zM27 134h3v1h-3zM27 135h2v1h-2zM49 135h1v1h-1zM27 136h2v1h-2zM41 136h1v1h-1zM27 137h2v1h-2zM43 137h1v1h-1zM28 138h1v1h-1zM45 138h1v1h-1zM54 138h1v1h-1zM28 139h1v1h-1zM28 140h2v1h-2zM49 140h1v1h-1zM29 141h1v1h-1zM63 141h1v1h-1zM29 142h2v1h-2zM67 142h1v1h-1zM28 143h3v1h-3zM71 143h1v1h-1zM28 144h3v1h-3zM29 145h1v1h-1zM76 146h1v1h-1z"/><path fill="#00ff78" d="M29 23h2v1h-2zM27 24h4v1h-4zM25 25h1v1h-1zM30 25h1v1h-1zM24 26h1v1h-1zM29 26h1v1h-1zM23 27h1v1h-1zM29 27h1v1h-1zM28 28h1v1h-1zM28 29h1v1h-1zM27 30h1v1h-1zM27 31h1v1h-1zM26 32h1v1h-1zM57 32h5v1h-5zM67 32h3v1h-3zM26 33h1v1h-1zM54 33h2v1h-2zM69 33h3v1h-3zM26 34h1v1h-1zM52 34h1v1h-1zM69 34h1v1h-1zM15 35h1v1h-1zM26 35h1v1h-1zM50 35h1v1h-1zM67 35h1v1h-1zM14 36h1v1h-1zM26 36h1v1h-1zM48 36h1v1h-1zM65 36h1v1h-1zM13 37h1v1h-1zM26 37h1v1h-1zM12 38h1v1h-1zM26 38h1v1h-1zM45 38h1v1h-1zM11 39h1v1h-1zM27 39h1v1h-1zM44 39h1v1h-1zM59 39h1v1h-1zM7 40h4v1h-4zM28 40h2v1h-2zM43 40h1v1h-1zM58 40h1v1h-1zM8 41h2v1h-2zM30 41h2v1h-2zM42 41h1v1h-1zM31 42h2v1h-2zM41 42h1v1h-1zM56 42h1v1h-1zM32 43h1v1h-1zM55 43h1v1h-1zM32 44h1v1h-1zM32 45h1v1h-1zM39 45h1v1h-1zM31 47h1v1h-1zM38 47h1v1h-1zM30 49h1v1h-1zM37 49h1v1h-1zM29 51h1v1h-1zM52 51h1v1h-1zM28 53h1v1h-1zM27 55h1v1h-1zM50 56h1v1h-1zM48 62h1v1h-1zM47 66h1v1h-1zM27 68h1v1h-1zM22 69h1v1h-1zM46 69h1v1h-1zM26 70h1v1h-1zM45 71h1v1h-1zM44 72h1v1h-1zM21 73h1v1h-1zM44 73h1v1h-1zM25 74h1v1h-1zM43 74h1v1h-1zM42 75h1v1h-1zM42 76h1v1h-1zM41 77h1v1h-1zM58 77h4v1h-4zM41 78h1v1h-1zM56 78h3v1h-3zM61 78h2v1h-2zM40 79h1v1h-1zM53 79h3v1h-3zM40 80h1v1h-1zM52 80h2v1h-2zM40 81h1v1h-1zM51 81h2v1h-2zM41 82h1v1h-1zM49 82h3v1h-3zM108 82h4v1h-4zM41 83h1v1h-1zM48 83h2v1h-2zM106 83h1v1h-1zM113 83h1v1h-1zM42 84h2v1h-2zM46 84h2v1h-2zM97 84h2v1h-2zM102 84h2v1h-2zM114 84h1v1h-1zM43 85h3v1h-3zM114 85h1v1h-1zM25 86h1v1h-1zM115 86h1v1h-1zM115 87h1v1h-1zM26 90h1v1h-1zM116 90h1v1h-1zM116 91h1v1h-1zM21 92h1v1h-1zM115 95h1v1h-1zM22 96h1v1h-1zM115 96h1v1h-1zM114 97h1v1h-1zM30 98h1v1h-1zM113 99h1v1h-1zM23 100h1v1h-1zM112 100h1v1h-1zM32 101h1v1h-1zM111 101h1v1h-1zM110 102h1v1h-1zM108 103h1v1h-1zM106 104h2v1h-2zM104 105h2v1h-2zM102 106h2v1h-2zM36 107h1v1h-1zM100 107h2v1h-2zM26 108h1v1h-1zM37 108h1v1h-1zM99 108h2v1h-2zM38 109h1v1h-1zM97 109h2v1h-2zM27 110h1v1h-1zM39 110h1v1h-1zM95 110h3v1h-3zM40 111h2v1h-2zM94 111h3v1h-3zM28 112h1v1h-1zM42 112h1v1h-1zM92 112h4v1h-4zM43 113h2v1h-2zM90 113h5v1h-5zM45 114h1v1h-1zM89 114h5v1h-5zM47 115h1v1h-1zM88 115h5v1h-5zM48 116h2v1h-2zM88 116h4v1h-4zM51 117h1v1h-1zM87 117h4v1h-4zM53 118h2v1h-2zM87 118h4v1h-4zM55 119h2v1h-2zM87 119h3v1h-3zM33 120h1v1h-1zM58 120h2v1h-2zM86 120h2v1h-2zM61 121h2v1h-2zM84 121h2v1h-2zM65 122h4v1h-4zM79 122h4v1h-4zM73 123h3v1h-3zM29 131h4v1h-4zM27 132h3v1h-3zM34 132h1v1h-1zM26 133h2v1h-2zM46 133h1v1h-1zM25 134h2v1h-2zM38 134h1v1h-1zM25 135h2v1h-2zM26 136h1v1h-1zM26 137h1v1h-1zM52 137h1v1h-1zM26 138h2v1h-2zM27 139h1v1h-1zM47 139h1v1h-1zM56 139h1v1h-1zM26 140h2v1h-2zM59 140h1v1h-1zM26 141h3v1h-3zM26 142h3v1h-3zM27 143h1v1h-1zM74 144h1v1h-1zM77 145h1v1h-1zM70 146h1v1h-1zM75 146h1v1h-1z"/><path fill="#00ff70" d="M26 25h4v1h-4zM25 26h4v1h-4zM24 27h1v1h-1zM28 27h1v1h-1zM22 28h1v1h-1zM21 29h1v1h-1zM27 29h1v1h-1zM20 30h1v1h-1zM19 31h1v1h-1zM26 31h1v1h-1zM18 32h1v1h-1zM62 32h5v1h-5zM17 33h1v1h-1zM25 33h1v1h-1zM56 33h3v1h-3zM68 33h1v1h-1zM16 34h1v1h-1zM25 34h1v1h-1zM53 34h1v1h-1zM68 34h1v1h-1zM25 35h1v1h-1zM51 35h1v1h-1zM66 35h1v1h-1zM25 36h1v1h-1zM49 36h1v1h-1zM64 36h1v1h-1zM25 37h1v1h-1zM47 37h1v1h-1zM62 37h1v1h-1zM25 38h1v1h-1zM46 38h1v1h-1zM60 38h1v1h-1zM12 39h1v1h-1zM26 39h1v1h-1zM11 40h1v1h-1zM26 40h2v1h-2zM6 41h2v1h-2zM10 41h1v1h-1zM28 41h2v1h-2zM7 42h3v1h-3zM30 42h1v1h-1zM31 43h1v1h-1zM41 43h1v1h-1zM31 44h1v1h-1zM40 44h1v1h-1zM31 46h1v1h-1zM39 46h1v1h-1zM53 46h1v1h-1zM30 48h1v1h-1zM52 50h1v1h-1zM36 51h1v1h-1zM35 53h1v1h-1zM51 53h1v1h-1zM34 55h1v1h-1zM26 57h1v1h-1zM33 57h1v1h-1zM49 58h1v1h-1zM25 59h1v1h-1zM32 59h1v1h-1zM31 61h1v1h-1zM48 61h1v1h-1zM24 62h1v1h-1zM30 63h1v1h-1zM47 64h1v1h-1zM23 65h1v1h-1zM29 65h1v1h-1zM47 65h1v1h-1zM28 67h1v1h-1zM46 67h1v1h-1zM22 68h1v1h-1zM46 68h1v1h-1zM27 69h1v1h-1zM45 70h1v1h-1zM26 71h1v1h-1zM44 71h1v1h-1zM43 73h1v1h-1zM42 74h1v1h-1zM25 75h1v1h-1zM41 75h1v1h-1zM41 76h1v1h-1zM40 77h1v1h-1zM40 78h1v1h-1zM59 78h2v1h-2zM56 79h7v1h-7zM20 80h1v1h-1zM54 80h2v1h-2zM20 81h1v1h-1zM53 81h1v1h-1zM20 82h1v1h-1zM40 82h1v1h-1zM52 82h1v1h-1zM20 83h1v1h-1zM40 83h1v1h-1zM50 83h2v1h-2zM107 83h1v1h-1zM112 83h1v1h-1zM20 84h1v1h-1zM40 84h2v1h-2zM48 84h3v1h-3zM104 84h2v1h-2zM113 84h1v1h-1zM20 85h1v1h-1zM25 85h1v1h-1zM41 85h2v1h-2zM46 85h3v1h-3zM98 85h4v1h-4zM42 86h5v1h-5zM114 86h1v1h-1zM115 88h1v1h-1zM26 89h1v1h-1zM115 89h1v1h-1zM115 90h1v1h-1zM115 91h1v1h-1zM27 92h1v1h-1zM115 92h1v1h-1zM21 93h1v1h-1zM115 93h1v1h-1zM28 94h1v1h-1zM115 94h1v1h-1zM29 96h1v1h-1zM114 96h1v1h-1zM22 97h1v1h-1zM113 98h1v1h-1zM31 99h1v1h-1zM112 99h1v1h-1zM111 100h1v1h-1zM110 101h1v1h-1zM108 102h2v1h-2zM24 103h1v1h-1zM106 103h2v1h-2zM34 104h1v1h-1zM104 104h2v1h-2zM35 105h1v1h-1zM102 105h2v1h-2zM25 106h1v1h-1zM36 106h1v1h-1zM100 106h2v1h-2zM37 107h1v1h-1zM98 107h2v1h-2zM38 108h1v1h-1zM95 108h4v1h-4zM39 109h1v1h-1zM93 109h4v1h-4zM40 110h2v1h-2zM90 110h5v1h-5zM42 111h1v1h-1zM89 111h5v1h-5zM43 112h2v1h-2zM87 112h5v1h-5zM45 113h1v1h-1zM87 113h3v1h-3zM29 114h1v1h-1zM46 114h2v1h-2zM86 114h3v1h-3zM48 115h2v1h-2zM86 115h2v1h-2zM50 116h2v1h-2zM85 116h3v1h-3zM52 117h3v1h-3zM85 117h2v1h-2zM55 118h2v1h-2zM85 118h2v1h-2zM57 119h3v1h-3zM84 119h3v1h-3zM60 120h3v1h-3zM83 120h3v1h-3zM63 121h4v1h-4zM79 121h5v1h-5zM69 122h10v1h-10zM37 125h1v1h-1zM38 126h1v1h-1zM39 127h1v1h-1zM40 128h1v1h-1zM41 129h1v1h-1zM27 130h5v1h-5zM24 131h5v1h-5zM33 131h1v1h-1zM23 132h4v1h-4zM35 132h1v1h-1zM23 133h3v1h-3zM24 134h1v1h-1zM47 134h1v1h-1zM24 135h1v1h-1zM40 135h1v1h-1zM24 136h2v1h-2zM50 136h1v1h-1zM24 137h2v1h-2zM24 138h2v1h-2zM23 139h4v1h-4zM24 140h2v1h-2zM25 141h1v1h-1zM62 141h1v1h-1zM54 142h1v1h-1zM66 142h1v1h-1zM70 143h1v1h-1zM60 144h1v1h-1zM64 145h1v1h-1zM71 146h4v1h-4z"/><path fill="#00ff69" d="M25 27h3v1h-3zM23 28h2v1h-2zM26 28h2v1h-2zM22 29h1v1h-1zM26 29h1v1h-1zM26 30h1v1h-1zM25 31h1v1h-1zM25 32h1v1h-1zM59 33h9v1h-9zM24 34h1v1h-1zM54 34h3v1h-3zM66 34h2v1h-2zM24 35h1v1h-1zM52 35h1v1h-1zM65 35h1v1h-1zM15 36h1v1h-1zM24 36h1v1h-1zM50 36h1v1h-1zM63 36h1v1h-1zM14 37h1v1h-1zM24 37h1v1h-1zM48 37h1v1h-1zM13 38h1v1h-1zM24 38h1v1h-1zM24 39h2v1h-2zM45 39h1v1h-1zM25 40h1v1h-1zM44 40h1v1h-1zM26 41h2v1h-2zM43 41h1v1h-1zM6 42h1v1h-1zM10 42h1v1h-1zM28 42h2v1h-2zM42 42h1v1h-1zM6 43h4v1h-4zM29 43h2v1h-2zM30 44h1v1h-1zM54 44h1v1h-1zM31 45h1v1h-1zM40 45h1v1h-1zM30 47h1v1h-1zM38 48h1v1h-1zM52 49h1v1h-1zM29 50h1v1h-1zM37 50h1v1h-1zM28 52h1v1h-1zM27 54h1v1h-1zM50 55h1v1h-1zM49 57h1v1h-1zM33 58h1v1h-1zM48 60h1v1h-1zM47 63h1v1h-1zM23 64h1v1h-1zM46 66h1v1h-1zM45 68h1v1h-1zM45 69h1v1h-1zM44 70h1v1h-1zM21 72h1v1h-1zM26 72h1v1h-1zM43 72h1v1h-1zM42 73h1v1h-1zM41 74h1v1h-1zM40 75h1v1h-1zM25 76h1v1h-1zM40 76h1v1h-1zM20 78h1v1h-1zM39 78h1v1h-1zM20 79h1v1h-1zM39 79h1v1h-1zM39 80h1v1h-1zM56 80h7v1h-7zM39 81h1v1h-1zM54 81h3v1h-3zM39 82h1v1h-1zM53 82h1v1h-1zM39 83h1v1h-1zM52 83h1v1h-1zM108 83h4v1h-4zM25 84h1v1h-1zM51 84h1v1h-1zM106 84h1v1h-1zM112 84h1v1h-1zM40 85h1v1h-1zM49 85h2v1h-2zM96 85h2v1h-2zM102 85h2v1h-2zM113 85h1v1h-1zM20 86h1v1h-1zM41 86h1v1h-1zM47 86h2v1h-2zM99 86h2v1h-2zM20 87h1v1h-1zM42 87h5v1h-5zM114 87h1v1h-1zM114 95h1v1h-1zM30 97h1v1h-1zM113 97h1v1h-1zM112 98h1v1h-1zM111 99h1v1h-1zM110 100h1v1h-1zM23 101h1v1h-1zM109 101h1v1h-1zM33 102h1v1h-1zM94 102h1v1h-1zM107 102h1v1h-1zM34 103h1v1h-1zM94 103h1v1h-1zM105 103h1v1h-1zM93 104h2v1h-2zM103 104h1v1h-1zM92 105h4v1h-4zM100 105h2v1h-2zM37 106h1v1h-1zM91 106h9v1h-9zM38 107h1v1h-1zM90 107h8v1h-8zM39 108h1v1h-1zM88 108h7v1h-7zM40 109h2v1h-2zM87 109h6v1h-6zM42 110h1v1h-1zM87 110h3v1h-3zM43 111h2v1h-2zM86 111h3v1h-3zM45 112h1v1h-1zM86 112h1v1h-1zM46 113h3v1h-3zM85 113h2v1h-2zM48 114h3v1h-3zM84 114h2v1h-2zM50 115h3v1h-3zM84 115h2v1h-2zM30 116h1v1h-1zM52 116h3v1h-3zM83 116h2v1h-2zM55 117h2v1h-2zM83 117h2v1h-2zM57 118h2v1h-2zM82 118h3v1h-3zM32 119h1v1h-1zM60 119h2v1h-2zM81 119h3v1h-3zM63 120h3v1h-3zM78 120h5v1h-5zM67 121h12v1h-12zM36 124h1v1h-1zM23 129h8v1h-8zM22 130h5v1h-5zM32 130h1v1h-1zM42 130h1v1h-1zM22 131h2v1h-2zM34 131h1v1h-1zM22 132h1v1h-1zM22 133h1v1h-1zM37 133h1v1h-1zM22 134h2v1h-2zM22 135h2v1h-2zM21 136h3v1h-3zM42 136h1v1h-1zM21 137h3v1h-3zM22 138h2v1h-2zM57 143h1v1h-1zM76 145h1v1h-1z"/><path fill="#00ff62" d="M25 28h1v1h-1zM23 29h3v1h-3zM21 30h5v1h-5zM20 31h2v1h-2zM24 31h1v1h-1zM19 32h1v1h-1zM24 32h1v1h-1zM18 33h1v1h-1zM24 33h1v1h-1zM17 34h1v1h-1zM23 34h1v1h-1zM57 34h3v1h-3zM65 34h1v1h-1zM16 35h1v1h-1zM23 35h1v1h-1zM53 35h2v1h-2zM64 35h1v1h-1zM23 36h1v1h-1zM51 36h1v1h-1zM23 37h1v1h-1zM49 37h1v1h-1zM61 37h1v1h-1zM23 38h1v1h-1zM47 38h1v1h-1zM13 39h1v1h-1zM23 39h1v1h-1zM46 39h1v1h-1zM12 40h1v1h-1zM24 40h1v1h-1zM57 40h1v1h-1zM11 41h1v1h-1zM25 41h1v1h-1zM56 41h1v1h-1zM26 42h2v1h-2zM5 43h1v1h-1zM28 43h1v1h-1zM5 44h4v1h-4zM29 44h1v1h-1zM41 44h1v1h-1zM6 45h2v1h-2zM30 45h1v1h-1zM53 45h1v1h-1zM30 46h1v1h-1zM39 47h1v1h-1zM52 48h1v1h-1zM29 49h1v1h-1zM28 51h1v1h-1zM36 52h1v1h-1zM51 52h1v1h-1zM35 54h1v1h-1zM26 56h1v1h-1zM34 56h1v1h-1zM48 59h1v1h-1zM32 60h1v1h-1zM24 61h1v1h-1zM31 62h1v1h-1zM47 62h1v1h-1zM30 64h1v1h-1zM46 65h1v1h-1zM29 66h1v1h-1zM22 67h1v1h-1zM45 67h1v1h-1zM28 68h1v1h-1zM44 69h1v1h-1zM27 70h1v1h-1zM21 71h1v1h-1zM43 71h1v1h-1zM42 72h1v1h-1zM41 73h1v1h-1zM40 74h1v1h-1zM20 76h1v1h-1zM39 76h1v1h-1zM20 77h1v1h-1zM25 77h1v1h-1zM39 77h1v1h-1zM57 81h6v1h-6zM54 82h6v1h-6zM25 83h1v1h-1zM53 83h2v1h-2zM39 84h1v1h-1zM52 84h2v1h-2zM107 84h1v1h-1zM111 84h1v1h-1zM39 85h1v1h-1zM51 85h2v1h-2zM104 85h2v1h-2zM112 85h1v1h-1zM40 86h1v1h-1zM49 86h3v1h-3zM96 86h3v1h-3zM101 86h1v1h-1zM113 86h1v1h-1zM40 87h2v1h-2zM47 87h3v1h-3zM20 88h1v1h-1zM26 88h1v1h-1zM41 88h7v1h-7zM114 88h1v1h-1zM114 89h1v1h-1zM114 90h1v1h-1zM27 91h1v1h-1zM114 91h1v1h-1zM114 92h1v1h-1zM28 93h1v1h-1zM114 93h1v1h-1zM21 94h1v1h-1zM114 94h1v1h-1zM29 95h1v1h-1zM113 96h1v1h-1zM93 97h2v1h-2zM112 97h1v1h-1zM22 98h1v1h-1zM91 98h6v1h-6zM91 99h7v1h-7zM32 100h1v1h-1zM90 100h8v1h-8zM109 100h1v1h-1zM33 101h1v1h-1zM90 101h8v1h-8zM108 101h1v1h-1zM90 102h4v1h-4zM95 102h3v1h-3zM106 102h1v1h-1zM89 103h5v1h-5zM95 103h3v1h-3zM104 103h1v1h-1zM24 104h1v1h-1zM35 104h1v1h-1zM88 104h5v1h-5zM95 104h8v1h-8zM36 105h2v1h-2zM87 105h5v1h-5zM96 105h4v1h-4zM38 106h1v1h-1zM87 106h4v1h-4zM39 107h2v1h-2zM86 107h4v1h-4zM40 108h2v1h-2zM85 108h3v1h-3zM26 109h1v1h-1zM42 109h1v1h-1zM85 109h2v1h-2zM43 110h2v1h-2zM85 110h2v1h-2zM27 111h1v1h-1zM45 111h3v1h-3zM84 111h2v1h-2zM46 112h4v1h-4zM84 112h2v1h-2zM49 113h3v1h-3zM83 113h2v1h-2zM51 114h3v1h-3zM83 114h1v1h-1zM53 115h3v1h-3zM82 115h2v1h-2zM55 116h3v1h-3zM82 116h1v1h-1zM57 117h2v1h-2zM81 117h2v1h-2zM59 118h3v1h-3zM79 118h3v1h-3zM62 119h3v1h-3zM75 119h6v1h-6zM66 120h12v1h-12zM35 123h1v1h-1zM23 127h2v1h-2zM20 128h10v1h-10zM19 129h4v1h-4zM31 129h1v1h-1zM19 130h3v1h-3zM33 130h1v1h-1zM19 131h3v1h-3zM43 131h1v1h-1zM20 132h2v1h-2zM36 132h1v1h-1zM19 133h3v1h-3zM18 134h4v1h-4zM39 134h1v1h-1zM19 135h3v1h-3zM48 135h1v1h-1zM20 136h1v1h-1zM44 137h1v1h-1zM53 138h1v1h-1zM58 140h1v1h-1zM52 141h1v1h-1zM61 141h1v1h-1zM65 142h1v1h-1zM69 143h1v1h-1zM73 144h1v1h-1z"/><path fill="#00ff5b" d="M22 31h2v1h-2zM20 32h4v1h-4zM19 33h2v1h-2zM22 33h2v1h-2zM18 34h1v1h-1zM22 34h1v1h-1zM60 34h5v1h-5zM17 35h1v1h-1zM22 35h1v1h-1zM55 35h2v1h-2zM63 35h1v1h-1zM16 36h1v1h-1zM22 36h1v1h-1zM52 36h1v1h-1zM62 36h1v1h-1zM15 37h1v1h-1zM22 37h1v1h-1zM50 37h1v1h-1zM14 38h1v1h-1zM21 38h2v1h-2zM48 38h1v1h-1zM59 38h1v1h-1zM21 39h2v1h-2zM58 39h1v1h-1zM13 40h1v1h-1zM22 40h2v1h-2zM45 40h1v1h-1zM12 41h1v1h-1zM23 41h2v1h-2zM44 41h1v1h-1zM11 42h1v1h-1zM24 42h2v1h-2zM43 42h1v1h-1zM55 42h1v1h-1zM10 43h1v1h-1zM26 43h2v1h-2zM42 43h1v1h-1zM54 43h1v1h-1zM9 44h1v1h-1zM28 44h1v1h-1zM4 45h2v1h-2zM8 45h2v1h-2zM29 45h1v1h-1zM5 46h3v1h-3zM29 46h1v1h-1zM40 46h1v1h-1zM29 47h1v1h-1zM52 47h1v1h-1zM29 48h1v1h-1zM38 49h1v1h-1zM37 51h1v1h-1zM51 51h1v1h-1zM27 53h1v1h-1zM36 53h1v1h-1zM50 54h1v1h-1zM35 55h1v1h-1zM49 56h1v1h-1zM34 57h1v1h-1zM25 58h1v1h-1zM33 59h1v1h-1zM32 61h1v1h-1zM47 61h1v1h-1zM23 63h1v1h-1zM31 63h1v1h-1zM46 64h1v1h-1zM45 66h1v1h-1zM44 68h1v1h-1zM21 70h1v1h-1zM43 70h1v1h-1zM27 71h1v1h-1zM42 71h1v1h-1zM41 72h1v1h-1zM26 73h1v1h-1zM40 73h1v1h-1zM20 75h1v1h-1zM39 75h1v1h-1zM25 78h1v1h-1zM38 78h1v1h-1zM25 79h1v1h-1zM38 79h1v1h-1zM25 80h1v1h-1zM38 80h1v1h-1zM25 81h1v1h-1zM38 81h1v1h-1zM25 82h1v1h-1zM38 82h1v1h-1zM60 82h3v1h-3zM38 83h1v1h-1zM55 83h8v1h-8zM54 84h4v1h-4zM108 84h3v1h-3zM53 85h2v1h-2zM106 85h1v1h-1zM39 86h1v1h-1zM52 86h2v1h-2zM102 86h2v1h-2zM26 87h1v1h-1zM50 87h3v1h-3zM96 87h5v1h-5zM113 87h1v1h-1zM40 88h1v1h-1zM48 88h4v1h-4zM98 88h2v1h-2zM113 88h1v1h-1zM20 89h1v1h-1zM41 89h8v1h-8zM20 90h1v1h-1zM93 92h2v1h-2zM92 93h4v1h-4zM90 94h6v1h-6zM113 94h1v1h-1zM21 95h1v1h-1zM88 95h9v1h-9zM113 95h1v1h-1zM30 96h1v1h-1zM86 96h11v1h-11zM112 96h1v1h-1zM85 97h8v1h-8zM95 97h3v1h-3zM31 98h1v1h-1zM85 98h6v1h-6zM97 98h2v1h-2zM111 98h1v1h-1zM86 99h5v1h-5zM98 99h1v1h-1zM110 99h1v1h-1zM86 100h4v1h-4zM98 100h1v1h-1zM108 100h1v1h-1zM86 101h4v1h-4zM98 101h1v1h-1zM107 101h1v1h-1zM34 102h1v1h-1zM85 102h5v1h-5zM98 102h2v1h-2zM105 102h1v1h-1zM35 103h2v1h-2zM85 103h4v1h-4zM98 103h6v1h-6zM36 104h2v1h-2zM85 104h3v1h-3zM38 105h2v1h-2zM84 105h3v1h-3zM39 106h2v1h-2zM84 106h3v1h-3zM25 107h1v1h-1zM41 107h2v1h-2zM84 107h2v1h-2zM42 108h3v1h-3zM84 108h1v1h-1zM43 109h5v1h-5zM83 109h2v1h-2zM45 110h6v1h-6zM83 110h2v1h-2zM48 111h5v1h-5zM83 111h1v1h-1zM50 112h5v1h-5zM83 112h1v1h-1zM28 113h1v1h-1zM52 113h4v1h-4zM82 113h1v1h-1zM54 114h3v1h-3zM81 114h2v1h-2zM29 115h1v1h-1zM56 115h3v1h-3zM80 115h2v1h-2zM58 116h2v1h-2zM78 116h4v1h-4zM59 117h3v1h-3zM76 117h5v1h-5zM31 118h1v1h-1zM62 118h3v1h-3zM72 118h7v1h-7zM65 119h10v1h-10zM34 122h1v1h-1zM18 125h4v1h-4zM18 126h9v1h-9zM17 127h6v1h-6zM25 127h5v1h-5zM17 128h3v1h-3zM30 128h1v1h-1zM17 129h2v1h-2zM32 129h1v1h-1zM17 130h2v1h-2zM16 131h3v1h-3zM35 131h1v1h-1zM16 132h4v1h-4zM44 132h1v1h-1zM17 133h2v1h-2zM38 133h1v1h-1zM41 135h1v1h-1zM51 137h1v1h-1zM46 138h1v1h-1zM48 139h1v1h-1zM55 139h1v1h-1zM50 140h1v1h-1zM75 145h1v1h-1z"/><path fill="#00ff53" d="M21 33h1v1h-1zM19 34h3v1h-3zM18 35h4v1h-4zM57 35h3v1h-3zM62 35h1v1h-1zM17 36h2v1h-2zM20 36h2v1h-2zM53 36h2v1h-2zM16 37h1v1h-1zM20 37h2v1h-2zM51 37h1v1h-1zM60 37h1v1h-1zM15 38h1v1h-1zM20 38h1v1h-1zM49 38h1v1h-1zM14 39h1v1h-1zM20 39h1v1h-1zM47 39h1v1h-1zM20 40h2v1h-2zM46 40h1v1h-1zM13 41h1v1h-1zM21 41h2v1h-2zM12 42h1v1h-1zM22 42h2v1h-2zM11 43h1v1h-1zM24 43h2v1h-2zM10 44h1v1h-1zM27 44h1v1h-1zM42 44h1v1h-1zM28 45h1v1h-1zM41 45h1v1h-1zM4 46h1v1h-1zM8 46h2v1h-2zM28 46h1v1h-1zM4 47h5v1h-5zM5 48h3v1h-3zM39 48h1v1h-1zM28 50h1v1h-1zM38 50h1v1h-1zM51 50h1v1h-1zM50 53h1v1h-1zM26 55h1v1h-1zM48 58h1v1h-1zM24 60h1v1h-1zM47 60h1v1h-1zM46 63h1v1h-1zM30 65h1v1h-1zM45 65h1v1h-1zM22 66h1v1h-1zM29 67h1v1h-1zM44 67h1v1h-1zM28 69h1v1h-1zM43 69h1v1h-1zM42 70h1v1h-1zM41 71h1v1h-1zM40 72h1v1h-1zM39 73h1v1h-1zM20 74h1v1h-1zM26 74h1v1h-1zM39 74h1v1h-1zM38 76h1v1h-1zM38 77h1v1h-1zM38 84h1v1h-1zM58 84h5v1h-5zM38 85h1v1h-1zM55 85h8v1h-8zM107 85h1v1h-1zM111 85h1v1h-1zM38 86h1v1h-1zM54 86h6v1h-6zM104 86h1v1h-1zM112 86h1v1h-1zM39 87h1v1h-1zM53 87h3v1h-3zM101 87h2v1h-2zM39 88h1v1h-1zM52 88h3v1h-3zM95 88h3v1h-3zM100 88h1v1h-1zM40 89h1v1h-1zM49 89h5v1h-5zM95 89h5v1h-5zM113 89h1v1h-1zM27 90h1v1h-1zM41 90h11v1h-11zM94 90h5v1h-5zM113 90h1v1h-1zM20 91h1v1h-1zM42 91h5v1h-5zM94 91h4v1h-4zM113 91h1v1h-1zM28 92h1v1h-1zM95 92h3v1h-3zM113 92h1v1h-1zM96 93h2v1h-2zM113 93h1v1h-1zM29 94h1v1h-1zM96 94h2v1h-2zM97 95h1v1h-1zM112 95h1v1h-1zM97 96h2v1h-2zM82 97h3v1h-3zM98 97h1v1h-1zM111 97h1v1h-1zM82 98h3v1h-3zM99 98h1v1h-1zM110 98h1v1h-1zM22 99h1v1h-1zM32 99h1v1h-1zM82 99h4v1h-4zM99 99h1v1h-1zM109 99h1v1h-1zM33 100h1v1h-1zM82 100h4v1h-4zM99 100h1v1h-1zM107 100h1v1h-1zM34 101h2v1h-2zM82 101h4v1h-4zM99 101h2v1h-2zM106 101h1v1h-1zM23 102h1v1h-1zM35 102h2v1h-2zM82 102h3v1h-3zM100 102h5v1h-5zM37 103h2v1h-2zM82 103h3v1h-3zM38 104h2v1h-2zM82 104h3v1h-3zM24 105h1v1h-1zM40 105h2v1h-2zM82 105h2v1h-2zM41 106h4v1h-4zM82 106h2v1h-2zM43 107h9v1h-9zM82 107h2v1h-2zM45 108h10v1h-10zM82 108h2v1h-2zM48 109h8v1h-8zM82 109h1v1h-1zM51 110h6v1h-6zM81 110h2v1h-2zM53 111h5v1h-5zM81 111h2v1h-2zM55 112h3v1h-3zM81 112h2v1h-2zM56 113h3v1h-3zM80 113h2v1h-2zM57 114h4v1h-4zM75 114h6v1h-6zM59 115h3v1h-3zM73 115h7v1h-7zM60 116h4v1h-4zM71 116h7v1h-7zM62 117h14v1h-14zM65 118h7v1h-7zM16 123h5v1h-5zM15 124h10v1h-10zM15 125h3v1h-3zM22 125h5v1h-5zM15 126h3v1h-3zM27 126h2v1h-2zM14 127h3v1h-3zM30 127h1v1h-1zM13 128h4v1h-4zM31 128h1v1h-1zM14 129h3v1h-3zM14 130h3v1h-3zM34 130h1v1h-1zM15 131h1v1h-1zM45 133h1v1h-1zM49 136h1v1h-1zM64 142h1v1h-1zM72 144h1v1h-1zM65 145h1v1h-1z"/><path fill="#00ff4c" d="M60 35h2v1h-2zM19 36h1v1h-1zM55 36h2v1h-2zM60 36h2v1h-2zM17 37h3v1h-3zM52 37h2v1h-2zM16 38h4v1h-4zM50 38h1v1h-1zM15 39h2v1h-2zM18 39h2v1h-2zM48 39h1v1h-1zM57 39h1v1h-1zM14 40h2v1h-2zM19 40h1v1h-1zM56 40h1v1h-1zM14 41h1v1h-1zM19 41h2v1h-2zM45 41h1v1h-1zM55 41h1v1h-1zM13 42h1v1h-1zM19 42h3v1h-3zM44 42h1v1h-1zM12 43h1v1h-1zM21 43h3v1h-3zM43 43h1v1h-1zM11 44h1v1h-1zM23 44h4v1h-4zM53 44h1v1h-1zM10 45h1v1h-1zM26 45h2v1h-2zM10 46h1v1h-1zM27 46h1v1h-1zM52 46h1v1h-1zM9 47h1v1h-1zM28 47h1v1h-1zM40 47h1v1h-1zM3 48h2v1h-2zM8 48h1v1h-1zM28 48h1v1h-1zM51 48h1v1h-1zM3 49h5v1h-5zM28 49h1v1h-1zM39 49h1v1h-1zM51 49h1v1h-1zM6 50h1v1h-1zM27 52h1v1h-1zM37 52h1v1h-1zM36 54h1v1h-1zM49 55h1v1h-1zM35 56h1v1h-1zM25 57h1v1h-1zM34 58h1v1h-1zM33 60h1v1h-1zM23 62h1v1h-1zM32 62h1v1h-1zM46 62h1v1h-1zM31 64h1v1h-1zM22 65h1v1h-1zM30 66h1v1h-1zM43 68h1v1h-1zM21 69h1v1h-1zM42 69h1v1h-1zM28 70h1v1h-1zM41 70h1v1h-1zM40 71h1v1h-1zM27 72h1v1h-1zM39 72h1v1h-1zM20 73h1v1h-1zM38 74h1v1h-1zM26 75h1v1h-1zM38 75h1v1h-1zM37 78h1v1h-1zM37 79h1v1h-1zM37 80h1v1h-1zM37 81h1v1h-1zM37 82h1v1h-1zM37 83h1v1h-1zM37 84h1v1h-1zM108 85h3v1h-3zM26 86h1v1h-1zM60 86h4v1h-4zM105 86h2v1h-2zM111 86h1v1h-1zM38 87h1v1h-1zM56 87h8v1h-8zM103 87h1v1h-1zM112 87h1v1h-1zM38 88h1v1h-1zM55 88h10v1h-10zM101 88h1v1h-1zM112 88h1v1h-1zM27 89h1v1h-1zM39 89h1v1h-1zM54 89h11v1h-11zM100 89h1v1h-1zM39 90h2v1h-2zM52 90h14v1h-14zM99 90h1v1h-1zM40 91h2v1h-2zM47 91h19v1h-19zM98 91h1v1h-1zM20 92h1v1h-1zM41 92h26v1h-26zM98 92h1v1h-1zM51 93h17v1h-17zM98 93h1v1h-1zM53 94h15v1h-15zM98 94h1v1h-1zM112 94h1v1h-1zM30 95h1v1h-1zM53 95h14v1h-14zM98 95h1v1h-1zM21 96h1v1h-1zM54 96h12v1h-12zM99 96h1v1h-1zM111 96h1v1h-1zM31 97h1v1h-1zM54 97h12v1h-12zM76 97h6v1h-6zM99 97h1v1h-1zM110 97h1v1h-1zM32 98h1v1h-1zM54 98h11v1h-11zM76 98h6v1h-6zM100 98h1v1h-1zM109 98h1v1h-1zM33 99h1v1h-1zM54 99h10v1h-10zM76 99h6v1h-6zM100 99h1v1h-1zM108 99h1v1h-1zM34 100h2v1h-2zM54 100h9v1h-9zM76 100h6v1h-6zM100 100h1v1h-1zM36 101h2v1h-2zM54 101h8v1h-8zM75 101h7v1h-7zM101 101h1v1h-1zM104 101h2v1h-2zM37 102h3v1h-3zM53 102h9v1h-9zM75 102h7v1h-7zM39 103h4v1h-4zM53 103h8v1h-8zM75 103h7v1h-7zM40 104h8v1h-8zM49 104h11v1h-11zM75 104h7v1h-7zM42 105h18v1h-18zM74 105h8v1h-8zM45 106h15v1h-15zM74 106h8v1h-8zM52 107h8v1h-8zM74 107h8v1h-8zM55 108h5v1h-5zM74 108h8v1h-8zM56 109h4v1h-4zM73 109h9v1h-9zM57 110h4v1h-4zM73 110h8v1h-8zM58 111h4v1h-4zM73 111h8v1h-8zM58 112h4v1h-4zM72 112h9v1h-9zM59 113h5v1h-5zM71 113h9v1h-9zM61 114h5v1h-5zM68 114h7v1h-7zM62 115h11v1h-11zM64 116h7v1h-7zM14 120h4v1h-4zM13 121h8v1h-8zM33 121h1v1h-1zM13 122h10v1h-10zM12 123h4v1h-4zM21 123h5v1h-5zM11 124h4v1h-4zM25 124h2v1h-2zM11 125h4v1h-4zM27 125h2v1h-2zM11 126h4v1h-4zM29 126h1v1h-1zM12 127h2v1h-2zM32 128h1v1h-1zM33 129h1v1h-1zM37 132h1v1h-1zM40 134h1v1h-1zM46 134h1v1h-1zM43 136h1v1h-1zM57 140h1v1h-1zM60 141h1v1h-1zM55 142h1v1h-1zM68 143h1v1h-1zM61 144h1v1h-1zM74 145h1v1h-1z"/><path fill="#00ff45" d="M57 36h3v1h-3zM54 37h1v1h-1zM59 37h1v1h-1zM51 38h1v1h-1zM58 38h1v1h-1zM17 39h1v1h-1zM49 39h1v1h-1zM16 40h3v1h-3zM47 40h1v1h-1zM15 41h4v1h-4zM46 41h1v1h-1zM14 42h5v1h-5zM45 42h1v1h-1zM54 42h1v1h-1zM13 43h2v1h-2zM17 43h4v1h-4zM12 44h2v1h-2zM18 44h5v1h-5zM43 44h1v1h-1zM11 45h2v1h-2zM23 45h3v1h-3zM42 45h1v1h-1zM52 45h1v1h-1zM11 46h1v1h-1zM26 46h1v1h-1zM41 46h1v1h-1zM10 47h1v1h-1zM27 47h1v1h-1zM9 48h1v1h-1zM27 48h1v1h-1zM40 48h1v1h-1zM8 49h1v1h-1zM27 49h1v1h-1zM2 50h4v1h-4zM7 50h2v1h-2zM27 50h1v1h-1zM4 51h4v1h-4zM27 51h1v1h-1zM38 51h1v1h-1zM5 52h2v1h-2zM50 52h1v1h-1zM37 53h1v1h-1zM26 54h1v1h-1zM36 55h1v1h-1zM35 57h1v1h-1zM48 57h1v1h-1zM24 59h1v1h-1zM34 59h1v1h-1zM47 59h1v1h-1zM33 61h1v1h-1zM46 61h1v1h-1zM32 63h1v1h-1zM45 64h1v1h-1zM31 65h1v1h-1zM44 66h1v1h-1zM43 67h1v1h-1zM21 68h1v1h-1zM29 68h1v1h-1zM42 68h1v1h-1zM41 69h1v1h-1zM40 70h1v1h-1zM39 71h1v1h-1zM20 72h1v1h-1zM27 73h1v1h-1zM38 73h1v1h-1zM26 76h1v1h-1zM37 76h1v1h-1zM37 77h1v1h-1zM19 79h1v1h-1zM19 80h1v1h-1zM19 81h1v1h-1zM19 82h1v1h-1zM19 83h1v1h-1zM19 84h1v1h-1zM19 85h1v1h-1zM26 85h1v1h-1zM37 85h1v1h-1zM37 86h1v1h-1zM107 86h1v1h-1zM110 86h1v1h-1zM37 87h1v1h-1zM104 87h1v1h-1zM111 87h1v1h-1zM27 88h1v1h-1zM102 88h1v1h-1zM38 89h1v1h-1zM101 89h1v1h-1zM112 89h1v1h-1zM38 90h1v1h-1zM100 90h1v1h-1zM112 90h1v1h-1zM28 91h1v1h-1zM39 91h1v1h-1zM99 91h1v1h-1zM112 91h1v1h-1zM39 92h2v1h-2zM99 92h1v1h-1zM112 92h1v1h-1zM29 93h1v1h-1zM40 93h11v1h-11zM99 93h1v1h-1zM112 93h1v1h-1zM41 94h12v1h-12zM68 94h2v1h-2zM99 94h1v1h-1zM49 95h4v1h-4zM67 95h3v1h-3zM99 95h1v1h-1zM111 95h1v1h-1zM31 96h1v1h-1zM50 96h4v1h-4zM66 96h4v1h-4zM100 96h1v1h-1zM21 97h1v1h-1zM50 97h4v1h-4zM66 97h3v1h-3zM74 97h2v1h-2zM100 97h1v1h-1zM33 98h2v1h-2zM51 98h3v1h-3zM65 98h3v1h-3zM74 98h2v1h-2zM34 99h6v1h-6zM51 99h3v1h-3zM64 99h4v1h-4zM74 99h2v1h-2zM101 99h1v1h-1zM107 99h1v1h-1zM22 100h1v1h-1zM36 100h7v1h-7zM50 100h4v1h-4zM63 100h4v1h-4zM73 100h3v1h-3zM101 100h1v1h-1zM106 100h1v1h-1zM38 101h8v1h-8zM47 101h7v1h-7zM62 101h4v1h-4zM73 101h2v1h-2zM102 101h2v1h-2zM40 102h13v1h-13zM62 102h4v1h-4zM73 102h2v1h-2zM23 103h1v1h-1zM43 103h10v1h-10zM61 103h4v1h-4zM72 103h3v1h-3zM48 104h1v1h-1zM60 104h5v1h-5zM72 104h3v1h-3zM60 105h4v1h-4zM72 105h2v1h-2zM60 106h4v1h-4zM71 106h3v1h-3zM60 107h3v1h-3zM71 107h3v1h-3zM25 108h1v1h-1zM60 108h4v1h-4zM71 108h3v1h-3zM60 109h4v1h-4zM70 109h3v1h-3zM26 110h1v1h-1zM61 110h4v1h-4zM69 110h4v1h-4zM62 111h11v1h-11zM27 112h1v1h-1zM62 112h10v1h-10zM64 113h7v1h-7zM66 114h2v1h-2zM12 117h5v1h-5zM30 117h1v1h-1zM11 118h8v1h-8zM11 119h10v1h-10zM10 120h4v1h-4zM18 120h5v1h-5zM8 121h5v1h-5zM21 121h3v1h-3zM9 122h4v1h-4zM23 122h3v1h-3zM9 123h3v1h-3zM26 123h1v1h-1zM10 124h1v1h-1zM27 124h1v1h-1zM30 126h1v1h-1zM31 127h1v1h-1zM36 131h1v1h-1zM45 137h1v1h-1zM58 143h1v1h-1zM71 144h1v1h-1zM66 145h1v1h-1z"/><path fill="#00ff3e" d="M55 37h4v1h-4zM52 38h2v1h-2zM50 39h1v1h-1zM48 40h1v1h-1zM47 41h1v1h-1zM15 43h2v1h-2zM44 43h1v1h-1zM53 43h1v1h-1zM14 44h4v1h-4zM13 45h10v1h-10zM12 46h2v1h-2zM24 46h2v1h-2zM11 47h2v1h-2zM26 47h1v1h-1zM41 47h1v1h-1zM51 47h1v1h-1zM10 48h2v1h-2zM26 48h1v1h-1zM9 49h2v1h-2zM9 50h1v1h-1zM39 50h1v1h-1zM50 50h1v1h-1zM2 51h2v1h-2zM8 51h1v1h-1zM50 51h1v1h-1zM2 52h3v1h-3zM7 52h1v1h-1zM38 52h1v1h-1zM4 53h3v1h-3zM26 53h1v1h-1zM5 54h1v1h-1zM37 54h1v1h-1zM49 54h1v1h-1zM25 56h1v1h-1zM36 56h1v1h-1zM48 56h1v1h-1zM35 58h1v1h-1zM34 60h1v1h-1zM23 61h1v1h-1zM33 62h1v1h-1zM45 63h1v1h-1zM22 64h1v1h-1zM32 64h1v1h-1zM44 65h1v1h-1zM43 66h1v1h-1zM21 67h1v1h-1zM30 67h1v1h-1zM42 67h1v1h-1zM41 68h1v1h-1zM29 69h1v1h-1zM40 69h1v1h-1zM39 70h1v1h-1zM20 71h1v1h-1zM28 71h1v1h-1zM38 72h1v1h-1zM37 74h1v1h-1zM37 75h1v1h-1zM19 77h1v1h-1zM26 77h1v1h-1zM19 78h1v1h-1zM26 78h1v1h-1zM36 79h1v1h-1zM36 80h1v1h-1zM36 81h1v1h-1zM36 82h1v1h-1zM26 83h1v1h-1zM36 83h1v1h-1zM26 84h1v1h-1zM36 84h1v1h-1zM36 85h1v1h-1zM19 86h1v1h-1zM108 86h2v1h-2zM19 87h1v1h-1zM105 87h1v1h-1zM37 88h1v1h-1zM103 88h1v1h-1zM111 88h1v1h-1zM37 89h1v1h-1zM28 90h1v1h-1zM37 90h1v1h-1zM101 90h1v1h-1zM37 91h2v1h-2zM100 91h1v1h-1zM29 92h1v1h-1zM38 92h1v1h-1zM100 92h1v1h-1zM20 93h1v1h-1zM38 93h2v1h-2zM100 93h1v1h-1zM30 94h1v1h-1zM38 94h3v1h-3zM100 94h1v1h-1zM111 94h1v1h-1zM38 95h11v1h-11zM70 95h1v1h-1zM100 95h1v1h-1zM32 96h1v1h-1zM37 96h13v1h-13zM70 96h4v1h-4zM101 96h1v1h-1zM110 96h1v1h-1zM32 97h18v1h-18zM69 97h5v1h-5zM101 97h1v1h-1zM109 97h1v1h-1zM35 98h16v1h-16zM68 98h6v1h-6zM101 98h1v1h-1zM108 98h1v1h-1zM40 99h11v1h-11zM68 99h6v1h-6zM102 99h1v1h-1zM43 100h7v1h-7zM67 100h6v1h-6zM102 100h4v1h-4zM46 101h1v1h-1zM66 101h7v1h-7zM66 102h7v1h-7zM65 103h7v1h-7zM65 104h7v1h-7zM64 105h8v1h-8zM24 106h1v1h-1zM64 106h7v1h-7zM63 107h8v1h-8zM64 108h7v1h-7zM64 109h6v1h-6zM65 110h4v1h-4zM11 114h6v1h-6zM28 114h1v1h-1zM9 115h9v1h-9zM8 116h11v1h-11zM6 117h6v1h-6zM17 117h4v1h-4zM6 118h5v1h-5zM19 118h3v1h-3zM7 119h4v1h-4zM21 119h2v1h-2zM8 120h2v1h-2zM23 120h1v1h-1zM32 120h1v1h-1zM24 121h2v1h-2zM26 122h1v1h-1zM27 123h1v1h-1zM28 124h1v1h-1zM29 125h1v1h-1zM37 126h1v1h-1zM38 127h1v1h-1zM39 128h1v1h-1zM40 129h1v1h-1zM35 130h1v1h-1zM39 133h1v1h-1zM42 135h1v1h-1zM47 135h1v1h-1zM47 138h1v1h-1zM52 138h1v1h-1zM49 139h1v1h-1zM54 139h1v1h-1zM51 140h1v1h-1zM53 141h1v1h-1zM63 142h1v1h-1zM67 143h1v1h-1zM67 145h1v1h-1zM73 145h1v1h-1z"/><path fill="#00ff36" d="M54 38h1v1h-1zM56 38h2v1h-2zM51 39h1v1h-1zM56 39h1v1h-1zM49 40h1v1h-1zM55 40h1v1h-1zM48 41h1v1h-1zM54 41h1v1h-1zM46 42h1v1h-1zM45 43h1v1h-1zM44 44h1v1h-1zM52 44h1v1h-1zM43 45h1v1h-1zM14 46h10v1h-10zM42 46h1v1h-1zM51 46h1v1h-1zM13 47h6v1h-6zM25 47h1v1h-1zM12 48h4v1h-4zM25 48h1v1h-1zM11 49h2v1h-2zM26 49h1v1h-1zM40 49h1v1h-1zM50 49h1v1h-1zM10 50h2v1h-2zM26 50h1v1h-1zM9 51h2v1h-2zM26 51h1v1h-1zM39 51h1v1h-1zM8 52h2v1h-2zM26 52h1v1h-1zM1 53h3v1h-3zM7 53h2v1h-2zM38 53h1v1h-1zM49 53h1v1h-1zM1 54h4v1h-4zM6 54h2v1h-2zM3 55h4v1h-4zM25 55h1v1h-1zM37 55h1v1h-1zM4 56h2v1h-2zM36 57h1v1h-1zM24 58h1v1h-1zM47 58h1v1h-1zM35 59h1v1h-1zM46 60h1v1h-1zM34 61h1v1h-1zM45 62h1v1h-1zM33 63h1v1h-1zM44 64h1v1h-1zM32 65h1v1h-1zM43 65h1v1h-1zM31 66h1v1h-1zM42 66h1v1h-1zM41 67h1v1h-1zM30 68h1v1h-1zM40 68h1v1h-1zM39 69h1v1h-1zM20 70h1v1h-1zM38 71h1v1h-1zM28 72h1v1h-1zM37 73h1v1h-1zM27 74h1v1h-1zM19 75h1v1h-1zM19 76h1v1h-1zM36 76h1v1h-1zM36 77h1v1h-1zM36 78h1v1h-1zM26 79h1v1h-1zM26 80h1v1h-1zM26 81h1v1h-1zM26 82h1v1h-1zM36 86h1v1h-1zM27 87h1v1h-1zM36 87h1v1h-1zM106 87h2v1h-2zM110 87h1v1h-1zM19 88h1v1h-1zM36 88h1v1h-1zM104 88h1v1h-1zM19 89h1v1h-1zM36 89h1v1h-1zM102 89h2v1h-2zM111 89h1v1h-1zM36 90h1v1h-1zM36 91h1v1h-1zM101 91h1v1h-1zM36 92h2v1h-2zM101 92h1v1h-1zM111 92h1v1h-1zM36 93h2v1h-2zM101 93h1v1h-1zM111 93h1v1h-1zM20 94h1v1h-1zM36 94h2v1h-2zM101 94h1v1h-1zM31 95h7v1h-7zM101 95h1v1h-1zM110 95h1v1h-1zM33 96h4v1h-4zM102 97h1v1h-1zM21 98h1v1h-1zM102 98h1v1h-1zM107 98h1v1h-1zM103 99h1v1h-1zM105 99h2v1h-2zM22 101h1v1h-1zM12 110h3v1h-3zM9 111h7v1h-7zM7 112h11v1h-11zM5 113h14v1h-14zM4 114h7v1h-7zM17 114h3v1h-3zM5 115h4v1h-4zM18 115h3v1h-3zM5 116h3v1h-3zM19 116h3v1h-3zM21 117h1v1h-1zM22 118h1v1h-1zM23 119h1v1h-1zM24 120h1v1h-1zM36 125h1v1h-1zM32 127h1v1h-1zM33 128h1v1h-1zM34 129h1v1h-1zM41 130h1v1h-1zM42 131h1v1h-1zM38 132h1v1h-1zM50 137h1v1h-1zM59 141h1v1h-1zM56 142h1v1h-1zM62 144h1v1h-1zM70 144h1v1h-1zM68 145h1v1h-1z"/><path fill="#00ff2f" d="M55 38h1v1h-1zM52 39h2v1h-2zM55 39h1v1h-1zM50 40h1v1h-1zM47 42h1v1h-1zM53 42h1v1h-1zM46 43h1v1h-1zM52 43h1v1h-1zM51 45h1v1h-1zM43 46h1v1h-1zM19 47h6v1h-6zM42 47h1v1h-1zM16 48h3v1h-3zM24 48h1v1h-1zM41 48h1v1h-1zM50 48h1v1h-1zM13 49h4v1h-4zM25 49h1v1h-1zM12 50h3v1h-3zM25 50h1v1h-1zM40 50h1v1h-1zM11 51h3v1h-3zM25 51h1v1h-1zM10 52h2v1h-2zM25 52h1v1h-1zM39 52h1v1h-1zM49 52h1v1h-1zM9 53h2v1h-2zM25 53h1v1h-1zM8 54h2v1h-2zM25 54h1v1h-1zM1 55h2v1h-2zM7 55h2v1h-2zM48 55h1v1h-1zM0 56h4v1h-4zM6 56h2v1h-2zM3 57h4v1h-4zM24 57h1v1h-1zM47 57h1v1h-1zM3 58h3v1h-3zM36 58h1v1h-1zM4 59h1v1h-1zM46 59h1v1h-1zM23 60h1v1h-1zM35 60h1v1h-1zM45 61h1v1h-1zM34 62h1v1h-1zM22 63h1v1h-1zM44 63h1v1h-1zM33 64h1v1h-1zM43 64h1v1h-1zM21 66h1v1h-1zM32 66h1v1h-1zM41 66h1v1h-1zM31 67h1v1h-1zM40 67h1v1h-1zM39 68h1v1h-1zM30 69h1v1h-1zM29 70h1v1h-1zM38 70h1v1h-1zM37 72h1v1h-1zM19 74h1v1h-1zM36 74h1v1h-1zM27 75h1v1h-1zM36 75h1v1h-1zM35 78h1v1h-1zM35 79h1v1h-1zM35 80h1v1h-1zM35 81h1v1h-1zM35 82h1v1h-1zM35 83h1v1h-1zM35 84h1v1h-1zM35 85h1v1h-1zM27 86h1v1h-1zM35 86h1v1h-1zM35 87h1v1h-1zM108 87h2v1h-2zM35 88h1v1h-1zM105 88h2v1h-2zM110 88h1v1h-1zM28 89h1v1h-1zM35 89h1v1h-1zM104 89h1v1h-1zM19 90h1v1h-1zM35 90h1v1h-1zM102 90h1v1h-1zM111 90h1v1h-1zM29 91h1v1h-1zM35 91h1v1h-1zM102 91h1v1h-1zM111 91h1v1h-1zM35 92h1v1h-1zM102 92h1v1h-1zM30 93h1v1h-1zM34 93h2v1h-2zM31 94h5v1h-5zM102 94h1v1h-1zM110 94h1v1h-1zM20 95h1v1h-1zM102 95h1v1h-1zM102 96h1v1h-1zM109 96h1v1h-1zM108 97h1v1h-1zM103 98h1v1h-1zM106 98h1v1h-1zM104 99h1v1h-1zM23 104h1v1h-1zM12 106h2v1h-2zM10 107h5v1h-5zM8 108h8v1h-8zM5 109h12v1h-12zM25 109h1v1h-1zM3 110h9v1h-9zM15 110h3v1h-3zM3 111h6v1h-6zM16 111h3v1h-3zM26 111h1v1h-1zM4 112h3v1h-3zM18 112h1v1h-1zM4 113h1v1h-1zM19 113h1v1h-1zM20 114h1v1h-1zM21 115h1v1h-1zM29 116h1v1h-1zM22 117h1v1h-1zM23 118h1v1h-1zM24 119h1v1h-1zM31 119h1v1h-1zM25 120h1v1h-1zM26 121h1v1h-1zM27 122h1v1h-1zM28 123h1v1h-1zM29 124h1v1h-1zM35 124h1v1h-1zM30 125h1v1h-1zM31 126h1v1h-1zM37 131h1v1h-1zM43 132h1v1h-1zM44 133h1v1h-1zM41 134h1v1h-1zM44 136h1v1h-1zM48 136h1v1h-1zM56 140h1v1h-1zM62 142h1v1h-1zM59 143h1v1h-1zM66 143h1v1h-1zM69 145h1v1h-1zM72 145h1v1h-1z"/><path fill="#00ff28" d="M54 39h1v1h-1zM51 40h4v1h-4zM49 41h1v1h-1zM53 41h1v1h-1zM48 42h1v1h-1zM45 44h1v1h-1zM51 44h1v1h-1zM44 45h1v1h-1zM50 47h1v1h-1zM19 48h5v1h-5zM17 49h1v1h-1zM24 49h1v1h-1zM41 49h1v1h-1zM15 50h2v1h-2zM24 50h1v1h-1zM49 50h1v1h-1zM14 51h2v1h-2zM40 51h1v1h-1zM49 51h1v1h-1zM12 52h3v1h-3zM11 53h2v1h-2zM10 54h2v1h-2zM38 54h1v1h-1zM48 54h1v1h-1zM9 55h2v1h-2zM8 56h2v1h-2zM24 56h1v1h-1zM37 56h1v1h-1zM47 56h1v1h-1zM0 57h3v1h-3zM7 57h2v1h-2zM0 58h3v1h-3zM6 58h2v1h-2zM1 59h3v1h-3zM5 59h2v1h-2zM23 59h1v1h-1zM36 59h1v1h-1zM2 60h4v1h-4zM45 60h1v1h-1zM3 61h2v1h-2zM35 61h1v1h-1zM22 62h1v1h-1zM44 62h1v1h-1zM34 63h1v1h-1zM21 65h1v1h-1zM33 65h1v1h-1zM41 65h2v1h-2zM40 66h1v1h-1zM32 67h1v1h-1zM39 67h1v1h-1zM31 68h1v1h-1zM38 68h1v1h-1zM20 69h1v1h-1zM38 69h1v1h-1zM30 70h1v1h-1zM37 70h1v1h-1zM29 71h1v1h-1zM37 71h1v1h-1zM36 72h1v1h-1zM19 73h1v1h-1zM28 73h1v1h-1zM36 73h1v1h-1zM35 75h1v1h-1zM27 76h1v1h-1zM35 76h1v1h-1zM35 77h1v1h-1zM18 81h1v1h-1zM18 82h1v1h-1zM27 85h1v1h-1zM28 88h1v1h-1zM107 88h3v1h-3zM34 89h1v1h-1zM105 89h1v1h-1zM110 89h1v1h-1zM34 90h1v1h-1zM103 90h2v1h-2zM19 91h1v1h-1zM34 91h1v1h-1zM103 91h1v1h-1zM30 92h5v1h-5zM31 93h3v1h-3zM102 93h1v1h-1zM110 93h1v1h-1zM103 95h1v1h-1zM109 95h1v1h-1zM103 96h1v1h-1zM108 96h1v1h-1zM103 97h1v1h-1zM107 97h1v1h-1zM104 98h2v1h-2zM21 99h1v1h-1zM11 102h2v1h-2zM22 102h1v1h-1zM10 103h4v1h-4zM8 104h7v1h-7zM6 105h10v1h-10zM2 106h10v1h-10zM14 106h2v1h-2zM2 107h8v1h-8zM15 107h2v1h-2zM24 107h1v1h-1zM2 108h6v1h-6zM16 108h2v1h-2zM2 109h3v1h-3zM17 109h1v1h-1zM18 110h1v1h-1zM19 112h1v1h-1zM20 113h1v1h-1zM27 113h1v1h-1zM22 116h1v1h-1zM23 117h1v1h-1zM24 118h1v1h-1zM34 123h1v1h-1zM36 130h1v1h-1zM45 134h1v1h-1zM46 137h1v1h-1zM53 139h1v1h-1zM54 141h1v1h-1zM63 144h1v1h-1zM69 144h1v1h-1zM70 145h2v1h-2z"/><path fill="#00ff21" d="M50 41h3v1h-3zM49 42h1v1h-1zM52 42h1v1h-1zM47 43h1v1h-1zM51 43h1v1h-1zM46 44h1v1h-1zM45 45h1v1h-1zM44 46h1v1h-1zM50 46h1v1h-1zM43 47h1v1h-1zM42 48h1v1h-1zM49 48h1v1h-1zM18 49h6v1h-6zM49 49h1v1h-1zM17 50h1v1h-1zM41 50h1v1h-1zM16 51h1v1h-1zM24 51h1v1h-1zM15 52h1v1h-1zM24 52h1v1h-1zM13 53h2v1h-2zM24 53h1v1h-1zM39 53h1v1h-1zM48 53h1v1h-1zM12 54h2v1h-2zM24 54h1v1h-1zM11 55h2v1h-2zM24 55h1v1h-1zM38 55h1v1h-1zM47 55h1v1h-1zM10 56h2v1h-2zM9 57h2v1h-2zM37 57h1v1h-1zM8 58h2v1h-2zM23 58h1v1h-1zM46 58h1v1h-1zM-1 59h2v1h-2zM7 59h3v1h-3zM-1 60h3v1h-3zM6 60h3v1h-3zM36 60h1v1h-1zM-1 61h4v1h-4zM5 61h3v1h-3zM22 61h1v1h-1zM44 61h1v1h-1zM1 62h6v1h-6zM35 62h1v1h-1zM2 63h4v1h-4zM43 63h1v1h-1zM3 64h1v1h-1zM21 64h1v1h-1zM34 64h1v1h-1zM41 64h2v1h-2zM40 65h1v1h-1zM33 66h1v1h-1zM39 66h1v1h-1zM38 67h1v1h-1zM20 68h1v1h-1zM32 68h1v1h-1zM31 69h1v1h-1zM37 69h1v1h-1zM31 70h1v1h-1zM36 70h1v1h-1zM19 71h1v1h-1zM30 71h1v1h-1zM36 71h1v1h-1zM19 72h1v1h-1zM29 72h1v1h-1zM35 73h1v1h-1zM28 74h1v1h-1zM35 74h1v1h-1zM18 77h1v1h-1zM27 77h1v1h-1zM18 78h1v1h-1zM27 78h1v1h-1zM34 78h1v1h-1zM18 79h1v1h-1zM34 79h1v1h-1zM18 80h1v1h-1zM34 80h1v1h-1zM34 81h1v1h-1zM34 82h1v1h-1zM18 83h1v1h-1zM27 83h1v1h-1zM34 83h1v1h-1zM18 84h1v1h-1zM27 84h1v1h-1zM34 84h1v1h-1zM18 85h1v1h-1zM34 85h1v1h-1zM18 86h1v1h-1zM34 86h1v1h-1zM28 87h1v1h-1zM34 87h1v1h-1zM34 88h1v1h-1zM33 89h1v1h-1zM106 89h1v1h-1zM109 89h1v1h-1zM29 90h1v1h-1zM32 90h2v1h-2zM105 90h1v1h-1zM110 90h1v1h-1zM30 91h4v1h-4zM104 91h1v1h-1zM110 91h1v1h-1zM19 92h1v1h-1zM103 92h1v1h-1zM110 92h1v1h-1zM103 93h1v1h-1zM103 94h1v1h-1zM109 94h1v1h-1zM20 96h1v1h-1zM104 96h1v1h-1zM104 97h3v1h-3zM11 98h1v1h-1zM10 99h3v1h-3zM8 100h6v1h-6zM7 101h7v1h-7zM2 102h9v1h-9zM13 102h2v1h-2zM0 103h10v1h-10zM14 103h1v1h-1zM1 104h7v1h-7zM15 104h1v1h-1zM1 105h5v1h-5zM23 105h1v1h-1zM1 106h1v1h-1zM16 106h1v1h-1zM18 109h1v1h-1zM19 111h1v1h-1zM21 114h1v1h-1zM22 115h1v1h-1zM30 118h1v1h-1zM25 119h1v1h-1zM26 120h1v1h-1zM27 121h1v1h-1zM35 129h1v1h-1zM40 133h1v1h-1zM43 135h1v1h-1zM48 138h1v1h-1zM51 138h1v1h-1zM50 139h1v1h-1zM52 140h1v1h-1zM55 140h1v1h-1zM58 141h1v1h-1zM61 142h1v1h-1zM65 143h1v1h-1zM68 144h1v1h-1z"/><path fill="#00ff19" d="M50 42h2v1h-2zM48 43h1v1h-1zM47 44h1v1h-1zM50 44h1v1h-1zM50 45h1v1h-1zM49 47h1v1h-1zM43 48h1v1h-1zM42 49h1v1h-1zM18 50h6v1h-6zM17 51h1v1h-1zM23 51h1v1h-1zM41 51h1v1h-1zM48 51h1v1h-1zM16 52h1v1h-1zM23 52h1v1h-1zM40 52h1v1h-1zM48 52h1v1h-1zM15 53h1v1h-1zM14 54h1v1h-1zM39 54h1v1h-1zM47 54h1v1h-1zM13 55h1v1h-1zM23 55h1v1h-1zM12 56h2v1h-2zM23 56h1v1h-1zM38 56h1v1h-1zM11 57h2v1h-2zM23 57h1v1h-1zM46 57h1v1h-1zM10 58h2v1h-2zM37 58h1v1h-1zM10 59h1v1h-1zM37 59h1v1h-1zM45 59h1v1h-1zM9 60h2v1h-2zM22 60h1v1h-1zM44 60h1v1h-1zM8 61h2v1h-2zM36 61h1v1h-1zM43 61h1v1h-1zM-1 62h2v1h-2zM7 62h2v1h-2zM42 62h2v1h-2zM-2 63h4v1h-4zM6 63h2v1h-2zM21 63h1v1h-1zM35 63h1v1h-1zM41 63h2v1h-2zM-2 64h5v1h-5zM4 64h3v1h-3zM35 64h1v1h-1zM40 64h1v1h-1zM1 65h5v1h-5zM34 65h1v1h-1zM39 65h1v1h-1zM1 66h4v1h-4zM20 66h1v1h-1zM34 66h1v1h-1zM38 66h1v1h-1zM2 67h2v1h-2zM20 67h1v1h-1zM33 67h1v1h-1zM37 67h1v1h-1zM33 68h1v1h-1zM36 68h2v1h-2zM32 69h1v1h-1zM36 69h1v1h-1zM19 70h1v1h-1zM31 71h1v1h-1zM35 71h1v1h-1zM30 72h1v1h-1zM35 72h1v1h-1zM29 73h1v1h-1zM34 74h1v1h-1zM18 75h1v1h-1zM28 75h1v1h-1zM34 75h1v1h-1zM18 76h1v1h-1zM34 76h1v1h-1zM34 77h1v1h-1zM27 79h1v1h-1zM27 80h1v1h-1zM27 81h1v1h-1zM27 82h1v1h-1zM33 84h1v1h-1zM33 85h1v1h-1zM28 86h1v1h-1zM33 86h1v1h-1zM18 87h1v1h-1zM33 87h1v1h-1zM18 88h1v1h-1zM29 88h1v1h-1zM32 88h2v1h-2zM29 89h4v1h-4zM107 89h2v1h-2zM30 90h2v1h-2zM106 90h1v1h-1zM109 90h1v1h-1zM105 91h1v1h-1zM104 92h1v1h-1zM19 93h1v1h-1zM104 93h1v1h-1zM109 93h1v1h-1zM10 94h1v1h-1zM104 94h1v1h-1zM9 95h3v1h-3zM104 95h1v1h-1zM108 95h1v1h-1zM8 96h4v1h-4zM105 96h3v1h-3zM7 97h6v1h-6zM20 97h1v1h-1zM6 98h5v1h-5zM12 98h2v1h-2zM-1 99h11v1h-11zM13 99h1v1h-1zM-1 100h9v1h-9zM21 100h1v1h-1zM0 101h7v1h-7zM14 101h1v1h-1zM0 102h2v1h-2zM15 103h1v1h-1zM22 103h1v1h-1zM16 105h1v1h-1zM17 107h1v1h-1zM19 110h1v1h-1zM20 112h1v1h-1zM21 113h1v1h-1zM28 115h1v1h-1zM23 116h1v1h-1zM24 117h1v1h-1zM28 122h1v1h-1zM33 122h1v1h-1zM29 123h1v1h-1zM30 124h1v1h-1zM31 125h1v1h-1zM32 126h1v1h-1zM33 127h1v1h-1zM34 128h1v1h-1zM39 132h1v1h-1zM46 135h1v1h-1zM45 136h1v1h-1zM49 137h1v1h-1zM57 141h1v1h-1zM57 142h1v1h-1zM60 143h1v1h-1zM64 143h1v1h-1zM64 144h1v1h-1z"/><path fill="#00ff12" d="M49 43h2v1h-2zM48 44h2v1h-2zM46 45h1v1h-1zM49 45h1v1h-1zM45 46h1v1h-1zM49 46h1v1h-1zM44 47h1v1h-1zM48 48h1v1h-1zM48 49h1v1h-1zM42 50h1v1h-1zM48 50h1v1h-1zM18 51h5v1h-5zM17 52h1v1h-1zM16 53h1v1h-1zM23 53h1v1h-1zM40 53h1v1h-1zM47 53h1v1h-1zM15 54h1v1h-1zM23 54h1v1h-1zM14 55h1v1h-1zM39 55h1v1h-1zM14 56h1v1h-1zM46 56h1v1h-1zM13 57h1v1h-1zM38 57h1v1h-1zM12 58h1v1h-1zM22 58h1v1h-1zM38 58h1v1h-1zM45 58h1v1h-1zM11 59h2v1h-2zM22 59h1v1h-1zM44 59h1v1h-1zM11 60h1v1h-1zM37 60h1v1h-1zM43 60h1v1h-1zM10 61h1v1h-1zM42 61h1v1h-1zM9 62h2v1h-2zM21 62h1v1h-1zM36 62h1v1h-1zM41 62h1v1h-1zM8 63h2v1h-2zM36 63h1v1h-1zM39 63h2v1h-2zM7 64h3v1h-3zM36 64h1v1h-1zM38 64h2v1h-2zM-2 65h3v1h-3zM6 65h3v1h-3zM20 65h1v1h-1zM35 65h4v1h-4zM-2 66h3v1h-3zM5 66h3v1h-3zM35 66h3v1h-3zM-2 67h4v1h-4zM4 67h4v1h-4zM34 67h3v1h-3zM0 68h7v1h-7zM34 68h2v1h-2zM1 69h5v1h-5zM19 69h1v1h-1zM33 69h3v1h-3zM1 70h3v1h-3zM32 70h4v1h-4zM32 71h3v1h-3zM31 72h1v1h-1zM34 72h1v1h-1zM18 73h1v1h-1zM30 73h2v1h-2zM34 73h1v1h-1zM18 74h1v1h-1zM29 74h2v1h-2zM29 75h1v1h-1zM28 76h1v1h-1zM33 76h1v1h-1zM28 77h1v1h-1zM33 77h1v1h-1zM33 78h1v1h-1zM17 79h1v1h-1zM33 79h1v1h-1zM17 80h1v1h-1zM33 80h1v1h-1zM17 81h1v1h-1zM33 81h1v1h-1zM17 82h1v1h-1zM33 82h1v1h-1zM17 83h1v1h-1zM33 83h1v1h-1zM28 85h1v1h-1zM32 85h1v1h-1zM32 86h1v1h-1zM29 87h4v1h-4zM30 88h2v1h-2zM18 89h1v1h-1zM9 90h1v1h-1zM18 90h1v1h-1zM107 90h2v1h-2zM8 91h3v1h-3zM106 91h1v1h-1zM109 91h1v1h-1zM7 92h5v1h-5zM105 92h1v1h-1zM109 92h1v1h-1zM6 93h6v1h-6zM105 93h1v1h-1zM-2 94h3v1h-3zM5 94h5v1h-5zM11 94h1v1h-1zM19 94h1v1h-1zM105 94h1v1h-1zM108 94h1v1h-1zM-2 95h11v1h-11zM12 95h1v1h-1zM105 95h3v1h-3zM-2 96h10v1h-10zM12 96h1v1h-1zM-1 97h8v1h-8zM13 97h1v1h-1zM-1 98h7v1h-7zM14 100h1v1h-1zM15 102h1v1h-1zM16 104h1v1h-1zM17 106h1v1h-1zM18 108h1v1h-1zM24 108h1v1h-1zM25 110h1v1h-1zM20 111h1v1h-1zM26 112h1v1h-1zM22 114h1v1h-1zM25 118h1v1h-1zM32 121h1v1h-1zM38 131h1v1h-1zM41 131h1v1h-1zM42 134h1v1h-1zM47 136h1v1h-1zM48 137h1v1h-1zM50 138h1v1h-1zM52 139h1v1h-1zM54 140h1v1h-1zM55 141h1v1h-1zM60 142h1v1h-1zM63 143h1v1h-1zM67 144h1v1h-1z"/><path fill="#00ff0b" d="M47 45h2v1h-2zM46 46h3v1h-3zM45 47h1v1h-1zM48 47h1v1h-1zM44 48h1v1h-1zM43 49h1v1h-1zM47 49h1v1h-1zM47 50h1v1h-1zM42 51h1v1h-1zM47 51h1v1h-1zM18 52h2v1h-2zM21 52h2v1h-2zM41 52h1v1h-1zM47 52h1v1h-1zM17 53h1v1h-1zM22 53h1v1h-1zM16 54h1v1h-1zM22 54h1v1h-1zM40 54h1v1h-1zM46 54h1v1h-1zM15 55h1v1h-1zM22 55h1v1h-1zM46 55h1v1h-1zM22 56h1v1h-1zM39 56h1v1h-1zM45 56h1v1h-1zM14 57h1v1h-1zM22 57h1v1h-1zM45 57h1v1h-1zM13 58h1v1h-1zM44 58h1v1h-1zM13 59h1v1h-1zM38 59h1v1h-1zM43 59h1v1h-1zM12 60h1v1h-1zM21 60h1v1h-1zM38 60h1v1h-1zM42 60h1v1h-1zM11 61h1v1h-1zM21 61h1v1h-1zM37 61h5v1h-5zM11 62h1v1h-1zM37 62h4v1h-4zM10 63h2v1h-2zM37 63h2v1h-2zM10 64h1v1h-1zM20 64h1v1h-1zM37 64h1v1h-1zM9 65h2v1h-2zM8 66h2v1h-2zM8 67h2v1h-2zM19 67h1v1h-1zM-2 68h2v1h-2zM7 68h2v1h-2zM19 68h1v1h-1zM-2 69h3v1h-3zM6 69h3v1h-3zM-3 70h4v1h-4zM4 70h4v1h-4zM-3 71h11v1h-11zM18 71h1v1h-1zM-3 72h10v1h-10zM18 72h1v1h-1zM32 72h2v1h-2zM-3 73h9v1h-9zM32 73h2v1h-2zM0 74h5v1h-5zM31 74h3v1h-3zM1 75h3v1h-3zM17 75h1v1h-1zM30 75h4v1h-4zM17 76h1v1h-1zM29 76h2v1h-2zM32 76h1v1h-1zM17 77h1v1h-1zM29 77h1v1h-1zM17 78h1v1h-1zM28 78h1v1h-1zM28 79h1v1h-1zM32 80h1v1h-1zM32 81h1v1h-1zM28 82h1v1h-1zM32 82h1v1h-1zM28 83h1v1h-1zM32 83h1v1h-1zM17 84h1v1h-1zM28 84h5v1h-5zM8 85h2v1h-2zM17 85h1v1h-1zM29 85h3v1h-3zM7 86h3v1h-3zM17 86h1v1h-1zM29 86h3v1h-3zM6 87h5v1h-5zM-3 88h3v1h-3zM5 88h6v1h-6zM-3 89h4v1h-4zM4 89h7v1h-7zM-2 90h11v1h-11zM10 90h2v1h-2zM-2 91h10v1h-10zM11 91h1v1h-1zM18 91h1v1h-1zM107 91h2v1h-2zM-2 92h9v1h-9zM106 92h3v1h-3zM-2 93h8v1h-8zM12 93h1v1h-1zM106 93h3v1h-3zM1 94h4v1h-4zM12 94h1v1h-1zM106 94h2v1h-2zM19 95h1v1h-1zM13 96h1v1h-1zM20 98h1v1h-1zM14 99h1v1h-1zM15 101h1v1h-1zM21 101h1v1h-1zM16 103h1v1h-1zM17 105h1v1h-1zM23 106h1v1h-1zM18 107h1v1h-1zM19 109h1v1h-1zM21 112h1v1h-1zM23 115h1v1h-1zM29 117h1v1h-1zM26 119h1v1h-1zM38 128h1v1h-1zM39 129h1v1h-1zM37 130h1v1h-1zM40 130h1v1h-1zM42 132h1v1h-1zM41 133h1v1h-1zM43 133h1v1h-1zM44 134h1v1h-1zM44 135h2v1h-2zM46 136h1v1h-1zM47 137h1v1h-1zM49 138h1v1h-1zM53 140h1v1h-1zM56 141h1v1h-1zM59 142h1v1h-1zM61 143h1v1h-1zM65 144h2v1h-2z"/><path fill="#00ff04" d="M46 47h2v1h-2zM45 48h3v1h-3zM44 49h1v1h-1zM46 49h1v1h-1zM43 50h1v1h-1zM46 50h1v1h-1zM46 51h1v1h-1zM20 52h1v1h-1zM42 52h1v1h-1zM46 52h1v1h-1zM18 53h4v1h-4zM41 53h1v1h-1zM46 53h1v1h-1zM17 54h1v1h-1zM21 54h1v1h-1zM45 54h1v1h-1zM16 55h1v1h-1zM21 55h1v1h-1zM40 55h1v1h-1zM45 55h1v1h-1zM15 56h1v1h-1zM21 56h1v1h-1zM40 56h1v1h-1zM21 57h1v1h-1zM39 57h2v1h-2zM44 57h1v1h-1zM14 58h1v1h-1zM21 58h1v1h-1zM39 58h2v1h-2zM42 58h2v1h-2zM21 59h1v1h-1zM39 59h4v1h-4zM13 60h1v1h-1zM39 60h3v1h-3zM12 61h1v1h-1zM12 62h1v1h-1zM20 62h1v1h-1zM20 63h1v1h-1zM11 64h1v1h-1zM11 65h1v1h-1zM19 65h1v1h-1zM10 66h1v1h-1zM19 66h1v1h-1zM10 67h1v1h-1zM9 68h2v1h-2zM9 69h2v1h-2zM18 69h1v1h-1zM8 70h2v1h-2zM18 70h1v1h-1zM8 71h2v1h-2zM7 72h3v1h-3zM6 73h4v1h-4zM17 73h1v1h-1zM-3 74h3v1h-3zM5 74h5v1h-5zM17 74h1v1h-1zM-3 75h4v1h-4zM4 75h6v1h-6zM-3 76h13v1h-13zM31 76h1v1h-1zM-3 77h13v1h-13zM30 77h3v1h-3zM-3 78h13v1h-13zM29 78h4v1h-4zM-3 79h13v1h-13zM29 79h4v1h-4zM-3 80h13v1h-13zM16 80h1v1h-1zM28 80h4v1h-4zM-3 81h13v1h-13zM28 81h4v1h-4zM-3 82h13v1h-13zM29 82h3v1h-3zM-3 83h14v1h-14zM29 83h3v1h-3zM-3 84h14v1h-14zM-3 85h11v1h-11zM10 85h1v1h-1zM-3 86h10v1h-10zM10 86h1v1h-1zM-3 87h9v1h-9zM11 87h1v1h-1zM17 87h1v1h-1zM0 88h5v1h-5zM11 88h1v1h-1zM17 88h1v1h-1zM1 89h3v1h-3zM11 89h1v1h-1zM12 91h1v1h-1zM12 92h1v1h-1zM18 92h1v1h-1zM13 95h1v1h-1zM19 96h1v1h-1zM14 98h1v1h-1zM20 99h1v1h-1zM15 100h1v1h-1zM22 104h1v1h-1zM20 110h1v1h-1zM27 114h1v1h-1zM27 120h1v1h-1zM31 120h1v1h-1zM36 126h1v1h-1zM37 127h1v1h-1zM36 129h1v1h-1zM40 132h1v1h-1zM42 133h1v1h-1zM43 134h1v1h-1zM51 139h1v1h-1zM58 142h1v1h-1zM62 143h1v1h-1z"/><path fill="#04ff00" d="M45 49h1v1h-1zM44 50h2v1h-2zM43 51h3v1h-3zM43 52h3v1h-3zM42 53h4v1h-4zM18 54h3v1h-3zM41 54h4v1h-4zM17 55h1v1h-1zM20 55h1v1h-1zM41 55h4v1h-4zM16 56h1v1h-1zM41 56h4v1h-4zM15 57h1v1h-1zM41 57h3v1h-3zM41 58h1v1h-1zM14 59h1v1h-1zM20 59h1v1h-1zM20 60h1v1h-1zM13 61h1v1h-1zM20 61h1v1h-1zM12 63h1v1h-1zM19 63h1v1h-1zM12 64h1v1h-1zM19 64h1v1h-1zM11 66h1v1h-1zM11 67h1v1h-1zM18 67h1v1h-1zM11 68h1v1h-1zM18 68h1v1h-1zM10 70h1v1h-1zM17 70h1v1h-1zM10 71h1v1h-1zM17 71h1v1h-1zM10 72h1v1h-1zM17 72h1v1h-1zM10 73h1v1h-1zM10 74h1v1h-1zM10 75h1v1h-1zM16 75h1v1h-1zM10 76h1v1h-1zM16 76h1v1h-1zM10 77h1v1h-1zM16 77h1v1h-1zM10 78h1v1h-1zM16 78h1v1h-1zM10 79h1v1h-1zM16 79h1v1h-1zM10 80h1v1h-1zM10 81h1v1h-1zM16 81h1v1h-1zM10 82h1v1h-1zM16 82h1v1h-1zM16 83h1v1h-1zM11 84h1v1h-1zM16 84h1v1h-1zM11 85h1v1h-1zM16 85h1v1h-1zM11 86h1v1h-1zM17 89h1v1h-1zM12 90h1v1h-1zM17 90h1v1h-1zM18 93h1v1h-1zM13 94h1v1h-1zM14 97h1v1h-1zM16 102h1v1h-1zM21 102h1v1h-1zM17 104h1v1h-1zM18 106h1v1h-1zM19 108h1v1h-1zM24 109h1v1h-1zM22 113h1v1h-1zM24 116h1v1h-1zM28 121h1v1h-1zM29 122h1v1h-1zM35 125h1v1h-1zM34 127h1v1h-1zM35 128h1v1h-1zM39 131h1v1h-1z"/><path fill="#0bff00" d="M18 55h2v1h-2zM20 56h1v1h-1zM16 57h1v1h-1zM20 57h1v1h-1zM15 58h1v1h-1zM20 58h1v1h-1zM14 60h1v1h-1zM19 61h1v1h-1zM13 62h1v1h-1zM19 62h1v1h-1zM13 63h1v1h-1zM12 65h1v1h-1zM18 65h1v1h-1zM12 66h1v1h-1zM18 66h1v1h-1zM17 68h1v1h-1zM11 69h1v1h-1zM17 69h1v1h-1zM11 70h1v1h-1zM11 71h1v1h-1zM11 72h1v1h-1zM16 73h1v1h-1zM16 74h1v1h-1zM11 81h1v1h-1zM11 82h1v1h-1zM11 83h1v1h-1zM16 86h1v1h-1zM12 88h1v1h-1zM12 89h1v1h-1zM17 91h1v1h-1zM13 93h1v1h-1zM18 94h1v1h-1zM14 96h1v1h-1zM19 97h1v1h-1zM15 99h1v1h-1zM20 100h1v1h-1zM22 105h1v1h-1zM23 107h1v1h-1zM21 111h1v1h-1zM25 111h1v1h-1zM28 116h1v1h-1zM25 117h1v1h-1zM30 123h1v1h-1zM31 124h1v1h-1zM34 124h1v1h-1zM32 125h1v1h-1zM33 126h1v1h-1zM38 130h1v1h-1zM41 132h1v1h-1z"/><path fill="#12ff00" d="M17 56h3v1h-3zM19 57h1v1h-1zM19 58h1v1h-1zM15 59h1v1h-1zM19 59h1v1h-1zM19 60h1v1h-1zM14 61h1v1h-1zM18 62h1v1h-1zM18 63h1v1h-1zM13 64h1v1h-1zM18 64h1v1h-1zM17 66h1v1h-1zM12 67h1v1h-1zM17 67h1v1h-1zM12 68h1v1h-1zM16 70h1v1h-1zM16 71h1v1h-1zM16 72h1v1h-1zM11 73h1v1h-1zM11 74h1v1h-1zM11 75h1v1h-1zM11 76h1v1h-1zM11 77h1v1h-1zM11 78h1v1h-1zM15 78h1v1h-1zM11 79h1v1h-1zM15 79h1v1h-1zM11 80h1v1h-1zM15 80h1v1h-1zM12 86h1v1h-1zM12 87h1v1h-1zM16 87h1v1h-1zM16 88h1v1h-1zM13 92h1v1h-1zM17 92h1v1h-1zM14 95h1v1h-1zM18 95h1v1h-1zM15 98h1v1h-1zM19 98h1v1h-1zM16 101h1v1h-1zM17 103h1v1h-1zM21 103h1v1h-1zM18 105h1v1h-1zM19 107h1v1h-1zM20 109h1v1h-1zM26 113h1v1h-1zM23 114h1v1h-1zM26 118h1v1h-1zM30 119h1v1h-1zM38 129h1v1h-1zM39 130h1v1h-1zM40 131h1v1h-1z"/><path fill="#1aff00" d="M17 57h2v1h-2zM16 58h3v1h-3zM18 59h1v1h-1zM15 60h1v1h-1zM18 60h1v1h-1zM18 61h1v1h-1zM14 62h1v1h-1zM17 64h1v1h-1zM13 65h1v1h-1zM17 65h1v1h-1zM13 66h1v1h-1zM16 68h1v1h-1zM12 69h1v1h-1zM16 69h1v1h-1zM12 70h1v1h-1zM12 71h1v1h-1zM15 75h1v1h-1zM15 76h1v1h-1zM15 77h1v1h-1zM15 81h1v1h-1zM15 82h1v1h-1zM15 83h1v1h-1zM12 84h1v1h-1zM15 84h1v1h-1zM12 85h1v1h-1zM16 89h1v1h-1zM13 91h1v1h-1zM17 93h1v1h-1zM18 96h1v1h-1zM16 100h1v1h-1zM20 101h1v1h-1zM33 123h1v1h-1zM37 128h1v1h-1zM37 129h1v1h-1z"/><path fill="#21ff00" d="M16 59h2v1h-2zM17 60h1v1h-1zM15 61h1v1h-1zM17 61h1v1h-1zM17 62h1v1h-1zM14 63h1v1h-1zM17 63h1v1h-1zM13 67h1v1h-1zM16 67h1v1h-1zM12 72h1v1h-1zM12 73h1v1h-1zM15 73h1v1h-1zM12 74h1v1h-1zM15 74h1v1h-1zM12 75h1v1h-1zM12 81h1v1h-1zM12 82h1v1h-1zM12 83h1v1h-1zM15 85h1v1h-1zM13 90h1v1h-1zM16 90h1v1h-1zM14 94h1v1h-1zM17 94h1v1h-1zM15 97h1v1h-1zM19 99h1v1h-1zM17 102h1v1h-1zM21 104h1v1h-1zM22 106h1v1h-1zM23 108h1v1h-1zM24 110h1v1h-1zM22 112h1v1h-1zM24 115h1v1h-1zM27 115h1v1h-1zM29 118h1v1h-1zM27 119h1v1h-1zM32 122h1v1h-1zM36 127h1v1h-1zM36 128h1v1h-1z"/><path fill="#28ff00" d="M16 60h1v1h-1zM16 61h1v1h-1zM15 62h1v1h-1zM14 64h1v1h-1zM16 65h1v1h-1zM16 66h1v1h-1zM13 68h1v1h-1zM15 71h1v1h-1zM15 72h1v1h-1zM12 76h1v1h-1zM12 77h1v1h-1zM12 78h1v1h-1zM12 79h1v1h-1zM12 80h1v1h-1zM15 86h1v1h-1zM15 87h1v1h-1zM13 89h1v1h-1zM16 91h1v1h-1zM14 93h1v1h-1zM17 95h1v1h-1zM15 96h1v1h-1zM18 97h1v1h-1zM16 99h1v1h-1zM19 100h1v1h-1zM20 102h1v1h-1zM18 104h1v1h-1zM19 106h1v1h-1zM20 108h1v1h-1zM21 110h1v1h-1zM25 112h1v1h-1zM25 116h1v1h-1zM28 120h1v1h-1zM34 125h1v1h-1zM35 126h1v1h-1zM35 127h1v1h-1z"/><path fill="#2fff00" d="M16 62h1v1h-1zM15 63h2v1h-2zM16 64h1v1h-1zM14 65h1v1h-1zM14 66h1v1h-1zM13 69h1v1h-1zM13 70h1v1h-1zM15 70h1v1h-1zM13 87h1v1h-1zM13 88h1v1h-1zM15 88h1v1h-1zM14 92h1v1h-1zM16 92h1v1h-1zM16 93h1v1h-1zM15 95h1v1h-1zM16 98h1v1h-1zM18 98h1v1h-1zM17 101h1v1h-1zM23 113h1v1h-1zM28 117h1v1h-1zM29 121h1v1h-1zM31 121h1v1h-1zM33 124h1v1h-1zM34 126h1v1h-1z"/><path fill="#37ff00" d="M15 64h1v1h-1zM15 65h1v1h-1zM15 66h1v1h-1zM14 67h2v1h-2zM15 68h1v1h-1zM15 69h1v1h-1zM13 71h1v1h-1zM13 86h1v1h-1zM15 89h1v1h-1zM14 90h2v1h-2zM14 91h1v1h-1zM15 94h2v1h-2zM17 96h1v1h-1zM17 97h1v1h-1zM18 99h1v1h-1zM19 101h1v1h-1zM18 103h1v1h-1zM20 103h1v1h-1zM19 105h1v1h-1zM21 105h1v1h-1zM22 107h1v1h-1zM21 109h1v1h-1zM23 109h1v1h-1zM22 111h1v1h-1zM26 114h1v1h-1zM26 117h1v1h-1zM30 120h1v1h-1zM30 122h1v1h-1zM31 123h2v1h-2zM32 124h1v1h-1zM33 125h1v1h-1z"/><path fill="#3eff00" d="M14 68h1v1h-1zM14 69h1v1h-1zM14 70h1v1h-1zM14 71h1v1h-1zM13 72h2v1h-2zM13 73h2v1h-2zM14 74h1v1h-1zM14 75h1v1h-1zM14 76h1v1h-1zM14 77h1v1h-1zM14 78h1v1h-1zM14 79h1v1h-1zM14 80h1v1h-1zM14 81h1v1h-1zM14 82h1v1h-1zM13 83h2v1h-2zM13 84h1v1h-1zM13 85h1v1h-1zM14 88h1v1h-1zM14 89h1v1h-1zM15 91h1v1h-1zM15 93h1v1h-1zM16 95h1v1h-1zM16 96h1v1h-1zM16 97h1v1h-1zM17 98h1v1h-1zM17 99h1v1h-1zM17 100h2v1h-2zM18 101h1v1h-1zM18 102h2v1h-2zM19 104h2v1h-2zM21 106h1v1h-1zM20 107h1v1h-1zM24 111h1v1h-1zM24 114h1v1h-1zM27 116h1v1h-1zM29 119h1v1h-1zM31 122h1v1h-1z"/><path fill="#45ff00" d="M13 74h1v1h-1zM13 75h1v1h-1zM13 76h1v1h-1zM13 77h1v1h-1zM13 78h1v1h-1zM13 79h1v1h-1zM13 80h1v1h-1zM13 81h1v1h-1zM13 82h1v1h-1zM14 84h1v1h-1zM14 85h1v1h-1zM14 86h1v1h-1zM14 87h1v1h-1zM15 92h1v1h-1zM19 103h1v1h-1zM20 106h1v1h-1zM21 108h2v1h-2zM22 110h2v1h-2zM23 112h1v1h-1zM25 113h1v1h-1zM26 115h1v1h-1zM27 118h2v1h-2zM30 121h1v1h-1z"/><path fill="#4dff00" d="M20 105h1v1h-1zM21 107h1v1h-1zM22 109h1v1h-1zM24 112h1v1h-1zM25 114h1v1h-1zM25 115h1v1h-1zM27 117h1v1h-1zM28 119h1v1h-1zM29 120h1v1h-1z"/><path fill="#54ff00" d="M23 111h1v1h-1zM24 113h1v1h-1zM26 116h1v1h-1z"/></g></g>
<g clip-path="url(#cneg)"><g filter="url(#bl)" shape-rendering="crispEdges"><path fill="#ef00ff" d="M73 45h3v1h-3zM71 46h5v1h-5zM70 47h6v1h-6zM69 48h7v1h-7zM68 49h8v1h-8zM67 50h9v1h-9zM66 51h10v1h-10zM66 52h10v1h-10zM67 53h9v1h-9zM69 54h7v1h-7zM70 55h6v1h-6zM71 56h5v1h-5zM72 57h4v1h-4zM72 58h4v1h-4zM72 59h4v1h-4zM73 60h3v1h-3z"/><path fill="#ed00ff" d="M72 45h1v1h-1zM76 45h2v1h-2zM76 46h2v1h-2zM69 47h1v1h-1zM76 47h2v1h-2zM68 48h1v1h-1zM76 48h2v1h-2zM67 49h1v1h-1zM76 49h2v1h-2zM76 50h2v1h-2zM76 51h2v1h-2zM65 52h1v1h-1zM76 52h2v1h-2zM76 53h2v1h-2zM68 54h1v1h-1zM76 54h2v1h-2zM76 55h2v1h-2zM76 56h2v1h-2zM71 57h1v1h-1zM76 57h2v1h-2zM76 58h2v1h-2zM76 59h2v1h-2zM72 60h1v1h-1zM76 60h2v1h-2z"/><path fill="#ea00ff" d="M75 44h6v1h-6zM78 45h3v1h-3zM70 46h1v1h-1zM78 46h3v1h-3zM78 47h3v1h-3zM78 48h3v1h-3zM78 49h3v1h-3zM66 50h1v1h-1zM78 50h3v1h-3zM65 51h1v1h-1zM78 51h3v1h-3zM78 52h3v1h-3zM66 53h1v1h-1zM78 53h3v1h-3zM78 54h3v1h-3zM69 55h1v1h-1zM78 55h3v1h-3zM70 56h1v1h-1zM78 56h3v1h-3zM78 57h3v1h-3zM71 58h1v1h-1zM78 58h3v1h-3zM78 59h3v1h-3zM78 60h3v1h-3zM73 61h6v1h-6z"/><path fill="#e700ff" d="M74 44h1v1h-1zM81 44h2v1h-2zM71 45h1v1h-1zM81 45h2v1h-2zM81 46h2v1h-2zM68 47h1v1h-1zM81 47h2v1h-2zM67 48h1v1h-1zM81 48h2v1h-2zM81 49h2v1h-2zM81 50h2v1h-2zM81 51h2v1h-2zM81 52h2v1h-2zM81 53h2v1h-2zM67 54h1v1h-1zM81 54h2v1h-2zM81 55h2v1h-2zM81 56h2v1h-2zM81 57h2v1h-2zM81 58h2v1h-2zM71 59h1v1h-1zM81 59h2v1h-2zM81 60h1v1h-1zM79 61h2v1h-2z"/><path fill="#e500ff" d="M73 44h1v1h-1zM83 44h2v1h-2zM83 45h2v1h-2zM69 46h1v1h-1zM83 46h2v1h-2zM83 47h2v1h-2zM83 48h2v1h-2zM66 49h1v1h-1zM83 49h2v1h-2zM83 50h2v1h-2zM83 51h2v1h-2zM83 52h2v1h-2zM65 53h1v1h-1zM83 53h2v1h-2zM83 54h2v1h-2zM68 55h1v1h-1zM83 55h2v1h-2zM83 56h1v1h-1zM70 57h1v1h-1zM83 57h1v1h-1zM71 60h1v1h-1zM82 60h1v1h-1zM72 61h1v1h-1zM81 61h1v1h-1z"/><path fill="#e200ff" d="M76 43h6v1h-6zM72 44h1v1h-1zM85 44h1v1h-1zM70 45h1v1h-1zM85 45h3v1h-3zM85 46h3v1h-3zM85 47h3v1h-3zM85 48h3v1h-3zM85 49h3v1h-3zM65 50h1v1h-1zM85 50h3v1h-3zM64 51h1v1h-1zM85 51h3v1h-3zM64 52h1v1h-1zM85 52h3v1h-3zM85 53h3v1h-3zM66 54h1v1h-1zM85 54h2v1h-2zM85 55h1v1h-1zM69 56h1v1h-1zM84 56h1v1h-1zM83 58h1v1h-1zM82 61h1v1h-1zM74 62h4v1h-4z"/><path fill="#df00ff" d="M74 43h2v1h-2zM82 43h1v1h-1zM71 44h1v1h-1zM86 44h1v1h-1zM88 45h1v1h-1zM68 46h1v1h-1zM88 46h2v1h-2zM67 47h1v1h-1zM88 47h2v1h-2zM66 48h1v1h-1zM88 48h2v1h-2zM88 49h2v1h-2zM88 50h2v1h-2zM88 51h2v1h-2zM88 52h2v1h-2zM64 53h1v1h-1zM88 53h1v1h-1zM87 54h1v1h-1zM67 55h1v1h-1zM84 57h1v1h-1zM70 58h1v1h-1zM83 59h1v1h-1zM71 61h1v1h-1zM73 62h1v1h-1zM78 62h3v1h-3z"/><path fill="#dd00ff" d="M73 43h1v1h-1zM83 43h2v1h-2zM87 44h1v1h-1zM69 45h1v1h-1zM90 46h1v1h-1zM90 47h2v1h-2zM90 48h2v1h-2zM65 49h1v1h-1zM90 49h2v1h-2zM64 50h1v1h-1zM90 50h2v1h-2zM90 51h2v1h-2zM90 52h1v1h-1zM89 53h1v1h-1zM65 54h1v1h-1zM86 55h1v1h-1zM68 56h1v1h-1zM85 56h1v1h-1zM69 57h1v1h-1zM70 59h1v1h-1zM83 60h1v1h-1zM72 62h1v1h-1zM81 62h2v1h-2zM157 68h1v1h-1zM157 69h1v1h-1zM157 70h1v1h-1zM156 71h2v1h-2zM156 72h2v1h-2zM156 73h2v1h-2zM156 74h2v1h-2zM156 75h2v1h-2zM156 76h2v1h-2zM156 77h2v1h-2zM156 78h3v1h-3zM156 79h3v1h-3zM156 80h3v1h-3zM156 81h3v1h-3zM156 82h2v1h-2zM156 83h2v1h-2zM155 84h3v1h-3zM155 85h3v1h-3zM155 86h3v1h-3zM155 87h3v1h-3zM155 88h3v1h-3zM154 89h4v1h-4zM154 90h4v1h-4zM154 91h4v1h-4zM153 92h4v1h-4zM153 93h4v1h-4zM153 94h4v1h-4zM152 95h5v1h-5zM152 96h5v1h-5zM151 97h5v1h-5zM151 98h5v1h-5zM150 99h6v1h-6zM150 100h6v1h-6zM150 101h5v1h-5zM149 102h6v1h-6zM149 103h6v1h-6zM149 104h6v1h-6zM148 105h6v1h-6zM148 106h6v1h-6zM148 107h6v1h-6zM147 108h6v1h-6zM147 109h6v1h-6zM147 110h5v1h-5zM146 111h6v1h-6zM146 112h5v1h-5zM145 113h6v1h-6zM145 114h5v1h-5zM144 115h6v1h-6zM144 116h6v1h-6zM143 117h6v1h-6zM143 118h5v1h-5zM142 119h6v1h-6zM141 120h6v1h-6zM141 121h6v1h-6zM140 122h6v1h-6zM139 123h6v1h-6zM139 124h6v1h-6zM138 125h6v1h-6zM137 126h6v1h-6zM136 127h7v1h-7zM136 128h6v1h-6zM135 129h6v1h-6zM134 130h6v1h-6zM133 131h6v1h-6zM132 132h6v1h-6zM131 133h6v1h-6zM130 134h7v1h-7zM129 135h6v1h-6zM128 136h6v1h-6zM127 137h6v1h-6zM126 138h6v1h-6zM125 139h6v1h-6zM124 140h6v1h-6zM123 141h6v1h-6zM122 142h5v1h-5zM121 143h5v1h-5zM119 144h6v1h-6zM118 145h5v1h-5zM117 146h5v1h-5zM115 147h5v1h-5zM114 148h4v1h-4zM113 149h3v1h-3zM111 150h3v1h-3zM110 151h2v1h-2zM108 152h2v1h-2zM106 153h1v1h-1z"/><path fill="#da00ff" d="M76 42h6v1h-6zM72 43h1v1h-1zM85 43h1v1h-1zM70 44h1v1h-1zM88 44h1v1h-1zM89 45h1v1h-1zM67 46h1v1h-1zM66 47h1v1h-1zM92 48h1v1h-1zM92 49h2v1h-2zM92 50h2v1h-2zM92 51h1v1h-1zM63 52h1v1h-1zM91 52h1v1h-1zM63 53h1v1h-1zM88 54h1v1h-1zM66 55h1v1h-1zM155 56h1v1h-1zM155 57h1v1h-1zM84 58h1v1h-1zM156 59h1v1h-1zM70 60h1v1h-1zM156 60h1v1h-1zM83 61h1v1h-1zM156 61h1v1h-1zM83 62h1v1h-1zM156 62h1v1h-1zM156 63h2v1h-2zM156 64h2v1h-2zM156 65h2v1h-2zM156 66h2v1h-2zM156 67h2v1h-2zM156 68h1v1h-1zM156 69h1v1h-1zM158 69h1v1h-1zM156 70h1v1h-1zM158 70h1v1h-1zM158 71h1v1h-1zM158 72h1v1h-1zM158 73h1v1h-1zM158 74h1v1h-1zM158 75h1v1h-1zM155 76h1v1h-1zM158 76h1v1h-1zM155 77h1v1h-1zM158 77h1v1h-1zM155 78h1v1h-1zM155 79h1v1h-1zM155 80h1v1h-1zM155 81h1v1h-1zM155 82h1v1h-1zM158 82h1v1h-1zM155 83h1v1h-1zM158 83h1v1h-1zM158 84h1v1h-1zM154 85h1v1h-1zM158 85h1v1h-1zM154 86h1v1h-1zM158 86h1v1h-1zM154 87h1v1h-1zM158 87h1v1h-1zM154 88h1v1h-1zM158 88h1v1h-1zM158 89h1v1h-1zM153 90h1v1h-1zM158 90h1v1h-1zM153 91h1v1h-1zM157 92h1v1h-1zM152 93h1v1h-1zM157 93h1v1h-1zM152 94h1v1h-1zM157 94h1v1h-1zM151 95h1v1h-1zM157 95h1v1h-1zM151 96h1v1h-1zM157 96h1v1h-1zM150 97h1v1h-1zM156 97h1v1h-1zM150 98h1v1h-1zM156 98h1v1h-1zM156 99h1v1h-1zM149 100h1v1h-1zM156 100h1v1h-1zM149 101h1v1h-1zM155 101h1v1h-1zM148 102h1v1h-1zM155 102h1v1h-1zM148 103h1v1h-1zM155 103h1v1h-1zM148 104h1v1h-1zM147 105h1v1h-1zM154 105h1v1h-1zM147 106h1v1h-1zM154 106h1v1h-1zM147 107h1v1h-1zM146 108h1v1h-1zM153 108h1v1h-1zM146 109h1v1h-1zM153 109h1v1h-1zM146 110h1v1h-1zM152 110h1v1h-1zM145 111h1v1h-1zM152 111h1v1h-1zM145 112h1v1h-1zM151 112h1v1h-1zM144 113h1v1h-1zM151 113h1v1h-1zM144 114h1v1h-1zM150 114h1v1h-1zM143 115h1v1h-1zM150 115h1v1h-1zM143 116h1v1h-1zM142 117h1v1h-1zM149 117h1v1h-1zM142 118h1v1h-1zM148 118h1v1h-1zM141 119h1v1h-1zM148 119h1v1h-1zM140 120h1v1h-1zM147 120h1v1h-1zM140 121h1v1h-1zM147 121h1v1h-1zM139 122h1v1h-1zM146 122h1v1h-1zM138 123h1v1h-1zM145 123h1v1h-1zM138 124h1v1h-1zM145 124h1v1h-1zM137 125h1v1h-1zM144 125h1v1h-1zM136 126h1v1h-1zM143 126h1v1h-1zM135 127h1v1h-1zM143 127h1v1h-1zM135 128h1v1h-1zM142 128h1v1h-1zM134 129h1v1h-1zM141 129h1v1h-1zM133 130h1v1h-1zM140 130h1v1h-1zM132 131h1v1h-1zM139 131h1v1h-1zM131 132h1v1h-1zM138 132h1v1h-1zM130 133h1v1h-1zM137 133h2v1h-2zM129 134h1v1h-1zM137 134h1v1h-1zM128 135h1v1h-1zM135 135h2v1h-2zM127 136h1v1h-1zM134 136h2v1h-2zM126 137h1v1h-1zM133 137h2v1h-2zM125 138h1v1h-1zM132 138h1v1h-1zM124 139h1v1h-1zM131 139h1v1h-1zM123 140h1v1h-1zM130 140h1v1h-1zM122 141h1v1h-1zM129 141h1v1h-1zM120 142h2v1h-2zM127 142h2v1h-2zM119 143h2v1h-2zM126 143h1v1h-1zM118 144h1v1h-1zM125 144h1v1h-1zM117 145h1v1h-1zM123 145h2v1h-2zM116 146h1v1h-1zM122 146h1v1h-1zM114 147h1v1h-1zM120 147h1v1h-1zM113 148h1v1h-1zM118 148h2v1h-2zM111 149h2v1h-2zM116 149h2v1h-2zM110 150h1v1h-1zM114 150h2v1h-2zM108 151h2v1h-2zM112 151h2v1h-2zM106 152h2v1h-2zM110 152h2v1h-2zM105 153h1v1h-1zM107 153h3v1h-3zM104 154h3v1h-3z"/><path fill="#d700ff" d="M74 42h2v1h-2zM82 42h2v1h-2zM71 43h1v1h-1zM86 43h1v1h-1zM151 44h1v1h-1zM68 45h1v1h-1zM90 45h1v1h-1zM91 46h1v1h-1zM152 46h1v1h-1zM92 47h1v1h-1zM152 47h1v1h-1zM65 48h1v1h-1zM93 48h1v1h-1zM153 48h1v1h-1zM94 49h1v1h-1zM153 49h1v1h-1zM94 50h1v1h-1zM153 50h1v1h-1zM63 51h1v1h-1zM93 51h1v1h-1zM154 51h1v1h-1zM92 52h1v1h-1zM154 52h1v1h-1zM90 53h1v1h-1zM154 53h2v1h-2zM64 54h1v1h-1zM89 54h1v1h-1zM154 54h2v1h-2zM87 55h1v1h-1zM154 55h2v1h-2zM67 56h1v1h-1zM86 56h1v1h-1zM85 57h1v1h-1zM156 57h1v1h-1zM69 58h1v1h-1zM155 58h2v1h-2zM84 59h1v1h-1zM155 59h1v1h-1zM155 60h1v1h-1zM157 60h1v1h-1zM70 61h1v1h-1zM155 61h1v1h-1zM157 61h1v1h-1zM71 62h1v1h-1zM155 62h1v1h-1zM157 62h1v1h-1zM73 63h2v1h-2zM155 63h1v1h-1zM155 64h1v1h-1zM158 64h1v1h-1zM155 65h1v1h-1zM158 65h1v1h-1zM155 66h1v1h-1zM158 66h1v1h-1zM155 67h1v1h-1zM158 67h1v1h-1zM155 68h1v1h-1zM158 68h1v1h-1zM155 69h1v1h-1zM155 70h1v1h-1zM155 71h1v1h-1zM159 71h1v1h-1zM155 72h1v1h-1zM159 72h1v1h-1zM155 73h1v1h-1zM159 73h1v1h-1zM155 74h1v1h-1zM159 74h1v1h-1zM155 75h1v1h-1zM159 75h1v1h-1zM159 76h1v1h-1zM159 77h1v1h-1zM159 78h1v1h-1zM154 79h1v1h-1zM159 79h1v1h-1zM154 80h1v1h-1zM159 80h1v1h-1zM154 81h1v1h-1zM159 81h1v1h-1zM154 82h1v1h-1zM159 82h1v1h-1zM154 83h1v1h-1zM159 83h1v1h-1zM154 84h1v1h-1zM159 84h1v1h-1zM159 85h1v1h-1zM153 86h1v1h-1zM159 86h1v1h-1zM153 87h1v1h-1zM159 87h1v1h-1zM153 88h1v1h-1zM159 88h1v1h-1zM153 89h1v1h-1zM152 90h1v1h-1zM152 91h1v1h-1zM158 91h1v1h-1zM152 92h1v1h-1zM158 92h1v1h-1zM151 93h1v1h-1zM158 93h1v1h-1zM151 94h1v1h-1zM158 94h1v1h-1zM158 95h1v1h-1zM150 96h1v1h-1zM157 97h1v1h-1zM149 98h1v1h-1zM157 98h1v1h-1zM149 99h1v1h-1zM157 99h1v1h-1zM148 100h1v1h-1zM148 101h1v1h-1zM156 101h1v1h-1zM156 102h1v1h-1zM147 103h1v1h-1zM147 104h1v1h-1zM155 104h1v1h-1zM155 105h1v1h-1zM146 106h1v1h-1zM155 106h1v1h-1zM146 107h1v1h-1zM154 107h1v1h-1zM154 108h1v1h-1zM145 109h1v1h-1zM145 110h1v1h-1zM153 110h1v1h-1zM153 111h1v1h-1zM144 112h1v1h-1zM152 112h1v1h-1zM152 113h1v1h-1zM143 114h1v1h-1zM151 114h1v1h-1zM151 115h1v1h-1zM142 116h1v1h-1zM150 116h1v1h-1zM150 117h1v1h-1zM141 118h1v1h-1zM149 118h1v1h-1zM140 119h1v1h-1zM149 119h1v1h-1zM148 120h1v1h-1zM139 121h1v1h-1zM138 122h1v1h-1zM147 122h1v1h-1zM137 123h1v1h-1zM146 123h1v1h-1zM137 124h1v1h-1zM136 125h1v1h-1zM145 125h1v1h-1zM135 126h1v1h-1zM144 126h1v1h-1zM134 127h1v1h-1zM134 128h1v1h-1zM143 128h1v1h-1zM133 129h1v1h-1zM142 129h1v1h-1zM132 130h1v1h-1zM141 130h1v1h-1zM131 131h1v1h-1zM140 131h1v1h-1zM130 132h1v1h-1zM139 132h1v1h-1zM129 133h1v1h-1zM139 133h1v1h-1zM128 134h1v1h-1zM138 134h1v1h-1zM127 135h1v1h-1zM137 135h1v1h-1zM126 136h1v1h-1zM136 136h1v1h-1zM125 137h1v1h-1zM135 137h1v1h-1zM124 138h1v1h-1zM133 138h2v1h-2zM123 139h1v1h-1zM132 139h2v1h-2zM122 140h1v1h-1zM131 140h1v1h-1zM121 141h1v1h-1zM130 141h1v1h-1zM119 142h1v1h-1zM129 142h1v1h-1zM118 143h1v1h-1zM127 143h2v1h-2zM117 144h1v1h-1zM126 144h1v1h-1zM116 145h1v1h-1zM125 145h1v1h-1zM114 146h2v1h-2zM123 146h1v1h-1zM113 147h1v1h-1zM121 147h2v1h-2zM111 148h2v1h-2zM120 148h1v1h-1zM110 149h1v1h-1zM118 149h2v1h-2zM108 150h2v1h-2zM116 150h2v1h-2zM107 151h1v1h-1zM114 151h2v1h-2zM105 152h1v1h-1zM112 152h2v1h-2zM103 153h2v1h-2zM110 153h2v1h-2zM103 154h1v1h-1zM107 154h2v1h-2zM104 155h3v1h-3z"/><path fill="#d500ff" d="M148 37h1v1h-1zM148 38h1v1h-1zM149 39h1v1h-1zM149 40h1v1h-1zM150 41h1v1h-1zM73 42h1v1h-1zM84 42h2v1h-2zM150 42h2v1h-2zM87 43h1v1h-1zM150 43h2v1h-2zM69 44h1v1h-1zM89 44h1v1h-1zM152 44h1v1h-1zM151 45h2v1h-2zM151 46h1v1h-1zM153 46h1v1h-1zM93 47h1v1h-1zM153 47h1v1h-1zM94 48h1v1h-1zM152 48h1v1h-1zM64 49h1v1h-1zM152 49h1v1h-1zM154 49h1v1h-1zM63 50h1v1h-1zM154 50h1v1h-1zM94 51h1v1h-1zM153 51h1v1h-1zM155 51h1v1h-1zM153 52h1v1h-1zM155 52h1v1h-1zM91 53h1v1h-1zM153 53h1v1h-1zM63 54h1v1h-1zM153 54h1v1h-1zM156 54h1v1h-1zM65 55h1v1h-1zM88 55h1v1h-1zM156 55h1v1h-1zM154 56h1v1h-1zM156 56h1v1h-1zM68 57h1v1h-1zM154 57h1v1h-1zM157 57h1v1h-1zM154 58h1v1h-1zM157 58h1v1h-1zM69 59h1v1h-1zM154 59h1v1h-1zM157 59h1v1h-1zM84 60h1v1h-1zM154 60h1v1h-1zM154 61h1v1h-1zM158 61h1v1h-1zM154 62h1v1h-1zM158 62h1v1h-1zM72 63h1v1h-1zM154 63h1v1h-1zM158 63h1v1h-1zM154 64h1v1h-1zM154 65h1v1h-1zM154 66h1v1h-1zM159 66h1v1h-1zM154 67h1v1h-1zM159 67h1v1h-1zM154 68h1v1h-1zM159 68h1v1h-1zM154 69h1v1h-1zM159 69h1v1h-1zM154 70h1v1h-1zM159 70h1v1h-1zM154 71h1v1h-1zM154 72h1v1h-1zM154 73h1v1h-1zM160 73h1v1h-1zM154 74h1v1h-1zM160 74h1v1h-1zM154 75h1v1h-1zM160 75h1v1h-1zM154 76h1v1h-1zM160 76h1v1h-1zM154 77h1v1h-1zM160 77h1v1h-1zM154 78h1v1h-1zM160 78h1v1h-1zM160 79h1v1h-1zM160 80h1v1h-1zM160 81h1v1h-1zM153 82h1v1h-1zM160 82h1v1h-1zM153 83h1v1h-1zM160 83h1v1h-1zM153 84h1v1h-1zM160 84h1v1h-1zM153 85h1v1h-1zM160 85h1v1h-1zM160 86h1v1h-1zM152 87h1v1h-1zM152 88h1v1h-1zM152 89h1v1h-1zM159 89h1v1h-1zM159 90h1v1h-1zM151 91h1v1h-1zM159 91h1v1h-1zM151 92h1v1h-1zM159 92h1v1h-1zM159 93h1v1h-1zM150 94h1v1h-1zM159 94h1v1h-1zM150 95h1v1h-1zM149 96h1v1h-1zM158 96h1v1h-1zM149 97h1v1h-1zM158 97h1v1h-1zM148 98h1v1h-1zM158 98h1v1h-1zM148 99h1v1h-1zM157 100h1v1h-1zM147 101h1v1h-1zM157 101h1v1h-1zM147 102h1v1h-1zM157 102h1v1h-1zM146 103h1v1h-1zM156 103h1v1h-1zM146 104h1v1h-1zM156 104h1v1h-1zM146 105h1v1h-1zM156 105h1v1h-1zM145 106h1v1h-1zM145 107h1v1h-1zM155 107h1v1h-1zM145 108h1v1h-1zM155 108h1v1h-1zM144 109h1v1h-1zM154 109h1v1h-1zM144 110h1v1h-1zM154 110h1v1h-1zM144 111h1v1h-1zM143 112h1v1h-1zM153 112h1v1h-1zM143 113h1v1h-1zM153 113h1v1h-1zM142 114h1v1h-1zM152 114h1v1h-1zM142 115h1v1h-1zM152 115h1v1h-1zM141 116h1v1h-1zM151 116h1v1h-1zM141 117h1v1h-1zM151 117h1v1h-1zM140 118h1v1h-1zM150 118h1v1h-1zM139 119h1v1h-1zM139 120h1v1h-1zM149 120h1v1h-1zM138 121h1v1h-1zM148 121h1v1h-1zM137 122h1v1h-1zM148 122h1v1h-1zM147 123h1v1h-1zM136 124h1v1h-1zM146 124h1v1h-1zM135 125h1v1h-1zM146 125h1v1h-1zM134 126h1v1h-1zM145 126h1v1h-1zM133 127h1v1h-1zM144 127h1v1h-1zM133 128h1v1h-1zM144 128h1v1h-1zM132 129h1v1h-1zM143 129h1v1h-1zM131 130h1v1h-1zM142 130h1v1h-1zM130 131h1v1h-1zM141 131h1v1h-1zM129 132h1v1h-1zM140 132h1v1h-1zM128 133h1v1h-1zM140 133h1v1h-1zM127 134h1v1h-1zM139 134h1v1h-1zM126 135h1v1h-1zM138 135h1v1h-1zM125 136h1v1h-1zM137 136h1v1h-1zM124 137h1v1h-1zM136 137h1v1h-1zM123 138h1v1h-1zM135 138h1v1h-1zM122 139h1v1h-1zM134 139h1v1h-1zM121 140h1v1h-1zM132 140h2v1h-2zM119 141h2v1h-2zM131 141h1v1h-1zM118 142h1v1h-1zM130 142h1v1h-1zM117 143h1v1h-1zM129 143h1v1h-1zM116 144h1v1h-1zM127 144h2v1h-2zM114 145h2v1h-2zM126 145h1v1h-1zM113 146h1v1h-1zM124 146h2v1h-2zM112 147h1v1h-1zM123 147h1v1h-1zM110 148h1v1h-1zM121 148h2v1h-2zM108 149h2v1h-2zM120 149h1v1h-1zM107 150h1v1h-1zM118 150h2v1h-2zM105 151h2v1h-2zM116 151h2v1h-2zM103 152h2v1h-2zM114 152h2v1h-2zM102 153h1v1h-1zM112 153h1v1h-1zM102 154h1v1h-1zM109 154h2v1h-2zM103 155h1v1h-1zM107 155h2v1h-2zM104 156h2v1h-2z"/><path fill="#d200ff" d="M141 26h1v1h-1zM143 29h1v1h-1zM144 30h1v1h-1zM144 31h2v1h-2zM145 32h1v1h-1zM145 33h2v1h-2zM146 34h2v1h-2zM146 35h2v1h-2zM147 36h2v1h-2zM147 37h1v1h-1zM149 37h1v1h-1zM149 38h1v1h-1zM148 39h1v1h-1zM150 39h1v1h-1zM148 40h1v1h-1zM150 40h1v1h-1zM77 41h5v1h-5zM149 41h1v1h-1zM151 41h1v1h-1zM72 42h1v1h-1zM86 42h1v1h-1zM149 42h1v1h-1zM70 43h1v1h-1zM88 43h1v1h-1zM149 43h1v1h-1zM152 43h1v1h-1zM90 44h1v1h-1zM150 44h1v1h-1zM67 45h1v1h-1zM91 45h1v1h-1zM150 45h1v1h-1zM153 45h1v1h-1zM66 46h1v1h-1zM92 46h1v1h-1zM150 46h1v1h-1zM65 47h1v1h-1zM151 47h1v1h-1zM154 47h1v1h-1zM151 48h1v1h-1zM154 48h1v1h-1zM95 49h1v1h-1zM151 49h1v1h-1zM155 49h1v1h-1zM95 50h1v1h-1zM152 50h1v1h-1zM155 50h1v1h-1zM95 51h1v1h-1zM152 51h1v1h-1zM93 52h1v1h-1zM152 52h1v1h-1zM156 52h1v1h-1zM92 53h1v1h-1zM152 53h1v1h-1zM156 53h1v1h-1zM90 54h1v1h-1zM153 55h1v1h-1zM157 55h1v1h-1zM66 56h1v1h-1zM87 56h1v1h-1zM153 56h1v1h-1zM157 56h1v1h-1zM86 57h1v1h-1zM153 57h1v1h-1zM85 58h1v1h-1zM153 58h1v1h-1zM158 58h1v1h-1zM153 59h1v1h-1zM158 59h1v1h-1zM69 60h1v1h-1zM153 60h1v1h-1zM158 60h1v1h-1zM84 61h1v1h-1zM153 61h1v1h-1zM70 62h1v1h-1zM84 62h1v1h-1zM159 62h1v1h-1zM159 63h1v1h-1zM159 64h1v1h-1zM159 65h1v1h-1zM160 67h1v1h-1zM160 68h1v1h-1zM160 69h1v1h-1zM160 70h1v1h-1zM153 71h1v1h-1zM160 71h1v1h-1zM153 72h1v1h-1zM160 72h1v1h-1zM153 73h1v1h-1zM153 74h1v1h-1zM153 75h1v1h-1zM153 76h1v1h-1zM153 77h1v1h-1zM161 77h1v1h-1zM153 78h1v1h-1zM161 78h1v1h-1zM153 79h1v1h-1zM161 79h1v1h-1zM153 80h1v1h-1zM161 80h1v1h-1zM153 81h1v1h-1zM161 81h1v1h-1zM152 83h1v1h-1zM152 84h1v1h-1zM152 85h1v1h-1zM152 86h1v1h-1zM160 87h1v1h-1zM151 88h1v1h-1zM160 88h1v1h-1zM151 89h1v1h-1zM160 89h1v1h-1zM151 90h1v1h-1zM160 90h1v1h-1zM150 91h1v1h-1zM160 91h1v1h-1zM150 92h1v1h-1zM160 92h1v1h-1zM150 93h1v1h-1zM149 94h1v1h-1zM149 95h1v1h-1zM159 95h1v1h-1zM148 96h1v1h-1zM159 96h1v1h-1zM148 97h1v1h-1zM159 97h1v1h-1zM147 99h1v1h-1zM158 99h1v1h-1zM147 100h1v1h-1zM158 100h1v1h-1zM146 101h1v1h-1zM158 101h1v1h-1zM146 102h1v1h-1zM157 103h1v1h-1zM145 104h1v1h-1zM157 104h1v1h-1zM145 105h1v1h-1zM156 106h1v1h-1zM144 107h1v1h-1zM156 107h1v1h-1zM144 108h1v1h-1zM155 109h1v1h-1zM143 110h1v1h-1zM155 110h1v1h-1zM143 111h1v1h-1zM154 111h1v1h-1zM142 112h1v1h-1zM154 112h1v1h-1zM142 113h1v1h-1zM141 114h1v1h-1zM153 114h1v1h-1zM141 115h1v1h-1zM140 116h1v1h-1zM152 116h1v1h-1zM140 117h1v1h-1zM152 117h1v1h-1zM139 118h1v1h-1zM151 118h1v1h-1zM138 119h1v1h-1zM150 119h1v1h-1zM138 120h1v1h-1zM150 120h1v1h-1zM137 121h1v1h-1zM149 121h1v1h-1zM136 122h1v1h-1zM149 122h1v1h-1zM136 123h1v1h-1zM148 123h1v1h-1zM135 124h1v1h-1zM147 124h1v1h-1zM134 125h1v1h-1zM147 125h1v1h-1zM133 126h1v1h-1zM146 126h1v1h-1zM132 127h1v1h-1zM145 127h1v1h-1zM132 128h1v1h-1zM145 128h1v1h-1zM131 129h1v1h-1zM144 129h1v1h-1zM130 130h1v1h-1zM143 130h1v1h-1zM129 131h1v1h-1zM142 131h1v1h-1zM128 132h1v1h-1zM141 132h1v1h-1zM127 133h1v1h-1zM141 133h1v1h-1zM126 134h1v1h-1zM140 134h1v1h-1zM125 135h1v1h-1zM139 135h1v1h-1zM124 136h1v1h-1zM138 136h1v1h-1zM123 137h1v1h-1zM137 137h1v1h-1zM122 138h1v1h-1zM136 138h1v1h-1zM121 139h1v1h-1zM135 139h1v1h-1zM119 140h2v1h-2zM134 140h1v1h-1zM118 141h1v1h-1zM132 141h2v1h-2zM117 142h1v1h-1zM131 142h1v1h-1zM116 143h1v1h-1zM130 143h1v1h-1zM114 144h2v1h-2zM129 144h1v1h-1zM113 145h1v1h-1zM127 145h2v1h-2zM112 146h1v1h-1zM126 146h1v1h-1zM110 147h2v1h-2zM124 147h2v1h-2zM108 148h2v1h-2zM123 148h1v1h-1zM107 149h1v1h-1zM121 149h2v1h-2zM105 150h2v1h-2zM120 150h1v1h-1zM104 151h1v1h-1zM118 151h1v1h-1zM102 152h1v1h-1zM116 152h1v1h-1zM100 153h2v1h-2zM113 153h2v1h-2zM100 154h2v1h-2zM111 154h2v1h-2zM102 155h1v1h-1zM109 155h2v1h-2zM103 156h1v1h-1zM106 156h2v1h-2zM104 157h1v1h-1z"/><path fill="#d000ff" d="M135 19h1v1h-1zM136 20h1v1h-1zM137 21h1v1h-1zM138 22h1v1h-1zM138 23h2v1h-2zM139 24h2v1h-2zM140 25h2v1h-2zM140 26h1v1h-1zM142 26h1v1h-1zM141 27h2v1h-2zM142 28h2v1h-2zM142 29h1v1h-1zM144 29h1v1h-1zM143 30h1v1h-1zM145 30h1v1h-1zM143 31h1v1h-1zM146 31h1v1h-1zM144 32h1v1h-1zM146 32h1v1h-1zM144 33h1v1h-1zM147 33h1v1h-1zM145 34h1v1h-1zM148 34h1v1h-1zM145 35h1v1h-1zM148 35h1v1h-1zM146 36h1v1h-1zM149 36h1v1h-1zM146 37h1v1h-1zM147 38h1v1h-1zM150 38h1v1h-1zM147 39h1v1h-1zM151 39h1v1h-1zM147 40h1v1h-1zM151 40h1v1h-1zM75 41h2v1h-2zM82 41h2v1h-2zM148 41h1v1h-1zM152 41h1v1h-1zM71 42h1v1h-1zM87 42h1v1h-1zM148 42h1v1h-1zM152 42h1v1h-1zM89 43h1v1h-1zM153 43h1v1h-1zM68 44h1v1h-1zM149 44h1v1h-1zM153 44h1v1h-1zM92 45h1v1h-1zM149 45h1v1h-1zM154 45h1v1h-1zM93 46h1v1h-1zM154 46h1v1h-1zM94 47h1v1h-1zM150 47h1v1h-1zM155 47h1v1h-1zM64 48h1v1h-1zM95 48h1v1h-1zM150 48h1v1h-1zM155 48h1v1h-1zM63 49h1v1h-1zM151 50h1v1h-1zM156 50h1v1h-1zM62 51h1v1h-1zM96 51h1v1h-1zM151 51h1v1h-1zM156 51h1v1h-1zM62 52h1v1h-1zM94 52h1v1h-1zM151 52h1v1h-1zM157 52h1v1h-1zM62 53h1v1h-1zM157 53h1v1h-1zM62 54h1v1h-1zM91 54h1v1h-1zM152 54h1v1h-1zM157 54h1v1h-1zM64 55h1v1h-1zM89 55h1v1h-1zM152 55h1v1h-1zM158 55h1v1h-1zM88 56h1v1h-1zM152 56h1v1h-1zM158 56h1v1h-1zM67 57h1v1h-1zM152 57h1v1h-1zM158 57h1v1h-1zM68 58h1v1h-1zM159 58h1v1h-1zM85 59h1v1h-1zM159 59h1v1h-1zM159 60h1v1h-1zM69 61h1v1h-1zM159 61h1v1h-1zM153 62h1v1h-1zM71 63h1v1h-1zM153 63h1v1h-1zM160 63h1v1h-1zM153 64h1v1h-1zM160 64h1v1h-1zM153 65h1v1h-1zM160 65h1v1h-1zM153 66h1v1h-1zM160 66h1v1h-1zM153 67h1v1h-1zM153 68h1v1h-1zM153 69h1v1h-1zM161 69h1v1h-1zM153 70h1v1h-1zM161 70h1v1h-1zM161 71h1v1h-1zM161 72h1v1h-1zM161 73h1v1h-1zM161 74h1v1h-1zM161 75h1v1h-1zM152 76h1v1h-1zM161 76h1v1h-1zM152 77h1v1h-1zM152 78h1v1h-1zM152 79h1v1h-1zM152 80h1v1h-1zM152 81h1v1h-1zM152 82h1v1h-1zM161 82h1v1h-1zM161 83h1v1h-1zM151 84h1v1h-1zM161 84h1v1h-1zM151 85h1v1h-1zM161 85h1v1h-1zM151 86h1v1h-1zM161 86h1v1h-1zM151 87h1v1h-1zM161 87h1v1h-1zM161 88h1v1h-1zM150 89h1v1h-1zM161 89h1v1h-1zM150 90h1v1h-1zM161 90h1v1h-1zM161 91h1v1h-1zM149 92h1v1h-1zM149 93h1v1h-1zM160 93h1v1h-1zM148 94h1v1h-1zM160 94h1v1h-1zM148 95h1v1h-1zM160 95h1v1h-1zM160 96h1v1h-1zM147 97h1v1h-1zM147 98h1v1h-1zM159 98h1v1h-1zM146 99h1v1h-1zM159 99h1v1h-1zM146 100h1v1h-1zM159 100h1v1h-1zM145 102h1v1h-1zM158 102h1v1h-1zM145 103h1v1h-1zM158 103h1v1h-1zM158 104h1v1h-1zM144 105h1v1h-1zM157 105h1v1h-1zM144 106h1v1h-1zM157 106h1v1h-1zM157 107h1v1h-1zM143 108h1v1h-1zM156 108h1v1h-1zM143 109h1v1h-1zM156 109h1v1h-1zM142 110h1v1h-1zM142 111h1v1h-1zM155 111h1v1h-1zM155 112h1v1h-1zM141 113h1v1h-1zM154 113h1v1h-1zM140 114h1v1h-1zM154 114h1v1h-1zM140 115h1v1h-1zM153 115h1v1h-1zM139 116h1v1h-1zM153 116h1v1h-1zM139 117h1v1h-1zM138 118h1v1h-1zM152 118h1v1h-1zM151 119h1v1h-1zM137 120h1v1h-1zM151 120h1v1h-1zM136 121h1v1h-1zM150 121h1v1h-1zM135 122h1v1h-1zM150 122h1v1h-1zM135 123h1v1h-1zM149 123h1v1h-1zM134 124h1v1h-1zM148 124h1v1h-1zM133 125h1v1h-1zM148 125h1v1h-1zM132 126h1v1h-1zM147 126h1v1h-1zM131 127h1v1h-1zM146 127h1v1h-1zM131 128h1v1h-1zM130 129h1v1h-1zM145 129h1v1h-1zM129 130h1v1h-1zM144 130h1v1h-1zM128 131h1v1h-1zM143 131h1v1h-1zM127 132h1v1h-1zM142 132h1v1h-1zM126 133h1v1h-1zM142 133h1v1h-1zM125 134h1v1h-1zM141 134h1v1h-1zM124 135h1v1h-1zM140 135h1v1h-1zM123 136h1v1h-1zM139 136h1v1h-1zM122 137h1v1h-1zM138 137h1v1h-1zM121 138h1v1h-1zM137 138h1v1h-1zM119 139h2v1h-2zM136 139h1v1h-1zM118 140h1v1h-1zM135 140h1v1h-1zM117 141h1v1h-1zM134 141h1v1h-1zM116 142h1v1h-1zM132 142h2v1h-2zM114 143h2v1h-2zM131 143h1v1h-1zM113 144h1v1h-1zM130 144h1v1h-1zM112 145h1v1h-1zM129 145h1v1h-1zM110 146h2v1h-2zM127 146h2v1h-2zM109 147h1v1h-1zM126 147h1v1h-1zM107 148h1v1h-1zM124 148h2v1h-2zM105 149h2v1h-2zM123 149h1v1h-1zM104 150h1v1h-1zM121 150h2v1h-2zM102 151h2v1h-2zM119 151h2v1h-2zM100 152h2v1h-2zM117 152h2v1h-2zM99 153h1v1h-1zM115 153h2v1h-2zM99 154h1v1h-1zM113 154h2v1h-2zM100 155h2v1h-2zM111 155h2v1h-2zM102 156h1v1h-1zM108 156h2v1h-2zM103 157h1v1h-1zM105 157h3v1h-3zM103 158h2v1h-2z"/><path fill="#cd00ff" d="M132 16h1v1h-1zM133 17h1v1h-1zM134 18h1v1h-1zM135 20h1v1h-1zM136 21h1v1h-1zM137 22h1v1h-1zM137 23h1v1h-1zM138 24h1v1h-1zM139 25h1v1h-1zM139 26h1v1h-1zM140 27h1v1h-1zM143 27h1v1h-1zM141 28h1v1h-1zM144 28h1v1h-1zM141 29h1v1h-1zM145 29h1v1h-1zM142 30h1v1h-1zM143 32h1v1h-1zM147 32h1v1h-1zM148 33h1v1h-1zM144 34h1v1h-1zM149 35h1v1h-1zM145 36h1v1h-1zM150 36h1v1h-1zM145 37h1v1h-1zM150 37h1v1h-1zM146 38h1v1h-1zM151 38h1v1h-1zM146 39h1v1h-1zM152 40h1v1h-1zM74 41h1v1h-1zM84 41h2v1h-2zM147 41h1v1h-1zM153 41h1v1h-1zM88 42h1v1h-1zM147 42h1v1h-1zM153 42h1v1h-1zM69 43h1v1h-1zM90 43h1v1h-1zM148 43h1v1h-1zM154 43h1v1h-1zM91 44h1v1h-1zM148 44h1v1h-1zM154 44h1v1h-1zM66 45h1v1h-1zM148 45h1v1h-1zM155 45h1v1h-1zM94 46h1v1h-1zM149 46h1v1h-1zM155 46h1v1h-1zM149 47h1v1h-1zM149 48h1v1h-1zM156 48h1v1h-1zM96 49h1v1h-1zM150 49h1v1h-1zM156 49h1v1h-1zM62 50h1v1h-1zM96 50h1v1h-1zM150 50h1v1h-1zM157 50h1v1h-1zM150 51h1v1h-1zM157 51h1v1h-1zM95 52h1v1h-1zM93 53h1v1h-1zM151 53h1v1h-1zM158 53h1v1h-1zM92 54h1v1h-1zM151 54h1v1h-1zM158 54h1v1h-1zM63 55h1v1h-1zM90 55h1v1h-1zM151 55h1v1h-1zM65 56h1v1h-1zM151 56h1v1h-1zM159 56h1v1h-1zM87 57h1v1h-1zM159 57h1v1h-1zM86 58h1v1h-1zM152 58h1v1h-1zM68 59h1v1h-1zM152 59h1v1h-1zM160 59h1v1h-1zM85 60h1v1h-1zM152 60h1v1h-1zM160 60h1v1h-1zM152 61h1v1h-1zM160 61h1v1h-1zM152 62h1v1h-1zM160 62h1v1h-1zM152 63h1v1h-1zM152 64h1v1h-1zM161 64h1v1h-1zM152 65h1v1h-1zM161 65h1v1h-1zM152 66h1v1h-1zM161 66h1v1h-1zM152 67h1v1h-1zM161 67h1v1h-1zM152 68h1v1h-1zM161 68h1v1h-1zM152 69h1v1h-1zM152 70h1v1h-1zM162 70h1v1h-1zM152 71h1v1h-1zM162 71h1v1h-1zM152 72h1v1h-1zM162 72h1v1h-1zM152 73h1v1h-1zM162 73h1v1h-1zM152 74h1v1h-1zM162 74h1v1h-1zM152 75h1v1h-1zM162 75h1v1h-1zM162 76h1v1h-1zM162 77h1v1h-1zM151 78h1v1h-1zM162 78h1v1h-1zM151 79h1v1h-1zM162 79h1v1h-1zM151 80h1v1h-1zM162 80h1v1h-1zM151 81h1v1h-1zM162 81h1v1h-1zM151 82h1v1h-1zM162 82h1v1h-1zM151 83h1v1h-1zM162 83h1v1h-1zM162 84h1v1h-1zM150 85h1v1h-1zM162 85h1v1h-1zM150 86h1v1h-1zM162 86h1v1h-1zM150 87h1v1h-1zM162 87h1v1h-1zM150 88h1v1h-1zM162 88h1v1h-1zM149 89h1v1h-1zM162 89h1v1h-1zM149 90h1v1h-1zM149 91h1v1h-1zM148 92h1v1h-1zM161 92h1v1h-1zM148 93h1v1h-1zM161 93h1v1h-1zM161 94h1v1h-1zM147 95h1v1h-1zM161 95h1v1h-1zM147 96h1v1h-1zM146 97h1v1h-1zM160 97h1v1h-1zM146 98h1v1h-1zM160 98h1v1h-1zM145 99h1v1h-1zM160 99h1v1h-1zM145 100h1v1h-1zM160 100h1v1h-1zM145 101h1v1h-1zM159 101h1v1h-1zM144 102h1v1h-1zM159 102h1v1h-1zM144 103h1v1h-1zM159 103h1v1h-1zM144 104h1v1h-1zM143 105h1v1h-1zM158 105h1v1h-1zM143 106h1v1h-1zM158 106h1v1h-1zM143 107h1v1h-1zM142 108h1v1h-1zM157 108h1v1h-1zM142 109h1v1h-1zM157 109h1v1h-1zM156 110h1v1h-1zM141 111h1v1h-1zM156 111h1v1h-1zM141 112h1v1h-1zM140 113h1v1h-1zM155 113h1v1h-1zM155 114h1v1h-1zM139 115h1v1h-1zM154 115h1v1h-1zM138 116h1v1h-1zM154 116h1v1h-1zM138 117h1v1h-1zM153 117h1v1h-1zM137 118h1v1h-1zM153 118h1v1h-1zM137 119h1v1h-1zM152 119h1v1h-1zM136 120h1v1h-1zM135 121h1v1h-1zM151 121h1v1h-1zM134 122h1v1h-1zM134 123h1v1h-1zM150 123h1v1h-1zM133 124h1v1h-1zM149 124h1v1h-1zM132 125h1v1h-1zM131 126h1v1h-1zM148 126h1v1h-1zM130 127h1v1h-1zM147 127h1v1h-1zM129 128h2v1h-2zM146 128h1v1h-1zM129 129h1v1h-1zM128 130h1v1h-1zM145 130h1v1h-1zM127 131h1v1h-1zM144 131h1v1h-1zM126 132h1v1h-1zM143 132h1v1h-1zM125 133h1v1h-1zM124 134h1v1h-1zM123 135h1v1h-1zM122 136h1v1h-1zM120 137h2v1h-2zM119 138h2v1h-2zM118 139h1v1h-1zM117 140h1v1h-1zM116 141h1v1h-1zM114 142h2v1h-2zM113 143h1v1h-1zM132 143h1v1h-1zM112 144h1v1h-1zM131 144h1v1h-1zM110 145h2v1h-2zM130 145h1v1h-1zM109 146h1v1h-1zM107 147h2v1h-2zM127 147h1v1h-1zM105 148h2v1h-2zM126 148h1v1h-1zM104 149h1v1h-1zM124 149h1v1h-1zM102 150h2v1h-2zM123 150h1v1h-1zM101 151h1v1h-1zM121 151h1v1h-1zM99 152h1v1h-1zM119 152h1v1h-1zM97 153h2v1h-2zM117 153h2v1h-2zM97 154h2v1h-2zM115 154h2v1h-2zM99 155h1v1h-1zM113 155h2v1h-2zM100 156h2v1h-2zM110 156h2v1h-2zM102 157h1v1h-1zM108 157h2v1h-2zM102 158h1v1h-1zM105 158h2v1h-2zM103 159h1v1h-1z"/><path fill="#ca00ff" d="M130 14h1v1h-1zM131 15h1v1h-1zM132 17h1v1h-1zM133 18h1v1h-1zM134 19h1v1h-1zM134 20h1v1h-1zM135 21h1v1h-1zM136 22h1v1h-1zM136 23h1v1h-1zM137 24h1v1h-1zM138 25h1v1h-1zM139 27h1v1h-1zM140 28h1v1h-1zM140 29h1v1h-1zM141 30h1v1h-1zM142 31h1v1h-1zM142 32h1v1h-1zM143 33h1v1h-1zM143 34h1v1h-1zM144 35h1v1h-1zM144 36h1v1h-1zM145 38h1v1h-1zM145 39h1v1h-1zM78 40h4v1h-4zM146 40h1v1h-1zM73 41h1v1h-1zM86 41h2v1h-2zM146 41h1v1h-1zM70 42h1v1h-1zM89 42h1v1h-1zM147 43h1v1h-1zM67 44h1v1h-1zM92 44h1v1h-1zM147 44h1v1h-1zM93 45h1v1h-1zM65 46h1v1h-1zM148 46h1v1h-1zM64 47h1v1h-1zM95 47h1v1h-1zM148 47h1v1h-1zM96 48h1v1h-1zM149 49h1v1h-1zM149 50h1v1h-1zM97 51h1v1h-1zM96 52h1v1h-1zM150 52h1v1h-1zM94 53h1v1h-1zM150 53h1v1h-1zM93 54h1v1h-1zM150 54h1v1h-1zM91 55h1v1h-1zM150 55h1v1h-1zM89 56h1v1h-1zM66 57h1v1h-1zM151 57h1v1h-1zM151 58h1v1h-1zM86 59h1v1h-1zM151 59h1v1h-1zM68 60h1v1h-1zM151 60h1v1h-1zM85 61h1v1h-1zM151 61h1v1h-1zM69 62h1v1h-1zM85 62h1v1h-1zM151 62h1v1h-1zM70 63h1v1h-1zM151 63h1v1h-1zM161 63h1v1h-1zM151 64h1v1h-1zM151 65h1v1h-1zM151 66h1v1h-1zM151 67h1v1h-1zM151 68h1v1h-1zM151 69h1v1h-1zM151 70h1v1h-1zM151 71h1v1h-1zM151 72h1v1h-1zM151 73h1v1h-1zM151 74h1v1h-1zM151 75h1v1h-1zM151 76h1v1h-1zM151 77h1v1h-1zM150 81h1v1h-1zM150 82h1v1h-1zM150 83h1v1h-1zM150 84h1v1h-1zM149 86h1v1h-1zM149 87h1v1h-1zM149 88h1v1h-1zM148 90h1v1h-1zM148 91h1v1h-1zM147 93h1v1h-1zM147 94h1v1h-1zM146 95h1v1h-1zM146 96h1v1h-1zM161 96h1v1h-1zM145 97h1v1h-1zM145 98h1v1h-1zM144 100h1v1h-1zM144 101h1v1h-1zM143 103h1v1h-1zM143 104h1v1h-1zM142 106h1v1h-1zM142 107h1v1h-1zM141 109h1v1h-1zM141 110h1v1h-1zM140 111h1v1h-1zM140 112h1v1h-1zM139 113h1v1h-1zM139 114h1v1h-1zM138 115h1v1h-1zM137 117h1v1h-1zM136 118h1v1h-1zM136 119h1v1h-1zM135 120h1v1h-1zM134 121h1v1h-1zM133 122h1v1h-1zM133 123h1v1h-1zM132 124h1v1h-1zM131 125h1v1h-1zM130 126h1v1h-1zM129 127h1v1h-1zM128 128h1v1h-1zM128 129h1v1h-1zM127 130h1v1h-1zM126 131h1v1h-1zM125 132h1v1h-1zM124 133h1v1h-1zM123 134h1v1h-1zM121 135h2v1h-2zM120 136h2v1h-2zM119 137h1v1h-1zM118 138h1v1h-1zM117 139h1v1h-1zM116 140h1v1h-1zM114 141h2v1h-2zM113 142h1v1h-1zM112 143h1v1h-1zM110 144h2v1h-2zM109 145h1v1h-1zM107 146h2v1h-2zM106 147h1v1h-1zM104 148h1v1h-1zM102 149h2v1h-2zM101 150h1v1h-1zM99 151h2v1h-2zM97 152h2v1h-2zM95 153h2v1h-2zM94 154h3v1h-3zM97 155h2v1h-2zM99 156h1v1h-1zM100 157h2v1h-2zM101 158h1v1h-1zM102 159h1v1h-1z"/><path fill="#c800ff" d="M128 13h1v1h-1zM129 14h1v1h-1zM130 15h1v1h-1zM131 16h1v1h-1zM131 17h1v1h-1zM132 18h1v1h-1zM133 19h1v1h-1zM133 20h1v1h-1zM134 21h1v1h-1zM135 22h1v1h-1zM135 23h1v1h-1zM136 24h1v1h-1zM137 25h1v1h-1zM138 26h1v1h-1zM138 27h1v1h-1zM139 28h1v1h-1zM140 30h1v1h-1zM141 31h1v1h-1zM141 32h1v1h-1zM142 33h1v1h-1zM142 34h1v1h-1zM143 35h1v1h-1zM143 36h1v1h-1zM144 37h1v1h-1zM144 38h1v1h-1zM76 40h2v1h-2zM82 40h3v1h-3zM145 40h1v1h-1zM72 41h1v1h-1zM88 41h1v1h-1zM145 41h1v1h-1zM90 42h1v1h-1zM146 42h1v1h-1zM68 43h1v1h-1zM91 43h1v1h-1zM146 43h1v1h-1zM146 44h1v1h-1zM94 45h1v1h-1zM147 45h1v1h-1zM95 46h1v1h-1zM147 46h1v1h-1zM96 47h1v1h-1zM63 48h1v1h-1zM148 48h1v1h-1zM62 49h1v1h-1zM97 49h1v1h-1zM148 49h1v1h-1zM97 50h1v1h-1zM148 50h1v1h-1zM61 51h1v1h-1zM149 51h1v1h-1zM61 52h1v1h-1zM97 52h1v1h-1zM149 52h1v1h-1zM61 53h1v1h-1zM95 53h1v1h-1zM149 53h1v1h-1zM149 54h1v1h-1zM62 55h1v1h-1zM92 55h1v1h-1zM64 56h1v1h-1zM90 56h1v1h-1zM150 56h1v1h-1zM88 57h1v1h-1zM150 57h1v1h-1zM67 58h1v1h-1zM87 58h1v1h-1zM150 58h1v1h-1zM150 59h1v1h-1zM150 60h1v1h-1zM150 61h1v1h-1zM150 62h1v1h-1zM85 63h1v1h-1zM150 63h1v1h-1zM71 64h1v1h-1zM150 64h1v1h-1zM150 67h1v1h-1zM150 68h1v1h-1zM150 69h1v1h-1zM150 70h1v1h-1zM150 71h1v1h-1zM150 72h1v1h-1zM150 73h1v1h-1zM150 74h1v1h-1zM150 75h1v1h-1zM150 76h1v1h-1zM150 77h1v1h-1zM150 78h1v1h-1zM150 79h1v1h-1zM150 80h1v1h-1zM149 82h1v1h-1zM149 83h1v1h-1zM149 84h1v1h-1zM149 85h1v1h-1zM148 87h1v1h-1zM148 88h1v1h-1zM148 89h1v1h-1zM147 91h1v1h-1zM147 92h1v1h-1zM146 93h1v1h-1zM146 94h1v1h-1zM145 95h1v1h-1zM145 96h1v1h-1zM144 98h1v1h-1zM144 99h1v1h-1zM143 100h1v1h-1zM143 101h1v1h-1zM143 102h1v1h-1zM142 103h1v1h-1zM142 104h1v1h-1zM142 105h1v1h-1zM141 106h1v1h-1zM141 107h1v1h-1zM141 108h1v1h-1zM140 109h1v1h-1zM140 110h1v1h-1zM139 111h1v1h-1zM139 112h1v1h-1zM138 113h1v1h-1zM138 114h1v1h-1zM137 115h1v1h-1zM137 116h1v1h-1zM136 117h1v1h-1zM135 118h1v1h-1zM135 119h1v1h-1zM134 120h1v1h-1zM133 121h1v1h-1zM132 123h1v1h-1zM131 124h1v1h-1zM130 125h1v1h-1zM129 126h1v1h-1zM128 127h1v1h-1zM127 129h1v1h-1zM126 130h1v1h-1zM125 131h1v1h-1zM124 132h1v1h-1zM123 133h1v1h-1zM121 134h2v1h-2zM120 135h1v1h-1zM119 136h1v1h-1zM118 137h1v1h-1zM117 138h1v1h-1zM116 139h1v1h-1zM115 140h1v1h-1zM113 141h1v1h-1zM112 142h1v1h-1zM111 143h1v1h-1zM109 144h1v1h-1zM107 145h2v1h-2zM106 146h1v1h-1zM104 147h2v1h-2zM103 148h1v1h-1zM101 149h1v1h-1zM99 150h2v1h-2zM97 151h2v1h-2zM95 152h2v1h-2zM92 153h3v1h-3zM92 154h2v1h-2zM95 155h2v1h-2zM98 156h1v1h-1zM99 157h1v1h-1zM100 158h1v1h-1zM101 159h1v1h-1z"/><path fill="#c500ff" d="M126 11h1v1h-1zM127 12h1v1h-1zM127 13h1v1h-1zM128 14h1v1h-1zM129 15h1v1h-1zM130 16h1v1h-1zM130 17h1v1h-1zM131 18h1v1h-1zM132 19h1v1h-1zM132 20h1v1h-1zM133 21h1v1h-1zM134 22h1v1h-1zM135 24h1v1h-1zM136 25h1v1h-1zM137 26h1v1h-1zM137 27h1v1h-1zM138 28h1v1h-1zM139 29h1v1h-1zM139 30h1v1h-1zM140 31h1v1h-1zM140 32h1v1h-1zM141 33h1v1h-1zM142 35h1v1h-1zM143 37h1v1h-1zM143 38h1v1h-1zM144 39h1v1h-1zM74 40h2v1h-2zM85 40h2v1h-2zM144 40h1v1h-1zM71 41h1v1h-1zM89 41h1v1h-1zM69 42h1v1h-1zM145 42h1v1h-1zM92 43h1v1h-1zM145 43h1v1h-1zM66 44h1v1h-1zM93 44h1v1h-1zM65 45h1v1h-1zM95 45h1v1h-1zM146 45h1v1h-1zM64 46h1v1h-1zM96 46h1v1h-1zM146 46h1v1h-1zM147 47h1v1h-1zM97 48h1v1h-1zM147 48h1v1h-1zM147 49h1v1h-1zM61 50h1v1h-1zM98 51h1v1h-1zM148 51h1v1h-1zM148 52h1v1h-1zM96 53h1v1h-1zM148 53h1v1h-1zM61 54h1v1h-1zM94 54h1v1h-1zM93 55h1v1h-1zM149 55h1v1h-1zM91 56h1v1h-1zM149 56h1v1h-1zM65 57h1v1h-1zM89 57h1v1h-1zM149 57h1v1h-1zM149 58h1v1h-1zM149 59h1v1h-1zM86 60h1v1h-1zM68 61h1v1h-1zM86 61h1v1h-1zM69 63h1v1h-1zM150 65h1v1h-1zM150 66h1v1h-1zM149 73h1v1h-1zM149 74h1v1h-1zM149 75h1v1h-1zM149 76h1v1h-1zM149 77h1v1h-1zM149 78h1v1h-1zM149 79h1v1h-1zM149 80h1v1h-1zM149 81h1v1h-1zM148 84h1v1h-1zM148 85h1v1h-1zM148 86h1v1h-1zM147 88h1v1h-1zM147 89h1v1h-1zM147 90h1v1h-1zM146 91h1v1h-1zM146 92h1v1h-1zM145 94h1v1h-1zM144 96h1v1h-1zM144 97h1v1h-1zM143 98h1v1h-1zM143 99h1v1h-1zM142 101h1v1h-1zM142 102h1v1h-1zM141 104h1v1h-1zM141 105h1v1h-1zM140 107h1v1h-1zM140 108h1v1h-1zM139 109h1v1h-1zM139 110h1v1h-1zM138 112h1v1h-1zM137 114h1v1h-1zM136 115h1v1h-1zM136 116h1v1h-1zM135 117h1v1h-1zM134 118h1v1h-1zM134 119h1v1h-1zM133 120h1v1h-1zM132 121h1v1h-1zM132 122h1v1h-1zM131 123h1v1h-1zM130 124h1v1h-1zM129 125h1v1h-1zM128 126h1v1h-1zM127 127h1v1h-1zM126 128h2v1h-2zM125 129h2v1h-2zM124 130h2v1h-2zM123 131h2v1h-2zM122 132h2v1h-2zM121 133h2v1h-2zM120 134h1v1h-1zM119 135h1v1h-1zM118 136h1v1h-1zM117 137h1v1h-1zM116 138h1v1h-1zM115 139h1v1h-1zM113 140h2v1h-2zM112 141h1v1h-1zM111 142h1v1h-1zM109 143h2v1h-2zM108 144h1v1h-1zM106 145h1v1h-1zM104 146h2v1h-2zM103 147h1v1h-1zM101 148h2v1h-2zM100 149h1v1h-1zM98 150h1v1h-1zM96 151h1v1h-1zM93 152h2v1h-2zM89 153h3v1h-3zM90 154h2v1h-2zM93 155h2v1h-2zM95 156h3v1h-3zM98 157h1v1h-1zM99 158h1v1h-1zM100 159h1v1h-1z"/><path fill="#c200ff" d="M125 11h1v1h-1zM126 12h1v1h-1zM126 13h1v1h-1zM127 14h1v1h-1zM128 15h1v1h-1zM129 16h1v1h-1zM129 17h1v1h-1zM130 18h1v1h-1zM131 19h1v1h-1zM132 21h1v1h-1zM133 22h1v1h-1zM134 23h1v1h-1zM134 24h1v1h-1zM135 25h1v1h-1zM136 26h1v1h-1zM136 27h1v1h-1zM137 28h1v1h-1zM138 29h1v1h-1zM138 30h1v1h-1zM139 31h1v1h-1zM139 32h1v1h-1zM140 33h1v1h-1zM141 34h1v1h-1zM141 35h1v1h-1zM142 36h1v1h-1zM142 37h1v1h-1zM78 39h4v1h-4zM143 39h1v1h-1zM73 40h1v1h-1zM87 40h1v1h-1zM143 40h1v1h-1zM70 41h1v1h-1zM90 41h1v1h-1zM144 41h1v1h-1zM68 42h1v1h-1zM91 42h1v1h-1zM144 42h1v1h-1zM67 43h1v1h-1zM93 43h1v1h-1zM144 43h1v1h-1zM94 44h1v1h-1zM145 44h1v1h-1zM145 45h1v1h-1zM63 47h1v1h-1zM97 47h1v1h-1zM146 47h1v1h-1zM62 48h1v1h-1zM146 48h1v1h-1zM98 49h1v1h-1zM146 49h1v1h-1zM98 50h1v1h-1zM147 50h1v1h-1zM147 51h1v1h-1zM98 52h1v1h-1zM147 52h1v1h-1zM97 53h1v1h-1zM95 54h2v1h-2zM148 54h1v1h-1zM61 55h1v1h-1zM94 55h1v1h-1zM148 55h1v1h-1zM63 56h1v1h-1zM92 56h1v1h-1zM148 56h1v1h-1zM90 57h1v1h-1zM148 57h1v1h-1zM66 58h1v1h-1zM88 58h1v1h-1zM67 59h1v1h-1zM87 59h1v1h-1zM149 60h1v1h-1zM149 61h1v1h-1zM68 62h1v1h-1zM86 62h1v1h-1zM149 62h1v1h-1zM86 63h1v1h-1zM149 63h1v1h-1zM70 64h1v1h-1zM149 64h1v1h-1zM149 65h1v1h-1zM149 66h1v1h-1zM149 67h1v1h-1zM149 68h1v1h-1zM149 69h1v1h-1zM149 70h1v1h-1zM149 71h1v1h-1zM149 72h1v1h-1zM148 77h1v1h-1zM148 78h1v1h-1zM148 79h1v1h-1zM148 80h1v1h-1zM148 81h1v1h-1zM148 82h1v1h-1zM148 83h1v1h-1zM147 85h1v1h-1zM147 86h1v1h-1zM147 87h1v1h-1zM146 89h1v1h-1zM146 90h1v1h-1zM145 91h1v1h-1zM145 92h1v1h-1zM145 93h1v1h-1zM144 94h1v1h-1zM144 95h1v1h-1zM143 96h1v1h-1zM143 97h1v1h-1zM142 99h1v1h-1zM142 100h1v1h-1zM141 102h1v1h-1zM141 103h1v1h-1zM140 104h1v1h-1zM140 105h1v1h-1zM140 106h1v1h-1zM139 107h1v1h-1zM139 108h1v1h-1zM138 110h1v1h-1zM138 111h1v1h-1zM137 112h1v1h-1zM137 113h1v1h-1zM136 114h1v1h-1zM135 115h1v1h-1zM135 116h1v1h-1zM134 117h1v1h-1zM133 119h1v1h-1zM132 120h1v1h-1zM131 121h1v1h-1zM131 122h1v1h-1zM130 123h1v1h-1zM129 124h1v1h-1zM128 125h1v1h-1zM127 126h1v1h-1zM126 127h1v1h-1zM125 128h1v1h-1zM124 129h1v1h-1zM123 130h1v1h-1zM122 131h1v1h-1zM121 132h1v1h-1zM120 133h1v1h-1zM119 134h1v1h-1zM118 135h1v1h-1zM117 136h1v1h-1zM116 137h1v1h-1zM115 138h1v1h-1zM113 139h2v1h-2zM112 140h1v1h-1zM111 141h1v1h-1zM109 142h2v1h-2zM108 143h1v1h-1zM106 144h2v1h-2zM105 145h1v1h-1zM103 146h1v1h-1zM101 147h2v1h-2zM100 148h1v1h-1zM98 149h2v1h-2zM96 150h2v1h-2zM93 151h3v1h-3zM90 152h3v1h-3zM88 153h1v1h-1zM89 154h1v1h-1zM90 155h3v1h-3zM93 156h2v1h-2zM96 157h2v1h-2zM98 158h1v1h-1zM99 159h1v1h-1zM100 160h1v1h-1z"/><path fill="#c000ff" d="M124 10h1v1h-1zM124 11h1v1h-1zM125 12h1v1h-1zM126 14h1v1h-1zM127 15h1v1h-1zM128 16h1v1h-1zM128 17h1v1h-1zM129 18h1v1h-1zM130 19h1v1h-1zM131 20h1v1h-1zM131 21h1v1h-1zM132 22h1v1h-1zM133 23h1v1h-1zM133 24h1v1h-1zM134 25h1v1h-1zM135 26h1v1h-1zM135 27h1v1h-1zM136 28h1v1h-1zM137 29h1v1h-1zM138 31h1v1h-1zM139 33h1v1h-1zM140 34h1v1h-1zM140 35h1v1h-1zM141 36h1v1h-1zM141 37h1v1h-1zM142 38h1v1h-1zM76 39h2v1h-2zM82 39h3v1h-3zM142 39h1v1h-1zM72 40h1v1h-1zM88 40h1v1h-1zM91 41h1v1h-1zM143 41h1v1h-1zM92 42h1v1h-1zM143 42h1v1h-1zM65 44h1v1h-1zM95 44h1v1h-1zM144 44h1v1h-1zM96 45h1v1h-1zM144 45h1v1h-1zM97 46h1v1h-1zM145 46h1v1h-1zM98 47h1v1h-1zM145 47h1v1h-1zM98 48h1v1h-1zM145 48h1v1h-1zM61 49h1v1h-1zM99 50h1v1h-1zM146 50h1v1h-1zM99 51h1v1h-1zM146 51h1v1h-1zM99 52h1v1h-1zM98 53h1v1h-1zM147 53h1v1h-1zM97 54h1v1h-1zM147 54h1v1h-1zM95 55h1v1h-1zM147 55h1v1h-1zM62 56h1v1h-1zM93 56h1v1h-1zM64 57h1v1h-1zM91 57h1v1h-1zM89 58h1v1h-1zM148 58h1v1h-1zM148 59h1v1h-1zM67 60h1v1h-1zM87 60h1v1h-1zM148 60h1v1h-1zM148 61h1v1h-1zM148 62h1v1h-1zM68 63h1v1h-1zM148 63h1v1h-1zM148 64h1v1h-1zM148 65h1v1h-1zM148 66h1v1h-1zM148 67h1v1h-1zM148 68h1v1h-1zM148 69h1v1h-1zM148 70h1v1h-1zM148 71h1v1h-1zM148 72h1v1h-1zM148 73h1v1h-1zM148 74h1v1h-1zM148 75h1v1h-1zM148 76h1v1h-1zM147 80h1v1h-1zM147 81h1v1h-1zM147 82h1v1h-1zM147 83h1v1h-1zM147 84h1v1h-1zM146 85h1v1h-1zM146 86h1v1h-1zM146 87h1v1h-1zM146 88h1v1h-1zM145 89h1v1h-1zM145 90h1v1h-1zM144 92h1v1h-1zM144 93h1v1h-1zM143 94h1v1h-1zM143 95h1v1h-1zM142 97h1v1h-1zM142 98h1v1h-1zM141 99h1v1h-1zM141 100h1v1h-1zM141 101h1v1h-1zM140 102h1v1h-1zM140 103h1v1h-1zM139 105h1v1h-1zM139 106h1v1h-1zM138 108h1v1h-1zM138 109h1v1h-1zM137 110h1v1h-1zM137 111h1v1h-1zM136 112h1v1h-1zM136 113h1v1h-1zM135 114h1v1h-1zM134 116h1v1h-1zM133 117h1v1h-1zM133 118h1v1h-1zM132 119h1v1h-1zM131 120h1v1h-1zM130 121h1v1h-1zM129 122h2v1h-2zM129 123h1v1h-1zM128 124h1v1h-1zM127 125h1v1h-1zM126 126h1v1h-1zM125 127h1v1h-1zM124 128h1v1h-1zM123 129h1v1h-1zM122 130h1v1h-1zM121 131h1v1h-1zM120 132h1v1h-1zM119 133h1v1h-1zM118 134h1v1h-1zM117 135h1v1h-1zM116 136h1v1h-1zM114 137h2v1h-2zM113 138h2v1h-2zM112 139h1v1h-1zM111 140h1v1h-1zM109 141h2v1h-2zM108 142h1v1h-1zM106 143h2v1h-2zM105 144h1v1h-1zM103 145h2v1h-2zM101 146h2v1h-2zM100 147h1v1h-1zM98 148h2v1h-2zM96 149h2v1h-2zM94 150h2v1h-2zM91 151h2v1h-2zM88 152h2v1h-2zM87 153h1v1h-1zM87 154h2v1h-2zM89 155h1v1h-1zM91 156h2v1h-2zM93 157h3v1h-3zM96 158h2v1h-2zM98 159h1v1h-1zM99 160h1v1h-1z"/><path fill="#bd00ff" d="M123 11h1v1h-1zM124 12h1v1h-1zM125 13h1v1h-1zM125 14h1v1h-1zM126 15h1v1h-1zM127 16h1v1h-1zM128 18h1v1h-1zM129 19h1v1h-1zM130 20h1v1h-1zM130 21h1v1h-1zM131 22h1v1h-1zM132 23h1v1h-1zM132 24h1v1h-1zM133 25h1v1h-1zM134 26h1v1h-1zM135 28h1v1h-1zM136 29h1v1h-1zM137 30h1v1h-1zM137 31h1v1h-1zM138 32h1v1h-1zM138 33h1v1h-1zM139 34h1v1h-1zM139 35h1v1h-1zM140 36h1v1h-1zM140 37h1v1h-1zM141 38h1v1h-1zM75 39h1v1h-1zM85 39h3v1h-3zM141 39h1v1h-1zM71 40h1v1h-1zM89 40h2v1h-2zM142 40h1v1h-1zM69 41h1v1h-1zM142 41h1v1h-1zM93 42h1v1h-1zM142 42h1v1h-1zM66 43h1v1h-1zM94 43h1v1h-1zM143 43h1v1h-1zM96 44h1v1h-1zM143 44h1v1h-1zM64 45h1v1h-1zM97 45h1v1h-1zM63 46h1v1h-1zM98 46h1v1h-1zM144 46h1v1h-1zM62 47h1v1h-1zM144 47h1v1h-1zM99 48h1v1h-1zM99 49h1v1h-1zM145 49h1v1h-1zM145 50h1v1h-1zM60 51h1v1h-1zM60 52h1v1h-1zM146 52h1v1h-1zM60 53h1v1h-1zM99 53h1v1h-1zM146 53h1v1h-1zM60 54h1v1h-1zM98 54h1v1h-1zM146 54h1v1h-1zM96 55h1v1h-1zM146 55h1v1h-1zM94 56h1v1h-1zM147 56h1v1h-1zM63 57h1v1h-1zM92 57h1v1h-1zM147 57h1v1h-1zM65 58h1v1h-1zM90 58h1v1h-1zM147 58h1v1h-1zM88 59h1v1h-1zM147 59h1v1h-1zM147 60h1v1h-1zM67 61h1v1h-1zM87 61h1v1h-1zM147 61h1v1h-1zM87 62h1v1h-1zM147 62h1v1h-1zM147 63h1v1h-1zM69 64h1v1h-1zM147 64h1v1h-1zM147 65h1v1h-1zM147 66h1v1h-1zM147 67h1v1h-1zM147 68h1v1h-1zM147 69h1v1h-1zM147 70h1v1h-1zM147 71h1v1h-1zM147 72h1v1h-1zM147 73h1v1h-1zM147 74h1v1h-1zM147 75h1v1h-1zM147 76h1v1h-1zM147 77h1v1h-1zM147 78h1v1h-1zM147 79h1v1h-1zM146 81h1v1h-1zM146 82h1v1h-1zM146 83h1v1h-1zM146 84h1v1h-1zM145 87h1v1h-1zM145 88h1v1h-1zM144 90h1v1h-1zM144 91h1v1h-1zM143 92h1v1h-1zM143 93h1v1h-1zM142 95h1v1h-1zM142 96h1v1h-1zM141 97h1v1h-1zM141 98h1v1h-1zM140 100h1v1h-1zM140 101h1v1h-1zM139 102h1v1h-1zM139 103h1v1h-1zM139 104h1v1h-1zM138 106h1v1h-1zM138 107h1v1h-1zM137 108h1v1h-1zM137 109h1v1h-1zM136 111h1v1h-1zM135 112h1v1h-1zM135 113h1v1h-1zM134 114h1v1h-1zM134 115h1v1h-1zM133 116h1v1h-1zM132 117h1v1h-1zM132 118h1v1h-1zM131 119h1v1h-1zM130 120h1v1h-1zM129 121h1v1h-1zM128 123h1v1h-1zM127 124h1v1h-1zM126 125h1v1h-1zM125 126h1v1h-1zM124 127h1v1h-1zM123 128h1v1h-1zM122 129h1v1h-1zM121 130h1v1h-1zM120 131h1v1h-1zM119 132h1v1h-1zM118 133h1v1h-1zM117 134h1v1h-1zM116 135h1v1h-1zM114 136h2v1h-2zM113 137h1v1h-1zM112 138h1v1h-1zM111 139h1v1h-1zM109 140h2v1h-2zM108 141h1v1h-1zM106 142h2v1h-2zM105 143h1v1h-1zM103 144h2v1h-2zM102 145h1v1h-1zM100 146h1v1h-1zM98 147h2v1h-2zM96 148h2v1h-2zM94 149h2v1h-2zM92 150h2v1h-2zM88 151h3v1h-3zM86 152h2v1h-2zM86 153h1v1h-1zM86 154h1v1h-1zM87 155h2v1h-2zM89 156h2v1h-2zM91 157h2v1h-2zM94 158h2v1h-2zM97 159h1v1h-1zM98 160h1v1h-1z"/><path fill="#ba00ff" d="M122 12h2v1h-2zM121 13h4v1h-4zM122 14h3v1h-3zM123 15h3v1h-3zM123 16h4v1h-4zM124 17h4v1h-4zM125 18h3v1h-3zM126 19h3v1h-3zM126 20h4v1h-4zM127 21h3v1h-3zM128 22h3v1h-3zM128 23h4v1h-4zM129 24h3v1h-3zM130 25h3v1h-3zM131 26h3v1h-3zM131 27h4v1h-4zM132 28h3v1h-3zM133 29h3v1h-3zM133 30h4v1h-4zM134 31h3v1h-3zM134 32h4v1h-4zM135 33h3v1h-3zM136 34h3v1h-3zM136 35h3v1h-3zM74 36h14v1h-14zM137 36h3v1h-3zM71 37h20v1h-20zM137 37h3v1h-3zM69 38h24v1h-24zM137 38h4v1h-4zM67 39h8v1h-8zM88 39h6v1h-6zM138 39h3v1h-3zM66 40h5v1h-5zM91 40h5v1h-5zM138 40h4v1h-4zM65 41h4v1h-4zM92 41h5v1h-5zM139 41h3v1h-3zM64 42h4v1h-4zM94 42h4v1h-4zM139 42h3v1h-3zM63 43h3v1h-3zM95 43h4v1h-4zM140 43h3v1h-3zM62 44h3v1h-3zM97 44h3v1h-3zM140 44h3v1h-3zM61 45h3v1h-3zM98 45h3v1h-3zM140 45h4v1h-4zM60 46h3v1h-3zM99 46h3v1h-3zM141 46h3v1h-3zM59 47h3v1h-3zM99 47h3v1h-3zM141 47h3v1h-3zM59 48h3v1h-3zM100 48h3v1h-3zM141 48h4v1h-4zM58 49h3v1h-3zM100 49h3v1h-3zM142 49h3v1h-3zM58 50h3v1h-3zM100 50h3v1h-3zM142 50h3v1h-3zM57 51h3v1h-3zM100 51h4v1h-4zM142 51h4v1h-4zM57 52h3v1h-3zM100 52h4v1h-4zM143 52h3v1h-3zM57 53h3v1h-3zM100 53h3v1h-3zM143 53h3v1h-3zM57 54h3v1h-3zM99 54h3v1h-3zM143 54h3v1h-3zM58 55h3v1h-3zM97 55h4v1h-4zM143 55h3v1h-3zM59 56h3v1h-3zM95 56h5v1h-5zM143 56h4v1h-4zM60 57h3v1h-3zM93 57h6v1h-6zM144 57h3v1h-3zM61 58h4v1h-4zM91 58h7v1h-7zM144 58h3v1h-3zM62 59h5v1h-5zM89 59h6v1h-6zM144 59h3v1h-3zM63 60h4v1h-4zM88 60h5v1h-5zM144 60h3v1h-3zM64 61h3v1h-3zM88 61h3v1h-3zM144 61h3v1h-3zM65 62h3v1h-3zM88 62h1v1h-1zM144 62h3v1h-3zM66 63h2v1h-2zM87 63h1v1h-1zM144 63h3v1h-3zM67 64h2v1h-2zM144 64h3v1h-3zM68 65h2v1h-2zM144 65h3v1h-3zM144 66h3v1h-3zM144 67h3v1h-3zM144 68h3v1h-3zM144 69h3v1h-3zM144 70h3v1h-3zM144 71h3v1h-3zM144 72h3v1h-3zM144 73h3v1h-3zM144 74h3v1h-3zM144 75h3v1h-3zM144 76h3v1h-3zM144 77h3v1h-3zM144 78h3v1h-3zM143 79h4v1h-4zM143 80h4v1h-4zM143 81h3v1h-3zM143 82h3v1h-3zM143 83h3v1h-3zM143 84h3v1h-3zM142 85h4v1h-4zM142 86h4v1h-4zM142 87h3v1h-3zM142 88h3v1h-3zM141 89h4v1h-4zM141 90h3v1h-3zM141 91h3v1h-3zM140 92h3v1h-3zM140 93h3v1h-3zM139 94h4v1h-4zM139 95h3v1h-3zM138 96h4v1h-4zM138 97h3v1h-3zM138 98h3v1h-3zM137 99h4v1h-4zM137 100h3v1h-3zM136 101h4v1h-4zM136 102h3v1h-3zM136 103h3v1h-3zM136 104h3v1h-3zM135 105h4v1h-4zM135 106h3v1h-3zM134 107h4v1h-4zM134 108h3v1h-3zM134 109h3v1h-3zM133 110h4v1h-4zM133 111h3v1h-3zM132 112h3v1h-3zM132 113h3v1h-3zM131 114h3v1h-3zM130 115h4v1h-4zM130 116h3v1h-3zM129 117h3v1h-3zM128 118h4v1h-4zM127 119h4v1h-4zM127 120h3v1h-3zM126 121h3v1h-3zM125 122h4v1h-4zM124 123h4v1h-4zM123 124h4v1h-4zM123 125h3v1h-3zM122 126h3v1h-3zM121 127h3v1h-3zM120 128h3v1h-3zM119 129h3v1h-3zM118 130h3v1h-3zM116 131h4v1h-4zM115 132h4v1h-4zM114 133h4v1h-4zM113 134h4v1h-4zM112 135h4v1h-4zM110 136h4v1h-4zM109 137h4v1h-4zM107 138h5v1h-5zM106 139h5v1h-5zM104 140h5v1h-5zM103 141h5v1h-5zM101 142h5v1h-5zM99 143h6v1h-6zM98 144h5v1h-5zM96 145h6v1h-6zM94 146h6v1h-6zM90 147h8v1h-8zM88 148h8v1h-8zM86 149h8v1h-8zM85 150h7v1h-7zM84 151h4v1h-4zM83 152h3v1h-3zM82 153h4v1h-4zM83 154h3v1h-3zM84 155h3v1h-3zM85 156h4v1h-4zM86 157h5v1h-5zM87 158h7v1h-7zM88 159h9v1h-9zM91 160h7v1h-7zM93 161h4v1h-4z"/></g></g>
</g>
<g fill="none" stroke="#747474" stroke-width="1.95" stroke-dasharray="20.5 22"><path d="M801.9 682.6A119.5 119.5 0 1 0 562.9 682.6A119.5 119.5 0 1 0 801.9 682.6"/><path d="M861.6 682.6A179.2 179.2 0 1 0 503.1 682.6A179.2 179.2 0 1 0 861.6 682.6"/><path d="M921.4 682.6A239.0 239.0 0 1 0 443.4 682.6A239.0 239.0 0 1 0 921.4 682.6"/><path d="M981.1 682.6A298.8 298.8 0 1 0 383.6 682.6A298.8 298.8 0 1 0 981.1 682.6"/><path d="M1040.9 682.6A358.5 358.5 0 1 0 323.9 682.6A358.5 358.5 0 1 0 1040.9 682.6"/><path d="M1100.7 682.6A418.2 418.2 0 1 0 264.1 682.6A418.2 418.2 0 1 0 1100.7 682.6"/><path d="M1160.4 682.6A478.0 478.0 0 1 0 204.4 682.6A478.0 478.0 0 1 0 1160.4 682.6"/></g>
<circle cx="682.4" cy="682.6" r="59.3" fill="#fff" stroke="#000" stroke-width="2.6"/>
<path d="M681.4 622.1A60.5 60.5 0 0 1 681.4 743.1Z" fill="#000"/>
<polygon points="778.0,877.0 785.0,897.9 807.0,898.1 789.3,911.2 795.9,932.2 778.0,919.4 760.1,932.2 766.7,911.2 749.0,898.1 771.0,897.9" fill="none" stroke="#000" stroke-width="5" stroke-linejoin="miter" stroke-miterlimit="2"/>
<text x="0" y="0" font-size="64.6" text-anchor="middle" transform="translate(185.2 683.4) rotate(-90)" style="fill:#ffa010">SUN</text>
<text x="671.4" y="1214" font-size="60.4" text-anchor="middle">-1=Field Aligned,0=Isotropic,+1=Perpendicular</text>
<defs><linearGradient id="gl" x1="0" x2="1" y1="0" y2="0"><stop offset="0.0000" stop-color="#ff0041"/><stop offset="0.0625" stop-color="#ff0052"/><stop offset="0.1250" stop-color="#ff0062"/><stop offset="0.1875" stop-color="#ff0072"/><stop offset="0.2500" stop-color="#ff0082"/><stop offset="0.3125" stop-color="#ff0093"/><stop offset="0.3750" stop-color="#ff00a3"/><stop offset="0.4375" stop-color="#ff00b3"/><stop offset="0.5000" stop-color="#ff00c3"/><stop offset="0.5625" stop-color="#ff00d4"/><stop offset="0.6250" stop-color="#ff00e4"/><stop offset="0.6875" stop-color="#ff00f4"/><stop offset="0.7500" stop-color="#f900ff"/><stop offset="0.8125" stop-color="#e900ff"/><stop offset="0.8750" stop-color="#d800ff"/><stop offset="0.9375" stop-color="#c700ff"/><stop offset="1.0000" stop-color="#b700ff"/></linearGradient><linearGradient id="gr" x1="0" x2="1" y1="0" y2="0"><stop offset="0.0000" stop-color="#0088ff"/><stop offset="0.0312" stop-color="#009fff"/><stop offset="0.0625" stop-color="#00b6ff"/><stop offset="0.0938" stop-color="#00cdff"/><stop offset="0.1250" stop-color="#00e4ff"/><stop offset="0.1562" stop-color="#00faff"/><stop offset="0.1875" stop-color="#00ffed"/><stop offset="0.2188" stop-color="#00ffd7"/><stop offset="0.2500" stop-color="#00ffc0"/><stop offset="0.2812" stop-color="#00ffaa"/><stop offset="0.3125" stop-color="#00ff94"/><stop offset="0.3438" stop-color="#00ff7d"/><stop offset="0.3750" stop-color="#00ff67"/><stop offset="0.4062" stop-color="#00ff51"/><stop offset="0.4375" stop-color="#00ff3a"/><stop offset="0.4688" stop-color="#00ff24"/><stop offset="0.5000" stop-color="#00ff0e"/><stop offset="0.5312" stop-color="#09ff00"/><stop offset="0.5625" stop-color="#1fff00"/><stop offset="0.5938" stop-color="#36ff00"/><stop offset="0.6250" stop-color="#4cff00"/><stop offset="0.6562" stop-color="#63ff00"/><stop offset="0.6875" stop-color="#79ff00"/><stop offset="0.7188" stop-color="#90ff00"/><stop offset="0.7500" stop-color="#a6ff00"/><stop offset="0.7812" stop-color="#bdff00"/><stop offset="0.8125" stop-color="#d3ff00"/><stop offset="0.8438" stop-color="#eaff00"/><stop offset="0.8750" stop-color="#fffe00"/><stop offset="0.9062" stop-color="#ffe700"/><stop offset="0.9375" stop-color="#ffd100"/><stop offset="0.9688" stop-color="#ffbb00"/><stop offset="1.0000" stop-color="#ffa400"/></linearGradient></defs><rect x="208.2" y="1228.5" width="480.3" height="34" fill="url(#gl)"/><rect x="688.5" y="1228.5" width="471.9" height="34" fill="url(#gr)"/><path d="M204.0 1262.6H1161.2" stroke="#000" stroke-width="2.2" fill="none"/><path d="M205.0 1263.3v-10M252.8 1263.3v-5.8M300.5 1263.3v-5.8M348.2 1263.3v-5.8M396.0 1263.3v-5.8M443.8 1263.3v-10M491.5 1263.3v-5.8M539.2 1263.3v-5.8M587.0 1263.3v-5.8M634.8 1263.3v-5.8M682.5 1263.3v-10M730.2 1263.3v-5.8M778.0 1263.3v-5.8M825.8 1263.3v-5.8M873.5 1263.3v-5.8M921.2 1263.3v-10M969.0 1263.3v-5.8M1016.8 1263.3v-5.8M1064.5 1263.3v-5.8M1112.2 1263.3v-5.8M1160.0 1263.3v-10" stroke="#000" stroke-width="2" fill="none"/>
<g font-size="65.3" text-anchor="middle">
<text x="205" y="1331">-1.0</text>
<text x="443.7" y="1331">-0.5</text>
<text x="682.5" y="1331">0.0</text>
<text x="921.2" y="1331">0.5</text>
<text x="1160" y="1331">1.0</text>
</g>
</svg>
</body></html>
